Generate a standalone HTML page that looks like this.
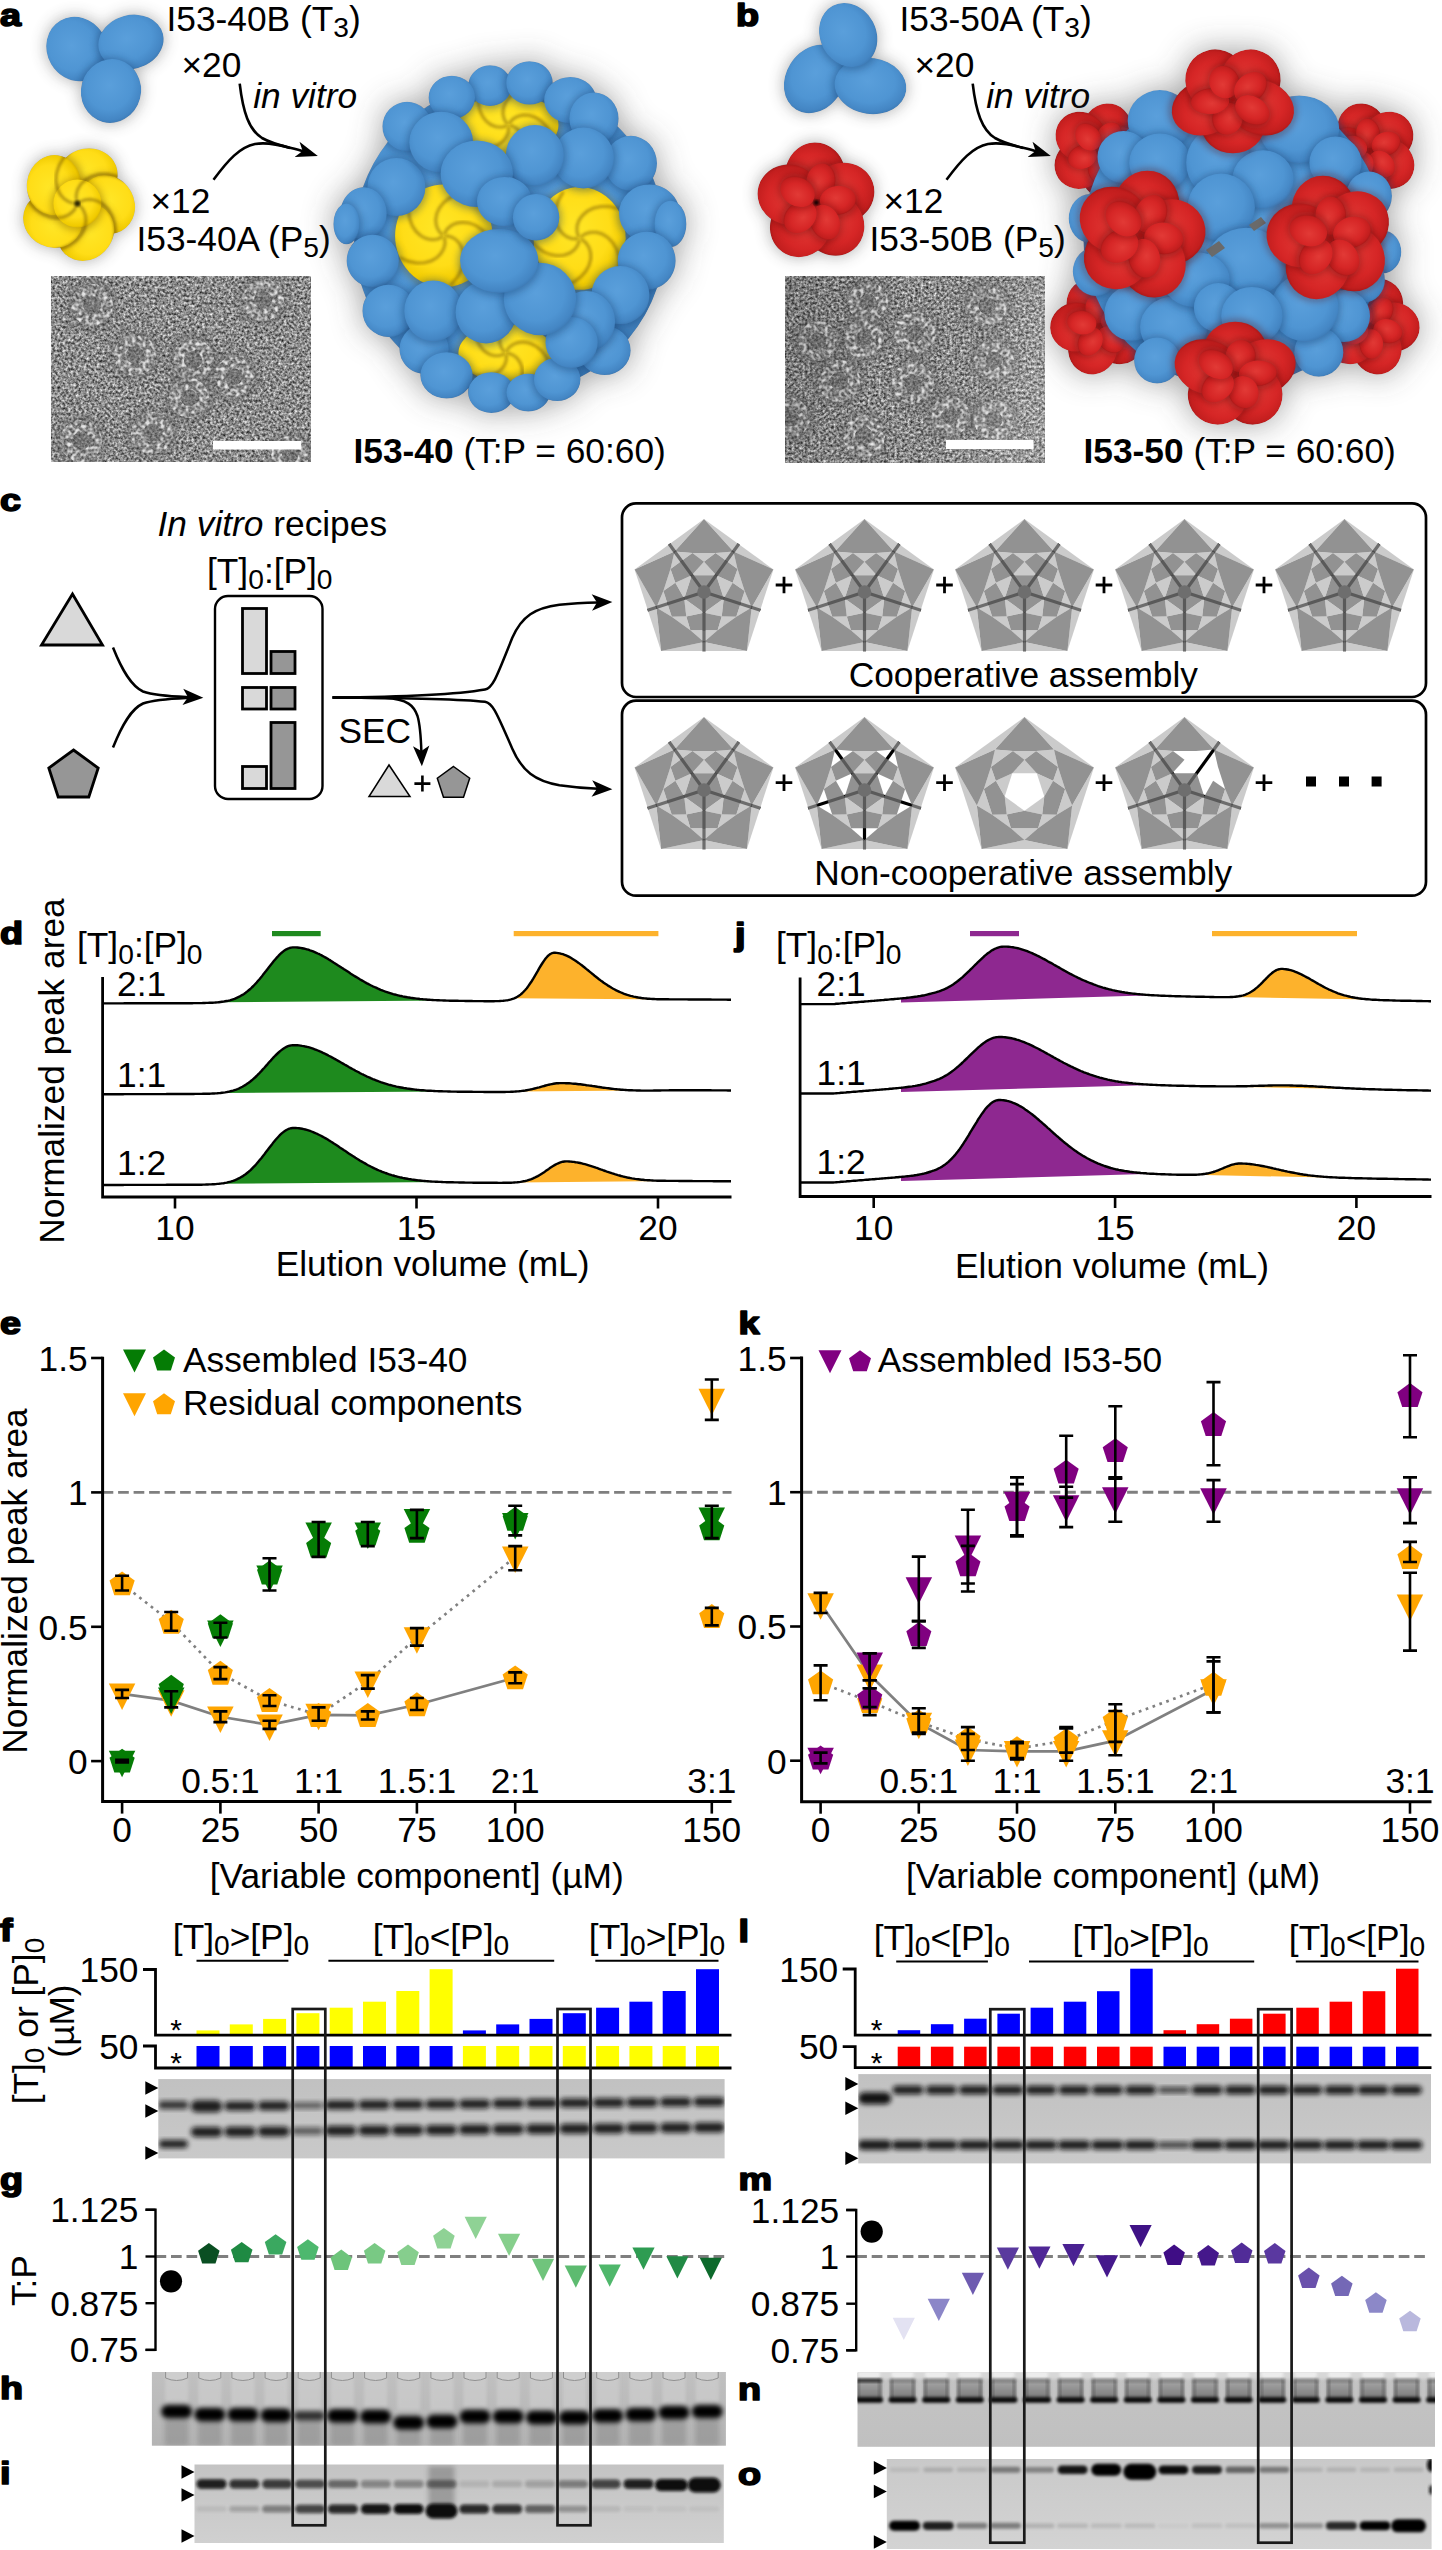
<!DOCTYPE html>
<html><head><meta charset="utf-8"><title>Figure</title>
<style>html,body{margin:0;padding:0;background:#fff}svg{display:block}text{font-family:"Liberation Sans",sans-serif}</style>
</head><body>
<svg width="1442" height="2550" viewBox="0 0 1442 2550">
<defs>
<radialGradient id="gB" cx="0.45" cy="0.42" r="0.62"><stop offset="0" stop-color="#5a9fdb"/><stop offset="0.62" stop-color="#4f95d3"/><stop offset="0.88" stop-color="#4486c4"/><stop offset="1" stop-color="#3a76b0"/></radialGradient>
<radialGradient id="gY" cx="0.45" cy="0.42" r="0.62"><stop offset="0" stop-color="#ffe626"/><stop offset="0.6" stop-color="#ffdd17"/><stop offset="0.88" stop-color="#f0ca00"/><stop offset="1" stop-color="#cfa900"/></radialGradient>
<radialGradient id="gR" cx="0.45" cy="0.42" r="0.62"><stop offset="0" stop-color="#e23a36"/><stop offset="0.6" stop-color="#d62626"/><stop offset="0.88" stop-color="#c21e1e"/><stop offset="1" stop-color="#a01515"/></radialGradient>
<radialGradient id="gSh" cx="0.5" cy="0.5" r="0.5"><stop offset="0" stop-color="#000" stop-opacity="0.2"/><stop offset="0.74" stop-color="#000" stop-opacity="0.17"/><stop offset="0.84" stop-color="#000" stop-opacity="0.09"/><stop offset="0.93" stop-color="#000" stop-opacity="0.03"/><stop offset="1" stop-color="#000" stop-opacity="0"/></radialGradient>
<linearGradient id="emg" x1="0" y1="0" x2="1" y2="0.2"><stop offset="0" stop-color="#000" stop-opacity="0.16"/><stop offset="0.5" stop-color="#000" stop-opacity="0"/><stop offset="1" stop-color="#fff" stop-opacity="0.14"/></linearGradient>
<filter id="soft" x="-10%" y="-10%" width="120%" height="120%"><feGaussianBlur stdDeviation="0.8"/></filter>
<filter id="crease" x="-10%" y="-10%" width="120%" height="120%"><feGaussianBlur stdDeviation="1.6"/></filter>
<filter id="glS" x="-40%" y="-40%" width="180%" height="180%"><feGaussianBlur stdDeviation="8"/></filter>
<filter id="glL" x="-20%" y="-20%" width="140%" height="140%"><feGaussianBlur stdDeviation="16"/></filter>
<filter id="ao" x="-30%" y="-30%" width="160%" height="160%"><feGaussianBlur stdDeviation="3.6"/></filter>
<marker id="arrL" viewBox="0 0 12 10" refX="4" refY="5" markerWidth="8.5" markerHeight="7" orient="auto" markerUnits="strokeWidth"><path d="M0,0.6 L12,5 L0,9.4 L3.2,5 Z" fill="#000"/></marker>
<clipPath id="pc1"><ellipse cx="77.0" cy="49.0" rx="30.0" ry="33.0" transform="rotate(-30 77.0 49.0)"/><ellipse cx="131.0" cy="42.0" rx="33.0" ry="27.0" transform="rotate(-15 131.0 42.0)"/><ellipse cx="111.0" cy="91.0" rx="30.0" ry="32.0" transform="rotate(15 111.0 91.0)"/></clipPath>
<clipPath id="pc2"><ellipse cx="87.7" cy="175.3" rx="30.0" ry="27.0" transform="rotate(-10 87.7 175.3)"/><ellipse cx="107.4" cy="204.5" rx="30.0" ry="27.0" transform="rotate(62 107.4 204.5)"/><ellipse cx="85.7" cy="232.3" rx="30.0" ry="27.0" transform="rotate(134 85.7 232.3)"/><ellipse cx="52.5" cy="220.3" rx="30.0" ry="27.0" transform="rotate(206 52.5 220.3)"/><ellipse cx="53.8" cy="185.0" rx="30.0" ry="27.0" transform="rotate(278 53.8 185.0)"/><ellipse cx="77.4" cy="203.5" rx="24.0" ry="24.0"/></clipPath>
<clipPath id="pc3"><ellipse cx="509.7" cy="238.4" rx="155.5" ry="155.5"/><ellipse cx="508.4" cy="125.1" rx="50.1" ry="31.6"/><ellipse cx="443.8" cy="235.8" rx="48.7" ry="51.4"/><ellipse cx="579.6" cy="238.4" rx="46.1" ry="51.4"/><ellipse cx="505.8" cy="353.0" rx="47.4" ry="29.0"/><ellipse cx="490.0" cy="85.6" rx="21.7" ry="20.3"/><ellipse cx="529.5" cy="82.9" rx="23.2" ry="21.7"/><ellipse cx="451.8" cy="97.4" rx="23.2" ry="21.7"/><ellipse cx="570.3" cy="100.1" rx="26.1" ry="23.2"/><ellipse cx="594.0" cy="118.5" rx="24.6" ry="26.1"/><ellipse cx="407.0" cy="126.4" rx="24.6" ry="24.6"/><ellipse cx="396.4" cy="187.0" rx="29.0" ry="29.0"/><ellipse cx="630.9" cy="163.3" rx="26.1" ry="27.5"/><ellipse cx="649.4" cy="213.4" rx="30.4" ry="29.0"/><ellipse cx="670.5" cy="223.9" rx="15.9" ry="23.2"/><ellipse cx="646.7" cy="260.8" rx="29.0" ry="29.0"/><ellipse cx="363.5" cy="213.4" rx="23.2" ry="26.1"/><ellipse cx="346.4" cy="223.9" rx="13.0" ry="20.3"/><ellipse cx="372.7" cy="260.8" rx="26.1" ry="26.1"/><ellipse cx="388.5" cy="310.9" rx="26.1" ry="26.1"/><ellipse cx="604.6" cy="350.4" rx="26.1" ry="24.6"/><ellipse cx="424.1" cy="349.1" rx="24.6" ry="24.6"/><ellipse cx="446.5" cy="375.4" rx="26.1" ry="23.2"/><ellipse cx="491.3" cy="392.6" rx="23.2" ry="20.3"/><ellipse cx="528.2" cy="392.6" rx="21.7" ry="18.8"/><ellipse cx="557.2" cy="379.4" rx="23.2" ry="21.7"/><ellipse cx="620.4" cy="295.1" rx="29.0" ry="29.0"/><ellipse cx="441.2" cy="142.2" rx="31.9" ry="30.4"/><ellipse cx="583.5" cy="158.0" rx="30.4" ry="30.4"/><ellipse cx="433.3" cy="310.9" rx="29.0" ry="30.4"/><ellipse cx="586.1" cy="321.4" rx="29.0" ry="30.4"/><ellipse cx="571.6" cy="342.5" rx="26.1" ry="25.5"/><ellipse cx="534.8" cy="155.4" rx="29.0" ry="30.4"/><ellipse cx="476.8" cy="173.8" rx="36.2" ry="33.3"/><ellipse cx="486.0" cy="312.2" rx="30.4" ry="31.3"/><ellipse cx="540.0" cy="299.0" rx="36.2" ry="36.2"/><ellipse cx="499.2" cy="260.8" rx="39.1" ry="31.9"/><ellipse cx="504.5" cy="201.5" rx="27.5" ry="24.6"/><ellipse cx="536.1" cy="217.3" rx="23.2" ry="23.2"/></clipPath>
<filter id="em7" x="0" y="0" width="100%" height="100%" color-interpolation-filters="sRGB"><feTurbulence type="fractalNoise" baseFrequency="0.38" numOctaves="2" seed="7" result="n"/><feColorMatrix in="n" type="matrix" values="1.15 0 0 0 -0.03  1.15 0 0 0 -0.03  1.15 0 0 0 -0.03  0 0 0 0 1"/></filter>
<filter id="em7p" x="-20%" y="-20%" width="140%" height="140%" color-interpolation-filters="sRGB"><feTurbulence type="fractalNoise" baseFrequency="0.28" numOctaves="1" seed="12" result="n"/><feColorMatrix in="n" type="matrix" values="0 0 0 0 1  0 0 0 0 1  0 0 0 0 1  3.2 0 0 0 -1.35" result="spk"/><feComposite in="spk" in2="SourceGraphic" operator="in"/></filter>
<clipPath id="em7c"><rect x="51" y="276" width="260" height="186"/></clipPath>
<clipPath id="pc4"><ellipse cx="815.0" cy="79.0" rx="29.0" ry="36.0" transform="rotate(32 815.0 79.0)"/><ellipse cx="870.5" cy="86.0" rx="36.0" ry="28.0" transform="rotate(8 870.5 86.0)"/><ellipse cx="848.2" cy="35.0" rx="28.0" ry="33.0" transform="rotate(-28 848.2 35.0)"/></clipPath>
<clipPath id="pc5"><ellipse cx="816.3" cy="202.5" rx="44.4" ry="44.4"/><ellipse cx="815.3" cy="174.3" rx="31.8" ry="30.0" transform="rotate(-92 815.3 174.3)"/><ellipse cx="842.8" cy="192.9" rx="31.8" ry="30.0" transform="rotate(-20 842.8 192.9)"/><ellipse cx="833.7" cy="224.7" rx="31.8" ry="30.0" transform="rotate(52 833.7 224.7)"/><ellipse cx="800.5" cy="225.9" rx="31.8" ry="30.0" transform="rotate(124 800.5 225.9)"/><ellipse cx="789.2" cy="194.7" rx="31.8" ry="30.0" transform="rotate(196 789.2 194.7)"/><ellipse cx="820.8" cy="181.4" rx="18.0" ry="14.4" transform="rotate(-78 820.8 181.4)"/><ellipse cx="837.8" cy="200.2" rx="18.0" ry="14.4" transform="rotate(-6 837.8 200.2)"/><ellipse cx="825.1" cy="222.2" rx="18.0" ry="14.4" transform="rotate(66 825.1 222.2)"/><ellipse cx="800.2" cy="217.0" rx="18.0" ry="14.4" transform="rotate(138 800.2 217.0)"/><ellipse cx="797.6" cy="191.7" rx="18.0" ry="14.4" transform="rotate(210 797.6 191.7)"/></clipPath>
<clipPath id="pc6"><ellipse cx="1099.1" cy="151.0" rx="36.3" ry="36.3"/><ellipse cx="1107.0" cy="129.3" rx="26.0" ry="24.5" transform="rotate(-70 1107.0 129.3)"/><ellipse cx="1122.1" cy="151.8" rx="26.0" ry="24.5" transform="rotate(2 1122.1 151.8)"/><ellipse cx="1105.5" cy="173.1" rx="26.0" ry="24.5" transform="rotate(74 1105.5 173.1)"/><ellipse cx="1080.0" cy="163.9" rx="26.0" ry="24.5" transform="rotate(146 1080.0 163.9)"/><ellipse cx="1080.9" cy="136.8" rx="26.0" ry="24.5" transform="rotate(218 1080.9 136.8)"/><ellipse cx="1109.0" cy="136.3" rx="14.7" ry="11.8" transform="rotate(-56 1109.0 136.3)"/><ellipse cx="1116.1" cy="155.8" rx="14.7" ry="11.8" transform="rotate(16 1116.1 155.8)"/><ellipse cx="1099.7" cy="168.6" rx="14.7" ry="11.8" transform="rotate(88 1099.7 168.6)"/><ellipse cx="1082.5" cy="157.0" rx="14.7" ry="11.8" transform="rotate(160 1082.5 157.0)"/><ellipse cx="1088.2" cy="137.0" rx="14.7" ry="11.8" transform="rotate(232 1088.2 137.0)"/><ellipse cx="1369.8" cy="151.0" rx="36.3" ry="36.3"/><ellipse cx="1361.9" cy="129.3" rx="26.0" ry="24.5" transform="rotate(-110 1361.9 129.3)"/><ellipse cx="1388.0" cy="136.8" rx="26.0" ry="24.5" transform="rotate(-38 1388.0 136.8)"/><ellipse cx="1388.9" cy="163.9" rx="26.0" ry="24.5" transform="rotate(34 1388.9 163.9)"/><ellipse cx="1363.4" cy="173.1" rx="26.0" ry="24.5" transform="rotate(106 1363.4 173.1)"/><ellipse cx="1346.8" cy="151.8" rx="26.0" ry="24.5" transform="rotate(178 1346.8 151.8)"/><ellipse cx="1368.0" cy="133.4" rx="14.7" ry="11.8" transform="rotate(-96 1368.0 133.4)"/><ellipse cx="1385.9" cy="143.8" rx="14.7" ry="11.8" transform="rotate(-24 1385.9 143.8)"/><ellipse cx="1381.6" cy="164.1" rx="14.7" ry="11.8" transform="rotate(48 1381.6 164.1)"/><ellipse cx="1361.0" cy="166.3" rx="14.7" ry="11.8" transform="rotate(120 1361.0 166.3)"/><ellipse cx="1352.5" cy="147.3" rx="14.7" ry="11.8" transform="rotate(192 1352.5 147.3)"/><ellipse cx="1099.1" cy="326.3" rx="36.3" ry="36.3"/><ellipse cx="1091.2" cy="304.6" rx="26.0" ry="24.5" transform="rotate(-110 1091.2 304.6)"/><ellipse cx="1117.3" cy="312.1" rx="26.0" ry="24.5" transform="rotate(-38 1117.3 312.1)"/><ellipse cx="1118.2" cy="339.2" rx="26.0" ry="24.5" transform="rotate(34 1118.2 339.2)"/><ellipse cx="1092.7" cy="348.5" rx="26.0" ry="24.5" transform="rotate(106 1092.7 348.5)"/><ellipse cx="1076.1" cy="327.1" rx="26.0" ry="24.5" transform="rotate(178 1076.1 327.1)"/><ellipse cx="1097.3" cy="308.7" rx="14.7" ry="11.8" transform="rotate(-96 1097.3 308.7)"/><ellipse cx="1115.2" cy="319.1" rx="14.7" ry="11.8" transform="rotate(-24 1115.2 319.1)"/><ellipse cx="1110.9" cy="339.4" rx="14.7" ry="11.8" transform="rotate(48 1110.9 339.4)"/><ellipse cx="1090.3" cy="341.6" rx="14.7" ry="11.8" transform="rotate(120 1090.3 341.6)"/><ellipse cx="1081.8" cy="322.6" rx="14.7" ry="11.8" transform="rotate(192 1081.8 322.6)"/><ellipse cx="1370.6" cy="326.3" rx="36.3" ry="36.3"/><ellipse cx="1378.5" cy="304.6" rx="26.0" ry="24.5" transform="rotate(-70 1378.5 304.6)"/><ellipse cx="1393.7" cy="327.1" rx="26.0" ry="24.5" transform="rotate(2 1393.7 327.1)"/><ellipse cx="1377.0" cy="348.5" rx="26.0" ry="24.5" transform="rotate(74 1377.0 348.5)"/><ellipse cx="1351.5" cy="339.2" rx="26.0" ry="24.5" transform="rotate(146 1351.5 339.2)"/><ellipse cx="1352.5" cy="312.1" rx="26.0" ry="24.5" transform="rotate(218 1352.5 312.1)"/><ellipse cx="1380.5" cy="311.7" rx="14.7" ry="11.8" transform="rotate(-56 1380.5 311.7)"/><ellipse cx="1387.6" cy="331.2" rx="14.7" ry="11.8" transform="rotate(16 1387.6 331.2)"/><ellipse cx="1371.3" cy="344.0" rx="14.7" ry="11.8" transform="rotate(88 1371.3 344.0)"/><ellipse cx="1354.0" cy="332.4" rx="14.7" ry="11.8" transform="rotate(160 1354.0 332.4)"/><ellipse cx="1359.8" cy="312.4" rx="14.7" ry="11.8" transform="rotate(232 1359.8 312.4)"/><ellipse cx="1233.8" cy="236.5" rx="150.5" ry="150.5"/><ellipse cx="1159.9" cy="120.8" rx="32.2" ry="30.7"/><ellipse cx="1123.6" cy="157.1" rx="26.1" ry="26.1"/><ellipse cx="1159.9" cy="162.7" rx="30.7" ry="29.1"/><ellipse cx="1299.3" cy="129.2" rx="39.9" ry="33.7"/><ellipse cx="1335.5" cy="162.7" rx="26.1" ry="26.1"/><ellipse cx="1369.0" cy="196.1" rx="23.0" ry="24.5"/><ellipse cx="1382.9" cy="251.9" rx="18.4" ry="21.5"/><ellipse cx="1090.2" cy="218.4" rx="21.5" ry="24.5"/><ellipse cx="1095.8" cy="271.4" rx="23.0" ry="24.5"/><ellipse cx="1132.0" cy="313.2" rx="27.6" ry="27.6"/><ellipse cx="1173.8" cy="327.1" rx="33.7" ry="30.7"/><ellipse cx="1157.1" cy="360.6" rx="23.0" ry="23.0"/><ellipse cx="1363.4" cy="279.8" rx="21.5" ry="23.0"/><ellipse cx="1343.9" cy="316.0" rx="26.1" ry="26.1"/><ellipse cx="1318.8" cy="352.2" rx="24.5" ry="24.5"/><ellipse cx="1304.8" cy="307.6" rx="33.7" ry="33.7"/><ellipse cx="1218.4" cy="162.7" rx="32.2" ry="35.3"/><ellipse cx="1263.0" cy="179.4" rx="30.7" ry="29.1"/><ellipse cx="1221.2" cy="207.3" rx="33.7" ry="33.7"/><ellipse cx="1246.3" cy="263.0" rx="39.9" ry="35.3"/><ellipse cx="1196.1" cy="279.8" rx="33.7" ry="27.6"/><ellipse cx="1218.4" cy="307.6" rx="24.5" ry="24.5"/><ellipse cx="1251.9" cy="316.0" rx="30.7" ry="29.1"/><ellipse cx="1232.9" cy="99.9" rx="47.0" ry="39.5"/><ellipse cx="1232.9" cy="125.0" rx="28.3" ry="31.8" transform="rotate(90 1232.9 125.0)"/><ellipse cx="1204.5" cy="107.7" rx="33.2" ry="27.2" transform="rotate(162 1204.5 107.7)"/><ellipse cx="1215.4" cy="79.6" rx="30.3" ry="30.1" transform="rotate(234 1215.4 79.6)"/><ellipse cx="1250.5" cy="79.6" rx="30.3" ry="30.1" transform="rotate(306 1250.5 79.6)"/><ellipse cx="1261.3" cy="107.7" rx="33.2" ry="27.2" transform="rotate(378 1261.3 107.7)"/><ellipse cx="1227.4" cy="118.6" rx="16.2" ry="15.1" transform="rotate(104 1227.4 118.6)"/><ellipse cx="1210.1" cy="101.3" rx="19.1" ry="12.8" transform="rotate(176 1210.1 101.3)"/><ellipse cx="1224.3" cy="82.1" rx="16.5" ry="14.9" transform="rotate(248 1224.3 82.1)"/><ellipse cx="1250.4" cy="87.6" rx="17.9" ry="13.9" transform="rotate(320 1250.4 87.6)"/><ellipse cx="1252.3" cy="110.1" rx="18.3" ry="13.5" transform="rotate(392 1252.3 110.1)"/><ellipse cx="1140.4" cy="235.1" rx="48.3" ry="48.3"/><ellipse cx="1146.7" cy="205.2" rx="34.6" ry="32.6" transform="rotate(-78 1146.7 205.2)"/><ellipse cx="1170.9" cy="231.9" rx="34.6" ry="32.6" transform="rotate(-6 1170.9 231.9)"/><ellipse cx="1152.8" cy="263.2" rx="34.6" ry="32.6" transform="rotate(66 1152.8 263.2)"/><ellipse cx="1117.6" cy="255.7" rx="34.6" ry="32.6" transform="rotate(138 1117.6 255.7)"/><ellipse cx="1113.8" cy="219.8" rx="34.6" ry="32.6" transform="rotate(210 1113.8 219.8)"/><ellipse cx="1150.7" cy="214.0" rx="19.6" ry="15.7" transform="rotate(-64 1150.7 214.0)"/><ellipse cx="1163.6" cy="238.4" rx="19.6" ry="15.7" transform="rotate(8 1163.6 238.4)"/><ellipse cx="1144.4" cy="258.3" rx="19.6" ry="15.7" transform="rotate(80 1144.4 258.3)"/><ellipse cx="1119.6" cy="246.2" rx="19.6" ry="15.7" transform="rotate(152 1119.6 246.2)"/><ellipse cx="1123.5" cy="218.8" rx="19.6" ry="15.7" transform="rotate(224 1123.5 218.8)"/><ellipse cx="1329.9" cy="238.5" rx="47.0" ry="47.0"/><ellipse cx="1323.7" cy="209.3" rx="33.7" ry="31.8" transform="rotate(-102 1323.7 209.3)"/><ellipse cx="1355.8" cy="223.6" rx="33.7" ry="31.8" transform="rotate(-30 1355.8 223.6)"/><ellipse cx="1352.1" cy="258.5" rx="33.7" ry="31.8" transform="rotate(42 1352.1 258.5)"/><ellipse cx="1317.8" cy="265.8" rx="33.7" ry="31.8" transform="rotate(114 1317.8 265.8)"/><ellipse cx="1300.2" cy="235.4" rx="33.7" ry="31.8" transform="rotate(186 1300.2 235.4)"/><ellipse cx="1330.7" cy="215.6" rx="19.1" ry="15.3" transform="rotate(-88 1330.7 215.6)"/><ellipse cx="1351.9" cy="232.2" rx="19.1" ry="15.3" transform="rotate(-16 1351.9 232.2)"/><ellipse cx="1342.7" cy="257.5" rx="19.1" ry="15.3" transform="rotate(56 1342.7 257.5)"/><ellipse cx="1315.8" cy="256.5" rx="19.1" ry="15.3" transform="rotate(128 1315.8 256.5)"/><ellipse cx="1308.4" cy="230.7" rx="19.1" ry="15.3" transform="rotate(200 1308.4 230.7)"/><ellipse cx="1235.1" cy="374.5" rx="46.6" ry="39.2"/><ellipse cx="1235.1" cy="349.7" rx="28.0" ry="31.5" transform="rotate(-90 1235.1 349.7)"/><ellipse cx="1263.3" cy="366.9" rx="32.9" ry="27.0" transform="rotate(-18 1263.3 366.9)"/><ellipse cx="1252.6" cy="394.7" rx="30.0" ry="29.9" transform="rotate(54 1252.6 394.7)"/><ellipse cx="1217.7" cy="394.7" rx="30.0" ry="29.9" transform="rotate(126 1217.7 394.7)"/><ellipse cx="1207.0" cy="366.9" rx="32.9" ry="27.0" transform="rotate(198 1207.0 366.9)"/><ellipse cx="1240.6" cy="356.1" rx="16.1" ry="15.0" transform="rotate(-76 1240.6 356.1)"/><ellipse cx="1257.8" cy="373.2" rx="18.9" ry="12.7" transform="rotate(-4 1257.8 373.2)"/><ellipse cx="1243.6" cy="392.2" rx="16.3" ry="14.8" transform="rotate(68 1243.6 392.2)"/><ellipse cx="1217.8" cy="386.8" rx="17.7" ry="13.8" transform="rotate(140 1217.8 386.8)"/><ellipse cx="1215.9" cy="364.4" rx="18.1" ry="13.4" transform="rotate(212 1215.9 364.4)"/></clipPath>
<filter id="em11" x="0" y="0" width="100%" height="100%" color-interpolation-filters="sRGB"><feTurbulence type="fractalNoise" baseFrequency="0.38" numOctaves="2" seed="11" result="n"/><feColorMatrix in="n" type="matrix" values="1.15 0 0 0 -0.03  1.15 0 0 0 -0.03  1.15 0 0 0 -0.03  0 0 0 0 1"/></filter>
<filter id="em11p" x="-20%" y="-20%" width="140%" height="140%" color-interpolation-filters="sRGB"><feTurbulence type="fractalNoise" baseFrequency="0.28" numOctaves="1" seed="16" result="n"/><feColorMatrix in="n" type="matrix" values="0 0 0 0 1  0 0 0 0 1  0 0 0 0 1  3.2 0 0 0 -1.35" result="spk"/><feComposite in="spk" in2="SourceGraphic" operator="in"/></filter>
<clipPath id="em11c"><rect x="785" y="276.3" width="260" height="186.4"/></clipPath>
<marker id="arr" viewBox="0 0 10 10" refX="3" refY="5" markerWidth="9.4" markerHeight="8.2" orient="auto" markerUnits="strokeWidth"><path d="M0,1 L10,5 L0,9 L2.5,5 Z" fill="#000"/></marker>
<filter id="b1" x="-20%" y="-50%" width="140%" height="200%"><feGaussianBlur stdDeviation="1.6"/></filter>
<filter id="b2" x="-20%" y="-50%" width="140%" height="200%"><feGaussianBlur stdDeviation="2.4"/></filter>
<filter id="b3" x="-20%" y="-20%" width="140%" height="140%"><feGaussianBlur stdDeviation="4"/></filter>
<filter id="gnoise" x="0" y="0" width="100%" height="100%"><feTurbulence type="fractalNoise" baseFrequency="0.9" numOctaves="2" seed="3"/><feColorMatrix type="matrix" values="0 0 0 0 0  0 0 0 0 0  0 0 0 0 0  0.25 0 0 0 -0.05"/><feComposite in2="SourceGraphic" operator="in"/></filter>
<linearGradient id="gg1" x1="0" y1="0" x2="0" y2="1"><stop offset="0" stop-color="#c1c1c1"/><stop offset="1" stop-color="#c9c9c9"/></linearGradient>
<clipPath id="cgg1"><rect x="158.3" y="2079.1" width="566.3" height="79.3"/></clipPath>
<linearGradient id="gg2" x1="0" y1="0" x2="0" y2="1"><stop offset="0" stop-color="#c1c1c1"/><stop offset="1" stop-color="#cacaca"/></linearGradient>
<clipPath id="cgg2"><rect x="858.3" y="2074.1" width="572.7" height="89.3"/></clipPath>
<linearGradient id="gg3" x1="0" y1="0" x2="0" y2="1"><stop offset="0" stop-color="#c0c0c0"/><stop offset="1" stop-color="#b4b4b4"/></linearGradient>
<clipPath id="cgg3"><rect x="151.9" y="2372.0" width="574.0" height="73.7"/></clipPath>
<linearGradient id="gg4" x1="0" y1="0" x2="0" y2="1"><stop offset="0" stop-color="#c3c3c3"/><stop offset="1" stop-color="#d0d0d0"/></linearGradient>
<clipPath id="cgg4"><rect x="194.5" y="2464.5" width="529.3" height="78.5"/></clipPath>
<linearGradient id="lanen" x1="0" y1="0" x2="0" y2="1"><stop offset="0" stop-color="#a8a8a8"/><stop offset="1" stop-color="#6e6e6e"/></linearGradient>
<linearGradient id="gg5" x1="0" y1="0" x2="0" y2="1"><stop offset="0" stop-color="#c4c4c4"/><stop offset="1" stop-color="#c0c0c0"/></linearGradient>
<clipPath id="cgg5"><rect x="857.5" y="2372.5" width="577.5" height="74.3"/></clipPath>
<linearGradient id="gg6" x1="0" y1="0" x2="0" y2="1"><stop offset="0" stop-color="#c9c9c9"/><stop offset="1" stop-color="#d3d3d3"/></linearGradient>
<clipPath id="cgg6"><rect x="886.8" y="2459.0" width="544.8" height="90.0"/></clipPath>
</defs>
<rect width="1442" height="2550" fill="#fff"/>
<text x="0" y="26" font-size="32" font-weight="bold" stroke="#000" stroke-width="1.7" stroke-linejoin="round" transform="translate(0,0) scale(1.18,1) translate(0,0)">a</text>
<g filter="url(#glS)" opacity="0.42" fill="#3c3c3c"><ellipse cx="77.0" cy="49.0" rx="30.0" ry="33.0" transform="rotate(-30 77.0 49.0)"/><ellipse cx="131.0" cy="42.0" rx="33.0" ry="27.0" transform="rotate(-15 131.0 42.0)"/><ellipse cx="111.0" cy="91.0" rx="30.0" ry="32.0" transform="rotate(15 111.0 91.0)"/></g>
<g clip-path="url(#pc1)">
<ellipse cx="77.0" cy="50.0" rx="32.5" ry="35.5" fill="#143e6e" opacity="0.38" filter="url(#ao)" transform="rotate(-30 77.0 49.0)"/>
<ellipse cx="77.0" cy="49.0" rx="30.0" ry="33.0" fill="url(#gB)" transform="rotate(-30 77.0 49.0)"/>
<ellipse cx="131.0" cy="43.0" rx="35.5" ry="29.5" fill="#143e6e" opacity="0.38" filter="url(#ao)" transform="rotate(-15 131.0 42.0)"/>
<ellipse cx="131.0" cy="42.0" rx="33.0" ry="27.0" fill="url(#gB)" transform="rotate(-15 131.0 42.0)"/>
<ellipse cx="111.0" cy="92.0" rx="32.5" ry="34.5" fill="#143e6e" opacity="0.38" filter="url(#ao)" transform="rotate(15 111.0 91.0)"/>
<ellipse cx="111.0" cy="91.0" rx="30.0" ry="32.0" fill="url(#gB)" transform="rotate(15 111.0 91.0)"/>
</g>
<g filter="url(#glS)" opacity="0.42" fill="#3c3c3c"><ellipse cx="87.7" cy="175.3" rx="30.0" ry="27.0" transform="rotate(-10 87.7 175.3)"/><ellipse cx="107.4" cy="204.5" rx="30.0" ry="27.0" transform="rotate(62 107.4 204.5)"/><ellipse cx="85.7" cy="232.3" rx="30.0" ry="27.0" transform="rotate(134 85.7 232.3)"/><ellipse cx="52.5" cy="220.3" rx="30.0" ry="27.0" transform="rotate(206 52.5 220.3)"/><ellipse cx="53.8" cy="185.0" rx="30.0" ry="27.0" transform="rotate(278 53.8 185.0)"/><ellipse cx="77.4" cy="203.5" rx="24.0" ry="24.0"/></g>
<g clip-path="url(#pc2)">
<ellipse cx="87.7" cy="176.3" rx="32.5" ry="29.5" fill="#7a5c00" opacity="0.4" filter="url(#ao)" transform="rotate(-10 87.7 175.3)"/>
<ellipse cx="87.7" cy="175.3" rx="30.0" ry="27.0" fill="url(#gY)" transform="rotate(-10 87.7 175.3)"/>
<ellipse cx="107.4" cy="205.5" rx="32.5" ry="29.5" fill="#7a5c00" opacity="0.4" filter="url(#ao)" transform="rotate(62 107.4 204.5)"/>
<ellipse cx="107.4" cy="204.5" rx="30.0" ry="27.0" fill="url(#gY)" transform="rotate(62 107.4 204.5)"/>
<ellipse cx="85.7" cy="233.3" rx="32.5" ry="29.5" fill="#7a5c00" opacity="0.4" filter="url(#ao)" transform="rotate(134 85.7 232.3)"/>
<ellipse cx="85.7" cy="232.3" rx="30.0" ry="27.0" fill="url(#gY)" transform="rotate(134 85.7 232.3)"/>
<ellipse cx="52.5" cy="221.3" rx="32.5" ry="29.5" fill="#7a5c00" opacity="0.4" filter="url(#ao)" transform="rotate(206 52.5 220.3)"/>
<ellipse cx="52.5" cy="220.3" rx="30.0" ry="27.0" fill="url(#gY)" transform="rotate(206 52.5 220.3)"/>
<ellipse cx="53.8" cy="186.0" rx="32.5" ry="29.5" fill="#7a5c00" opacity="0.4" filter="url(#ao)" transform="rotate(278 53.8 185.0)"/>
<ellipse cx="53.8" cy="185.0" rx="30.0" ry="27.0" fill="url(#gY)" transform="rotate(278 53.8 185.0)"/>
<ellipse cx="77.4" cy="204.5" rx="26.5" ry="26.5" fill="#7a5c00" opacity="0.4" filter="url(#ao)"/>
<ellipse cx="77.4" cy="203.5" rx="24.0" ry="24.0" fill="url(#gY)"/>
<path d="M79.7,201.9 L84.9,199.8 L90.8,199.4 L96.8,200.8 L102.6,203.9 L107.7,208.8 L111.8,215.4 L114.5,223.2 L115.4,232.1 L114.4,241.8" fill="none" stroke="#5a3c00" stroke-width="2.2" opacity="0.6" stroke-linecap="round" filter="url(#crease)"/>
<path d="M79.6,205.2 L83.2,209.5 L85.4,215.0 L86.0,221.1 L84.8,227.6 L81.7,234.0 L76.8,239.9 L70.1,244.9 L61.9,248.5 L52.4,250.5" fill="none" stroke="#5a3c00" stroke-width="2.2" opacity="0.6" stroke-linecap="round" filter="url(#crease)"/>
<path d="M76.5,206.1 L73.5,210.9 L69.0,214.7 L63.3,217.1 L56.8,218.0 L49.7,217.0 L42.6,214.1 L35.8,209.3 L29.8,202.7 L25.0,194.3" fill="none" stroke="#5a3c00" stroke-width="2.2" opacity="0.6" stroke-linecap="round" filter="url(#crease)"/>
<path d="M74.6,203.5 L69.1,202.0 L64.2,198.9 L60.1,194.3 L57.3,188.3 L56.0,181.3 L56.5,173.7 L59.0,165.8 L63.5,158.0 L70.0,150.8" fill="none" stroke="#5a3c00" stroke-width="2.2" opacity="0.6" stroke-linecap="round" filter="url(#crease)"/>
<path d="M76.6,200.8 L76.2,195.2 L77.6,189.5 L80.8,184.2 L85.6,179.7 L91.9,176.3 L99.3,174.4 L107.6,174.3 L116.4,176.2 L125.2,180.2" fill="none" stroke="#5a3c00" stroke-width="2.2" opacity="0.6" stroke-linecap="round" filter="url(#crease)"/>
<circle cx="77.4" cy="203.5" r="3" fill="#000" opacity="0.8" filter="url(#soft)"/>
</g>
<text x="166.5" y="30.9" font-size="35.3">I53-40B (T<tspan font-size="28.2" dy="6.3">3</tspan><tspan dy="-6.3" font-size="35.3">&#8203;</tspan>)</text>
<text x="181.5" y="76.5" font-size="35.3" fill="#000" >×20</text>
<text x="253.2" y="107.8" font-size="35.3" font-style="italic" fill="#000" >in vitro</text>
<text x="150.5" y="212.5" font-size="35.3" fill="#000" >×12</text>
<text x="136.5" y="251" font-size="35.3">I53-40A (P<tspan font-size="28.2" dy="6.3">5</tspan><tspan dy="-6.3" font-size="35.3">&#8203;</tspan>)</text>
<text x="353.5" y="462.5" font-size="35.3"><tspan font-weight="bold">I53-40</tspan> (T:P = 60:60)</text>
<path d="M239.7,83.6 C243,112 249,130 262,138 C276,146 290,147 304,151.5" fill="none" stroke="#000" stroke-width="2.6" marker-end="url(#arrL)"/>
<path d="M213.5,179.8 C228,160 240,147 255,144 C268,142 280,145 290,148" fill="none" stroke="#000" stroke-width="2.6"/>
<g filter="url(#glL)" opacity="0.5" fill="#3c3c3c"><ellipse cx="509.7" cy="238.4" rx="155.5" ry="155.5"/><ellipse cx="508.4" cy="125.1" rx="50.1" ry="31.6"/><ellipse cx="443.8" cy="235.8" rx="48.7" ry="51.4"/><ellipse cx="579.6" cy="238.4" rx="46.1" ry="51.4"/><ellipse cx="505.8" cy="353.0" rx="47.4" ry="29.0"/><ellipse cx="490.0" cy="85.6" rx="21.7" ry="20.3"/><ellipse cx="529.5" cy="82.9" rx="23.2" ry="21.7"/><ellipse cx="451.8" cy="97.4" rx="23.2" ry="21.7"/><ellipse cx="570.3" cy="100.1" rx="26.1" ry="23.2"/><ellipse cx="594.0" cy="118.5" rx="24.6" ry="26.1"/><ellipse cx="407.0" cy="126.4" rx="24.6" ry="24.6"/><ellipse cx="396.4" cy="187.0" rx="29.0" ry="29.0"/><ellipse cx="630.9" cy="163.3" rx="26.1" ry="27.5"/><ellipse cx="649.4" cy="213.4" rx="30.4" ry="29.0"/><ellipse cx="670.5" cy="223.9" rx="15.9" ry="23.2"/><ellipse cx="646.7" cy="260.8" rx="29.0" ry="29.0"/><ellipse cx="363.5" cy="213.4" rx="23.2" ry="26.1"/><ellipse cx="346.4" cy="223.9" rx="13.0" ry="20.3"/><ellipse cx="372.7" cy="260.8" rx="26.1" ry="26.1"/><ellipse cx="388.5" cy="310.9" rx="26.1" ry="26.1"/><ellipse cx="604.6" cy="350.4" rx="26.1" ry="24.6"/><ellipse cx="424.1" cy="349.1" rx="24.6" ry="24.6"/><ellipse cx="446.5" cy="375.4" rx="26.1" ry="23.2"/><ellipse cx="491.3" cy="392.6" rx="23.2" ry="20.3"/><ellipse cx="528.2" cy="392.6" rx="21.7" ry="18.8"/><ellipse cx="557.2" cy="379.4" rx="23.2" ry="21.7"/><ellipse cx="620.4" cy="295.1" rx="29.0" ry="29.0"/><ellipse cx="441.2" cy="142.2" rx="31.9" ry="30.4"/><ellipse cx="583.5" cy="158.0" rx="30.4" ry="30.4"/><ellipse cx="433.3" cy="310.9" rx="29.0" ry="30.4"/><ellipse cx="586.1" cy="321.4" rx="29.0" ry="30.4"/><ellipse cx="571.6" cy="342.5" rx="26.1" ry="25.5"/><ellipse cx="534.8" cy="155.4" rx="29.0" ry="30.4"/><ellipse cx="476.8" cy="173.8" rx="36.2" ry="33.3"/><ellipse cx="486.0" cy="312.2" rx="30.4" ry="31.3"/><ellipse cx="540.0" cy="299.0" rx="36.2" ry="36.2"/><ellipse cx="499.2" cy="260.8" rx="39.1" ry="31.9"/><ellipse cx="504.5" cy="201.5" rx="27.5" ry="24.6"/><ellipse cx="536.1" cy="217.3" rx="23.2" ry="23.2"/></g>
<g clip-path="url(#pc3)">
<ellipse cx="509.7" cy="239.4" rx="158.0" ry="158.0" fill="#143e6e" opacity="0.38" filter="url(#ao)"/>
<ellipse cx="509.7" cy="238.4" rx="155.5" ry="155.5" fill="url(#gB)"/>
<ellipse cx="508.4" cy="126.1" rx="52.6" ry="34.1" fill="#7a5c00" opacity="0.4" filter="url(#ao)"/>
<ellipse cx="508.4" cy="125.1" rx="50.1" ry="31.6" fill="url(#gY)"/>
<path d="M510.9,125.5 L515.5,127.5 L519.5,131.0 L522.4,135.6 L524.1,141.3 L524.2,147.7 L522.7,154.3 L519.4,161.0 L514.3,167.2 L507.6,172.7" fill="none" stroke="#6a4c00" stroke-width="2.6" opacity="0.55" stroke-linecap="round" filter="url(#crease)"/>
<path d="M508.8,127.6 L508.3,132.6 L506.2,137.4 L502.7,141.7 L497.8,145.0 L491.8,147.1 L485.0,147.7 L477.6,146.6 L470.2,143.8 L462.9,139.0" fill="none" stroke="#6a4c00" stroke-width="2.6" opacity="0.55" stroke-linecap="round" filter="url(#crease)"/>
<path d="M506.2,126.2 L501.2,127.3 L496.0,126.8 L490.9,124.8 L486.2,121.2 L482.4,116.1 L479.7,109.8 L478.4,102.5 L478.8,94.5 L481.1,86.1" fill="none" stroke="#6a4c00" stroke-width="2.6" opacity="0.55" stroke-linecap="round" filter="url(#crease)"/>
<path d="M506.7,123.3 L504.1,118.9 L502.9,113.8 L503.3,108.3 L505.3,102.8 L508.9,97.6 L514.1,93.1 L520.6,89.6 L528.4,87.5 L537.0,87.1" fill="none" stroke="#6a4c00" stroke-width="2.6" opacity="0.55" stroke-linecap="round" filter="url(#crease)"/>
<path d="M509.6,122.9 L512.9,119.1 L517.4,116.4 L522.8,115.0 L528.7,115.2 L534.7,117.0 L540.6,120.6 L545.9,125.8 L550.3,132.5 L553.4,140.6" fill="none" stroke="#6a4c00" stroke-width="2.6" opacity="0.55" stroke-linecap="round" filter="url(#crease)"/>
<ellipse cx="443.8" cy="236.8" rx="51.2" ry="53.9" fill="#7a5c00" opacity="0.4" filter="url(#ao)"/>
<ellipse cx="443.8" cy="235.8" rx="48.7" ry="51.4" fill="url(#gY)"/>
<path d="M446.4,235.8 L451.5,237.0 L456.1,239.7 L459.9,243.9 L462.6,249.4 L463.8,255.8 L463.5,262.8 L461.3,270.1 L457.3,277.3 L451.5,284.0" fill="none" stroke="#6a4c00" stroke-width="2.6" opacity="0.55" stroke-linecap="round" filter="url(#crease)"/>
<path d="M444.6,238.2 L445.1,243.4 L443.8,248.6 L441.0,253.5 L436.7,257.8 L431.0,261.0 L424.2,262.8 L416.6,263.0 L408.5,261.4 L400.4,257.9" fill="none" stroke="#6a4c00" stroke-width="2.6" opacity="0.55" stroke-linecap="round" filter="url(#crease)"/>
<path d="M441.8,237.3 L437.0,239.3 L431.6,239.7 L426.1,238.6 L420.7,235.8 L415.9,231.3 L412.1,225.4 L409.5,218.3 L408.5,210.1 L409.3,201.3" fill="none" stroke="#6a4c00" stroke-width="2.6" opacity="0.55" stroke-linecap="round" filter="url(#crease)"/>
<path d="M441.8,234.3 L438.4,230.3 L436.3,225.4 L435.7,219.7 L436.7,213.8 L439.4,207.9 L443.8,202.4 L449.9,197.7 L457.3,194.2 L466.0,192.3" fill="none" stroke="#6a4c00" stroke-width="2.6" opacity="0.55" stroke-linecap="round" filter="url(#crease)"/>
<path d="M444.6,233.3 L447.3,228.9 L451.4,225.4 L456.6,223.1 L462.6,222.2 L469.0,222.9 L475.6,225.4 L481.9,229.7 L487.5,235.8 L492.1,243.4" fill="none" stroke="#6a4c00" stroke-width="2.6" opacity="0.55" stroke-linecap="round" filter="url(#crease)"/>
<ellipse cx="579.6" cy="239.4" rx="48.6" ry="53.9" fill="#7a5c00" opacity="0.4" filter="url(#ao)"/>
<ellipse cx="579.6" cy="238.4" rx="46.1" ry="51.4" fill="url(#gY)"/>
<path d="M581.9,239.5 L585.9,242.7 L588.9,247.2 L590.6,252.6 L590.8,258.6 L589.2,265.0 L585.9,271.2 L580.9,276.9 L574.2,281.8 L566.1,285.3" fill="none" stroke="#6a4c00" stroke-width="2.6" opacity="0.55" stroke-linecap="round" filter="url(#crease)"/>
<path d="M579.2,241.0 L577.4,245.8 L574.1,250.0 L569.5,253.3 L563.8,255.3 L557.3,255.8 L550.3,254.6 L543.3,251.6 L536.7,246.7 L530.8,240.1" fill="none" stroke="#6a4c00" stroke-width="2.6" opacity="0.55" stroke-linecap="round" filter="url(#crease)"/>
<path d="M577.0,238.9 L571.8,238.7 L566.8,236.8 L562.3,233.4 L558.6,228.6 L556.1,222.6 L555.1,215.6 L555.8,208.0 L558.4,200.2 L562.9,192.5" fill="none" stroke="#6a4c00" stroke-width="2.6" opacity="0.55" stroke-linecap="round" filter="url(#crease)"/>
<path d="M578.3,236.2 L576.9,231.2 L577.1,225.8 L578.9,220.4 L582.4,215.5 L587.3,211.2 L593.7,208.1 L601.1,206.5 L609.3,206.5 L618.0,208.4" fill="none" stroke="#6a4c00" stroke-width="2.6" opacity="0.55" stroke-linecap="round" filter="url(#crease)"/>
<path d="M581.3,236.5 L585.6,233.7 L590.8,232.2 L596.5,232.3 L602.2,234.0 L607.8,237.4 L612.7,242.5 L616.6,249.0 L619.1,256.9 L620.0,265.7" fill="none" stroke="#6a4c00" stroke-width="2.6" opacity="0.55" stroke-linecap="round" filter="url(#crease)"/>
<ellipse cx="505.8" cy="354.0" rx="49.9" ry="31.5" fill="#7a5c00" opacity="0.4" filter="url(#ao)"/>
<ellipse cx="505.8" cy="353.0" rx="47.4" ry="29.0" fill="url(#gY)"/>
<path d="M508.1,353.2 L512.7,354.8 L516.7,357.7 L519.8,361.8 L521.9,367.0 L522.5,373.0 L521.6,379.5 L519.1,386.0 L514.8,392.3 L508.9,398.0" fill="none" stroke="#6a4c00" stroke-width="2.6" opacity="0.55" stroke-linecap="round" filter="url(#crease)"/>
<path d="M506.3,355.3 L506.3,360.1 L504.7,364.8 L501.8,369.1 L497.4,372.7 L491.9,375.2 L485.5,376.3 L478.5,375.9 L471.2,373.8 L464.0,369.9" fill="none" stroke="#6a4c00" stroke-width="2.6" opacity="0.55" stroke-linecap="round" filter="url(#crease)"/>
<path d="M503.7,354.3 L499.2,355.7 L494.2,355.7 L489.2,354.2 L484.5,351.2 L480.5,346.7 L477.4,341.0 L475.6,334.2 L475.3,326.6 L476.8,318.5" fill="none" stroke="#6a4c00" stroke-width="2.6" opacity="0.55" stroke-linecap="round" filter="url(#crease)"/>
<path d="M504.0,351.5 L501.2,347.6 L499.7,342.9 L499.6,337.6 L501.0,332.2 L504.0,327.0 L508.5,322.3 L514.4,318.5 L521.5,315.9 L529.6,314.8" fill="none" stroke="#6a4c00" stroke-width="2.6" opacity="0.55" stroke-linecap="round" filter="url(#crease)"/>
<path d="M506.7,350.8 L509.5,347.0 L513.6,344.1 L518.5,342.4 L524.1,342.0 L530.0,343.3 L535.8,346.1 L541.3,350.5 L545.9,356.5 L549.5,363.9" fill="none" stroke="#6a4c00" stroke-width="2.6" opacity="0.55" stroke-linecap="round" filter="url(#crease)"/>
<ellipse cx="490.0" cy="86.6" rx="24.2" ry="22.8" fill="#143e6e" opacity="0.38" filter="url(#ao)"/>
<ellipse cx="490.0" cy="85.6" rx="21.7" ry="20.3" fill="url(#gB)"/>
<ellipse cx="529.5" cy="83.9" rx="25.7" ry="24.2" fill="#143e6e" opacity="0.38" filter="url(#ao)"/>
<ellipse cx="529.5" cy="82.9" rx="23.2" ry="21.7" fill="url(#gB)"/>
<ellipse cx="451.8" cy="98.4" rx="25.7" ry="24.2" fill="#143e6e" opacity="0.38" filter="url(#ao)"/>
<ellipse cx="451.8" cy="97.4" rx="23.2" ry="21.7" fill="url(#gB)"/>
<ellipse cx="570.3" cy="101.1" rx="28.6" ry="25.7" fill="#143e6e" opacity="0.38" filter="url(#ao)"/>
<ellipse cx="570.3" cy="100.1" rx="26.1" ry="23.2" fill="url(#gB)"/>
<ellipse cx="594.0" cy="119.5" rx="27.1" ry="28.6" fill="#143e6e" opacity="0.38" filter="url(#ao)"/>
<ellipse cx="594.0" cy="118.5" rx="24.6" ry="26.1" fill="url(#gB)"/>
<ellipse cx="407.0" cy="127.4" rx="27.1" ry="27.1" fill="#143e6e" opacity="0.38" filter="url(#ao)"/>
<ellipse cx="407.0" cy="126.4" rx="24.6" ry="24.6" fill="url(#gB)"/>
<ellipse cx="396.4" cy="188.0" rx="31.5" ry="31.5" fill="#143e6e" opacity="0.38" filter="url(#ao)"/>
<ellipse cx="396.4" cy="187.0" rx="29.0" ry="29.0" fill="url(#gB)"/>
<ellipse cx="630.9" cy="164.3" rx="28.6" ry="30.0" fill="#143e6e" opacity="0.38" filter="url(#ao)"/>
<ellipse cx="630.9" cy="163.3" rx="26.1" ry="27.5" fill="url(#gB)"/>
<ellipse cx="649.4" cy="214.4" rx="32.9" ry="31.5" fill="#143e6e" opacity="0.38" filter="url(#ao)"/>
<ellipse cx="649.4" cy="213.4" rx="30.4" ry="29.0" fill="url(#gB)"/>
<ellipse cx="670.5" cy="224.9" rx="18.4" ry="25.7" fill="#143e6e" opacity="0.38" filter="url(#ao)"/>
<ellipse cx="670.5" cy="223.9" rx="15.9" ry="23.2" fill="url(#gB)"/>
<ellipse cx="646.7" cy="261.8" rx="31.5" ry="31.5" fill="#143e6e" opacity="0.38" filter="url(#ao)"/>
<ellipse cx="646.7" cy="260.8" rx="29.0" ry="29.0" fill="url(#gB)"/>
<ellipse cx="363.5" cy="214.4" rx="25.7" ry="28.6" fill="#143e6e" opacity="0.38" filter="url(#ao)"/>
<ellipse cx="363.5" cy="213.4" rx="23.2" ry="26.1" fill="url(#gB)"/>
<ellipse cx="346.4" cy="224.9" rx="15.5" ry="22.8" fill="#143e6e" opacity="0.38" filter="url(#ao)"/>
<ellipse cx="346.4" cy="223.9" rx="13.0" ry="20.3" fill="url(#gB)"/>
<ellipse cx="372.7" cy="261.8" rx="28.6" ry="28.6" fill="#143e6e" opacity="0.38" filter="url(#ao)"/>
<ellipse cx="372.7" cy="260.8" rx="26.1" ry="26.1" fill="url(#gB)"/>
<ellipse cx="388.5" cy="311.9" rx="28.6" ry="28.6" fill="#143e6e" opacity="0.38" filter="url(#ao)"/>
<ellipse cx="388.5" cy="310.9" rx="26.1" ry="26.1" fill="url(#gB)"/>
<ellipse cx="604.6" cy="351.4" rx="28.6" ry="27.1" fill="#143e6e" opacity="0.38" filter="url(#ao)"/>
<ellipse cx="604.6" cy="350.4" rx="26.1" ry="24.6" fill="url(#gB)"/>
<ellipse cx="424.1" cy="350.1" rx="27.1" ry="27.1" fill="#143e6e" opacity="0.38" filter="url(#ao)"/>
<ellipse cx="424.1" cy="349.1" rx="24.6" ry="24.6" fill="url(#gB)"/>
<ellipse cx="446.5" cy="376.4" rx="28.6" ry="25.7" fill="#143e6e" opacity="0.38" filter="url(#ao)"/>
<ellipse cx="446.5" cy="375.4" rx="26.1" ry="23.2" fill="url(#gB)"/>
<ellipse cx="491.3" cy="393.6" rx="25.7" ry="22.8" fill="#143e6e" opacity="0.38" filter="url(#ao)"/>
<ellipse cx="491.3" cy="392.6" rx="23.2" ry="20.3" fill="url(#gB)"/>
<ellipse cx="528.2" cy="393.6" rx="24.2" ry="21.3" fill="#143e6e" opacity="0.38" filter="url(#ao)"/>
<ellipse cx="528.2" cy="392.6" rx="21.7" ry="18.8" fill="url(#gB)"/>
<ellipse cx="557.2" cy="380.4" rx="25.7" ry="24.2" fill="#143e6e" opacity="0.38" filter="url(#ao)"/>
<ellipse cx="557.2" cy="379.4" rx="23.2" ry="21.7" fill="url(#gB)"/>
<ellipse cx="620.4" cy="296.1" rx="31.5" ry="31.5" fill="#143e6e" opacity="0.38" filter="url(#ao)"/>
<ellipse cx="620.4" cy="295.1" rx="29.0" ry="29.0" fill="url(#gB)"/>
<ellipse cx="441.2" cy="143.2" rx="34.4" ry="32.9" fill="#143e6e" opacity="0.38" filter="url(#ao)"/>
<ellipse cx="441.2" cy="142.2" rx="31.9" ry="30.4" fill="url(#gB)"/>
<ellipse cx="583.5" cy="159.0" rx="32.9" ry="32.9" fill="#143e6e" opacity="0.38" filter="url(#ao)"/>
<ellipse cx="583.5" cy="158.0" rx="30.4" ry="30.4" fill="url(#gB)"/>
<ellipse cx="433.3" cy="311.9" rx="31.5" ry="32.9" fill="#143e6e" opacity="0.38" filter="url(#ao)"/>
<ellipse cx="433.3" cy="310.9" rx="29.0" ry="30.4" fill="url(#gB)"/>
<ellipse cx="586.1" cy="322.4" rx="31.5" ry="32.9" fill="#143e6e" opacity="0.38" filter="url(#ao)"/>
<ellipse cx="586.1" cy="321.4" rx="29.0" ry="30.4" fill="url(#gB)"/>
<ellipse cx="571.6" cy="343.5" rx="28.6" ry="28.0" fill="#143e6e" opacity="0.38" filter="url(#ao)"/>
<ellipse cx="571.6" cy="342.5" rx="26.1" ry="25.5" fill="url(#gB)"/>
<ellipse cx="534.8" cy="156.4" rx="31.5" ry="32.9" fill="#143e6e" opacity="0.38" filter="url(#ao)"/>
<ellipse cx="534.8" cy="155.4" rx="29.0" ry="30.4" fill="url(#gB)"/>
<ellipse cx="476.8" cy="174.8" rx="38.7" ry="35.8" fill="#143e6e" opacity="0.38" filter="url(#ao)"/>
<ellipse cx="476.8" cy="173.8" rx="36.2" ry="33.3" fill="url(#gB)"/>
<ellipse cx="486.0" cy="313.2" rx="32.9" ry="33.8" fill="#143e6e" opacity="0.38" filter="url(#ao)"/>
<ellipse cx="486.0" cy="312.2" rx="30.4" ry="31.3" fill="url(#gB)"/>
<ellipse cx="540.0" cy="300.0" rx="38.7" ry="38.7" fill="#143e6e" opacity="0.38" filter="url(#ao)"/>
<ellipse cx="540.0" cy="299.0" rx="36.2" ry="36.2" fill="url(#gB)"/>
<ellipse cx="499.2" cy="261.8" rx="41.6" ry="34.4" fill="#143e6e" opacity="0.38" filter="url(#ao)"/>
<ellipse cx="499.2" cy="260.8" rx="39.1" ry="31.9" fill="url(#gB)"/>
<ellipse cx="504.5" cy="202.5" rx="30.0" ry="27.1" fill="#143e6e" opacity="0.38" filter="url(#ao)"/>
<ellipse cx="504.5" cy="201.5" rx="27.5" ry="24.6" fill="url(#gB)"/>
<ellipse cx="536.1" cy="218.3" rx="25.7" ry="25.7" fill="#143e6e" opacity="0.38" filter="url(#ao)"/>
<ellipse cx="536.1" cy="217.3" rx="23.2" ry="23.2" fill="url(#gB)"/>
</g>
<rect x="51.0" y="276.0" width="260.0" height="186.0" fill="#8e8e8e" />
<rect x="51" y="276" width="260" height="186" filter="url(#em7)"/>
<g clip-path="url(#em7c)">
<circle cx="92.0" cy="305.0" r="25.0" fill="#5e5e5e" opacity="0.5" filter="url(#b3)"/>
<circle cx="92.0" cy="305.0" r="15.0" fill="none" stroke="#fff" stroke-width="12.0" filter="url(#em7p)" opacity="0.8"/>
<circle cx="135.0" cy="355.0" r="25.0" fill="#5e5e5e" opacity="0.5" filter="url(#b3)"/>
<circle cx="135.0" cy="355.0" r="15.0" fill="none" stroke="#fff" stroke-width="12.0" filter="url(#em7p)" opacity="0.8"/>
<circle cx="193.0" cy="360.0" r="25.0" fill="#5e5e5e" opacity="0.5" filter="url(#b3)"/>
<circle cx="193.0" cy="360.0" r="15.0" fill="none" stroke="#fff" stroke-width="12.0" filter="url(#em7p)" opacity="0.8"/>
<circle cx="234.0" cy="377.0" r="24.0" fill="#5e5e5e" opacity="0.5" filter="url(#b3)"/>
<circle cx="234.0" cy="377.0" r="14.2" fill="none" stroke="#fff" stroke-width="11.4" filter="url(#em7p)" opacity="0.8"/>
<circle cx="189.0" cy="398.0" r="24.0" fill="#5e5e5e" opacity="0.5" filter="url(#b3)"/>
<circle cx="189.0" cy="398.0" r="14.2" fill="none" stroke="#fff" stroke-width="11.4" filter="url(#em7p)" opacity="0.8"/>
<circle cx="152.0" cy="433.0" r="25.0" fill="#5e5e5e" opacity="0.5" filter="url(#b3)"/>
<circle cx="152.0" cy="433.0" r="15.0" fill="none" stroke="#fff" stroke-width="12.0" filter="url(#em7p)" opacity="0.8"/>
<circle cx="81.0" cy="441.0" r="25.0" fill="#5e5e5e" opacity="0.5" filter="url(#b3)"/>
<circle cx="81.0" cy="441.0" r="15.0" fill="none" stroke="#fff" stroke-width="12.0" filter="url(#em7p)" opacity="0.8"/>
<circle cx="263.0" cy="300.0" r="25.0" fill="#5e5e5e" opacity="0.5" filter="url(#b3)"/>
<circle cx="263.0" cy="300.0" r="15.0" fill="none" stroke="#fff" stroke-width="12.0" filter="url(#em7p)" opacity="0.8"/>
<circle cx="290.0" cy="455.0" r="23.0" fill="#5e5e5e" opacity="0.5" filter="url(#b3)"/>
<circle cx="290.0" cy="455.0" r="13.5" fill="none" stroke="#fff" stroke-width="10.8" filter="url(#em7p)" opacity="0.8"/>
</g>
<rect x="213.0" y="441.0" width="88.0" height="8.5" fill="#fff" />
<text x="736" y="26" font-size="32" font-weight="bold" stroke="#000" stroke-width="1.7" stroke-linejoin="round" transform="translate(736,0) scale(1.18,1) translate(-736,0)">b</text>
<g filter="url(#glS)" opacity="0.42" fill="#3c3c3c"><ellipse cx="815.0" cy="79.0" rx="29.0" ry="36.0" transform="rotate(32 815.0 79.0)"/><ellipse cx="870.5" cy="86.0" rx="36.0" ry="28.0" transform="rotate(8 870.5 86.0)"/><ellipse cx="848.2" cy="35.0" rx="28.0" ry="33.0" transform="rotate(-28 848.2 35.0)"/></g>
<g clip-path="url(#pc4)">
<ellipse cx="815.0" cy="80.0" rx="31.5" ry="38.5" fill="#143e6e" opacity="0.38" filter="url(#ao)" transform="rotate(32 815.0 79.0)"/>
<ellipse cx="815.0" cy="79.0" rx="29.0" ry="36.0" fill="url(#gB)" transform="rotate(32 815.0 79.0)"/>
<ellipse cx="870.5" cy="87.0" rx="38.5" ry="30.5" fill="#143e6e" opacity="0.38" filter="url(#ao)" transform="rotate(8 870.5 86.0)"/>
<ellipse cx="870.5" cy="86.0" rx="36.0" ry="28.0" fill="url(#gB)" transform="rotate(8 870.5 86.0)"/>
<ellipse cx="848.2" cy="36.0" rx="30.5" ry="35.5" fill="#143e6e" opacity="0.38" filter="url(#ao)" transform="rotate(-28 848.2 35.0)"/>
<ellipse cx="848.2" cy="35.0" rx="28.0" ry="33.0" fill="url(#gB)" transform="rotate(-28 848.2 35.0)"/>
</g>
<g filter="url(#glS)" opacity="0.42" fill="#3c3c3c"><ellipse cx="816.3" cy="202.5" rx="44.4" ry="44.4"/><ellipse cx="815.3" cy="174.3" rx="31.8" ry="30.0" transform="rotate(-92 815.3 174.3)"/><ellipse cx="842.8" cy="192.9" rx="31.8" ry="30.0" transform="rotate(-20 842.8 192.9)"/><ellipse cx="833.7" cy="224.7" rx="31.8" ry="30.0" transform="rotate(52 833.7 224.7)"/><ellipse cx="800.5" cy="225.9" rx="31.8" ry="30.0" transform="rotate(124 800.5 225.9)"/><ellipse cx="789.2" cy="194.7" rx="31.8" ry="30.0" transform="rotate(196 789.2 194.7)"/><ellipse cx="820.8" cy="181.4" rx="18.0" ry="14.4" transform="rotate(-78 820.8 181.4)"/><ellipse cx="837.8" cy="200.2" rx="18.0" ry="14.4" transform="rotate(-6 837.8 200.2)"/><ellipse cx="825.1" cy="222.2" rx="18.0" ry="14.4" transform="rotate(66 825.1 222.2)"/><ellipse cx="800.2" cy="217.0" rx="18.0" ry="14.4" transform="rotate(138 800.2 217.0)"/><ellipse cx="797.6" cy="191.7" rx="18.0" ry="14.4" transform="rotate(210 797.6 191.7)"/></g>
<g clip-path="url(#pc5)">
<ellipse cx="816.3" cy="203.5" rx="46.9" ry="46.9" fill="#5a0808" opacity="0.36" filter="url(#ao)"/>
<ellipse cx="816.3" cy="202.5" rx="44.4" ry="44.4" fill="url(#gR)"/>
<ellipse cx="815.3" cy="175.3" rx="34.3" ry="32.5" fill="#5a0808" opacity="0.36" filter="url(#ao)" transform="rotate(-92 815.3 174.3)"/>
<ellipse cx="815.3" cy="174.3" rx="31.8" ry="30.0" fill="url(#gR)" transform="rotate(-92 815.3 174.3)"/>
<ellipse cx="842.8" cy="193.9" rx="34.3" ry="32.5" fill="#5a0808" opacity="0.36" filter="url(#ao)" transform="rotate(-20 842.8 192.9)"/>
<ellipse cx="842.8" cy="192.9" rx="31.8" ry="30.0" fill="url(#gR)" transform="rotate(-20 842.8 192.9)"/>
<ellipse cx="833.7" cy="225.7" rx="34.3" ry="32.5" fill="#5a0808" opacity="0.36" filter="url(#ao)" transform="rotate(52 833.7 224.7)"/>
<ellipse cx="833.7" cy="224.7" rx="31.8" ry="30.0" fill="url(#gR)" transform="rotate(52 833.7 224.7)"/>
<ellipse cx="800.5" cy="226.9" rx="34.3" ry="32.5" fill="#5a0808" opacity="0.36" filter="url(#ao)" transform="rotate(124 800.5 225.9)"/>
<ellipse cx="800.5" cy="225.9" rx="31.8" ry="30.0" fill="url(#gR)" transform="rotate(124 800.5 225.9)"/>
<ellipse cx="789.2" cy="195.7" rx="34.3" ry="32.5" fill="#5a0808" opacity="0.36" filter="url(#ao)" transform="rotate(196 789.2 194.7)"/>
<ellipse cx="789.2" cy="194.7" rx="31.8" ry="30.0" fill="url(#gR)" transform="rotate(196 789.2 194.7)"/>
<ellipse cx="820.8" cy="182.4" rx="20.5" ry="16.9" fill="#5a0808" opacity="0.36" filter="url(#ao)" transform="rotate(-78 820.8 181.4)"/>
<ellipse cx="820.8" cy="181.4" rx="18.0" ry="14.4" fill="url(#gR)" transform="rotate(-78 820.8 181.4)"/>
<ellipse cx="837.8" cy="201.2" rx="20.5" ry="16.9" fill="#5a0808" opacity="0.36" filter="url(#ao)" transform="rotate(-6 837.8 200.2)"/>
<ellipse cx="837.8" cy="200.2" rx="18.0" ry="14.4" fill="url(#gR)" transform="rotate(-6 837.8 200.2)"/>
<ellipse cx="825.1" cy="223.2" rx="20.5" ry="16.9" fill="#5a0808" opacity="0.36" filter="url(#ao)" transform="rotate(66 825.1 222.2)"/>
<ellipse cx="825.1" cy="222.2" rx="18.0" ry="14.4" fill="url(#gR)" transform="rotate(66 825.1 222.2)"/>
<ellipse cx="800.2" cy="218.0" rx="20.5" ry="16.9" fill="#5a0808" opacity="0.36" filter="url(#ao)" transform="rotate(138 800.2 217.0)"/>
<ellipse cx="800.2" cy="217.0" rx="18.0" ry="14.4" fill="url(#gR)" transform="rotate(138 800.2 217.0)"/>
<ellipse cx="797.6" cy="192.7" rx="20.5" ry="16.9" fill="#5a0808" opacity="0.36" filter="url(#ao)" transform="rotate(210 797.6 191.7)"/>
<ellipse cx="797.6" cy="191.7" rx="18.0" ry="14.4" fill="url(#gR)" transform="rotate(210 797.6 191.7)"/>
<circle cx="816.3" cy="202.5" r="2.6" fill="#000" opacity="0.85" filter="url(#soft)"/>
</g>
<text x="899.5" y="30.9" font-size="35.3">I53-50A (T<tspan font-size="28.2" dy="6.3">3</tspan><tspan dy="-6.3" font-size="35.3">&#8203;</tspan>)</text>
<text x="914.5" y="76.5" font-size="35.3" fill="#000" >×20</text>
<text x="986.2" y="107.8" font-size="35.3" font-style="italic" fill="#000" >in vitro</text>
<text x="883.5" y="212.5" font-size="35.3" fill="#000" >×12</text>
<text x="869.5" y="251" font-size="35.3">I53-50B (P<tspan font-size="28.2" dy="6.3">5</tspan><tspan dy="-6.3" font-size="35.3">&#8203;</tspan>)</text>
<text x="1083.5" y="462.5" font-size="35.3"><tspan font-weight="bold">I53-50</tspan> (T:P = 60:60)</text>
<path d="M972.7,83.6 C976,112 982,130 995,138 C1009,146 1023,147 1037,151.5" fill="none" stroke="#000" stroke-width="2.6" marker-end="url(#arrL)"/>
<path d="M946.5,179.8 C961,160 973,147 988,144 C1001,142 1013,145 1023,148" fill="none" stroke="#000" stroke-width="2.6"/>
<g filter="url(#glL)" opacity="0.5" fill="#3c3c3c"><ellipse cx="1099.1" cy="151.0" rx="36.3" ry="36.3"/><ellipse cx="1107.0" cy="129.3" rx="26.0" ry="24.5" transform="rotate(-70 1107.0 129.3)"/><ellipse cx="1122.1" cy="151.8" rx="26.0" ry="24.5" transform="rotate(2 1122.1 151.8)"/><ellipse cx="1105.5" cy="173.1" rx="26.0" ry="24.5" transform="rotate(74 1105.5 173.1)"/><ellipse cx="1080.0" cy="163.9" rx="26.0" ry="24.5" transform="rotate(146 1080.0 163.9)"/><ellipse cx="1080.9" cy="136.8" rx="26.0" ry="24.5" transform="rotate(218 1080.9 136.8)"/><ellipse cx="1109.0" cy="136.3" rx="14.7" ry="11.8" transform="rotate(-56 1109.0 136.3)"/><ellipse cx="1116.1" cy="155.8" rx="14.7" ry="11.8" transform="rotate(16 1116.1 155.8)"/><ellipse cx="1099.7" cy="168.6" rx="14.7" ry="11.8" transform="rotate(88 1099.7 168.6)"/><ellipse cx="1082.5" cy="157.0" rx="14.7" ry="11.8" transform="rotate(160 1082.5 157.0)"/><ellipse cx="1088.2" cy="137.0" rx="14.7" ry="11.8" transform="rotate(232 1088.2 137.0)"/><ellipse cx="1369.8" cy="151.0" rx="36.3" ry="36.3"/><ellipse cx="1361.9" cy="129.3" rx="26.0" ry="24.5" transform="rotate(-110 1361.9 129.3)"/><ellipse cx="1388.0" cy="136.8" rx="26.0" ry="24.5" transform="rotate(-38 1388.0 136.8)"/><ellipse cx="1388.9" cy="163.9" rx="26.0" ry="24.5" transform="rotate(34 1388.9 163.9)"/><ellipse cx="1363.4" cy="173.1" rx="26.0" ry="24.5" transform="rotate(106 1363.4 173.1)"/><ellipse cx="1346.8" cy="151.8" rx="26.0" ry="24.5" transform="rotate(178 1346.8 151.8)"/><ellipse cx="1368.0" cy="133.4" rx="14.7" ry="11.8" transform="rotate(-96 1368.0 133.4)"/><ellipse cx="1385.9" cy="143.8" rx="14.7" ry="11.8" transform="rotate(-24 1385.9 143.8)"/><ellipse cx="1381.6" cy="164.1" rx="14.7" ry="11.8" transform="rotate(48 1381.6 164.1)"/><ellipse cx="1361.0" cy="166.3" rx="14.7" ry="11.8" transform="rotate(120 1361.0 166.3)"/><ellipse cx="1352.5" cy="147.3" rx="14.7" ry="11.8" transform="rotate(192 1352.5 147.3)"/><ellipse cx="1099.1" cy="326.3" rx="36.3" ry="36.3"/><ellipse cx="1091.2" cy="304.6" rx="26.0" ry="24.5" transform="rotate(-110 1091.2 304.6)"/><ellipse cx="1117.3" cy="312.1" rx="26.0" ry="24.5" transform="rotate(-38 1117.3 312.1)"/><ellipse cx="1118.2" cy="339.2" rx="26.0" ry="24.5" transform="rotate(34 1118.2 339.2)"/><ellipse cx="1092.7" cy="348.5" rx="26.0" ry="24.5" transform="rotate(106 1092.7 348.5)"/><ellipse cx="1076.1" cy="327.1" rx="26.0" ry="24.5" transform="rotate(178 1076.1 327.1)"/><ellipse cx="1097.3" cy="308.7" rx="14.7" ry="11.8" transform="rotate(-96 1097.3 308.7)"/><ellipse cx="1115.2" cy="319.1" rx="14.7" ry="11.8" transform="rotate(-24 1115.2 319.1)"/><ellipse cx="1110.9" cy="339.4" rx="14.7" ry="11.8" transform="rotate(48 1110.9 339.4)"/><ellipse cx="1090.3" cy="341.6" rx="14.7" ry="11.8" transform="rotate(120 1090.3 341.6)"/><ellipse cx="1081.8" cy="322.6" rx="14.7" ry="11.8" transform="rotate(192 1081.8 322.6)"/><ellipse cx="1370.6" cy="326.3" rx="36.3" ry="36.3"/><ellipse cx="1378.5" cy="304.6" rx="26.0" ry="24.5" transform="rotate(-70 1378.5 304.6)"/><ellipse cx="1393.7" cy="327.1" rx="26.0" ry="24.5" transform="rotate(2 1393.7 327.1)"/><ellipse cx="1377.0" cy="348.5" rx="26.0" ry="24.5" transform="rotate(74 1377.0 348.5)"/><ellipse cx="1351.5" cy="339.2" rx="26.0" ry="24.5" transform="rotate(146 1351.5 339.2)"/><ellipse cx="1352.5" cy="312.1" rx="26.0" ry="24.5" transform="rotate(218 1352.5 312.1)"/><ellipse cx="1380.5" cy="311.7" rx="14.7" ry="11.8" transform="rotate(-56 1380.5 311.7)"/><ellipse cx="1387.6" cy="331.2" rx="14.7" ry="11.8" transform="rotate(16 1387.6 331.2)"/><ellipse cx="1371.3" cy="344.0" rx="14.7" ry="11.8" transform="rotate(88 1371.3 344.0)"/><ellipse cx="1354.0" cy="332.4" rx="14.7" ry="11.8" transform="rotate(160 1354.0 332.4)"/><ellipse cx="1359.8" cy="312.4" rx="14.7" ry="11.8" transform="rotate(232 1359.8 312.4)"/><ellipse cx="1233.8" cy="236.5" rx="150.5" ry="150.5"/><ellipse cx="1159.9" cy="120.8" rx="32.2" ry="30.7"/><ellipse cx="1123.6" cy="157.1" rx="26.1" ry="26.1"/><ellipse cx="1159.9" cy="162.7" rx="30.7" ry="29.1"/><ellipse cx="1299.3" cy="129.2" rx="39.9" ry="33.7"/><ellipse cx="1335.5" cy="162.7" rx="26.1" ry="26.1"/><ellipse cx="1369.0" cy="196.1" rx="23.0" ry="24.5"/><ellipse cx="1382.9" cy="251.9" rx="18.4" ry="21.5"/><ellipse cx="1090.2" cy="218.4" rx="21.5" ry="24.5"/><ellipse cx="1095.8" cy="271.4" rx="23.0" ry="24.5"/><ellipse cx="1132.0" cy="313.2" rx="27.6" ry="27.6"/><ellipse cx="1173.8" cy="327.1" rx="33.7" ry="30.7"/><ellipse cx="1157.1" cy="360.6" rx="23.0" ry="23.0"/><ellipse cx="1363.4" cy="279.8" rx="21.5" ry="23.0"/><ellipse cx="1343.9" cy="316.0" rx="26.1" ry="26.1"/><ellipse cx="1318.8" cy="352.2" rx="24.5" ry="24.5"/><ellipse cx="1304.8" cy="307.6" rx="33.7" ry="33.7"/><ellipse cx="1218.4" cy="162.7" rx="32.2" ry="35.3"/><ellipse cx="1263.0" cy="179.4" rx="30.7" ry="29.1"/><ellipse cx="1221.2" cy="207.3" rx="33.7" ry="33.7"/><ellipse cx="1246.3" cy="263.0" rx="39.9" ry="35.3"/><ellipse cx="1196.1" cy="279.8" rx="33.7" ry="27.6"/><ellipse cx="1218.4" cy="307.6" rx="24.5" ry="24.5"/><ellipse cx="1251.9" cy="316.0" rx="30.7" ry="29.1"/><ellipse cx="1232.9" cy="99.9" rx="47.0" ry="39.5"/><ellipse cx="1232.9" cy="125.0" rx="28.3" ry="31.8" transform="rotate(90 1232.9 125.0)"/><ellipse cx="1204.5" cy="107.7" rx="33.2" ry="27.2" transform="rotate(162 1204.5 107.7)"/><ellipse cx="1215.4" cy="79.6" rx="30.3" ry="30.1" transform="rotate(234 1215.4 79.6)"/><ellipse cx="1250.5" cy="79.6" rx="30.3" ry="30.1" transform="rotate(306 1250.5 79.6)"/><ellipse cx="1261.3" cy="107.7" rx="33.2" ry="27.2" transform="rotate(378 1261.3 107.7)"/><ellipse cx="1227.4" cy="118.6" rx="16.2" ry="15.1" transform="rotate(104 1227.4 118.6)"/><ellipse cx="1210.1" cy="101.3" rx="19.1" ry="12.8" transform="rotate(176 1210.1 101.3)"/><ellipse cx="1224.3" cy="82.1" rx="16.5" ry="14.9" transform="rotate(248 1224.3 82.1)"/><ellipse cx="1250.4" cy="87.6" rx="17.9" ry="13.9" transform="rotate(320 1250.4 87.6)"/><ellipse cx="1252.3" cy="110.1" rx="18.3" ry="13.5" transform="rotate(392 1252.3 110.1)"/><ellipse cx="1140.4" cy="235.1" rx="48.3" ry="48.3"/><ellipse cx="1146.7" cy="205.2" rx="34.6" ry="32.6" transform="rotate(-78 1146.7 205.2)"/><ellipse cx="1170.9" cy="231.9" rx="34.6" ry="32.6" transform="rotate(-6 1170.9 231.9)"/><ellipse cx="1152.8" cy="263.2" rx="34.6" ry="32.6" transform="rotate(66 1152.8 263.2)"/><ellipse cx="1117.6" cy="255.7" rx="34.6" ry="32.6" transform="rotate(138 1117.6 255.7)"/><ellipse cx="1113.8" cy="219.8" rx="34.6" ry="32.6" transform="rotate(210 1113.8 219.8)"/><ellipse cx="1150.7" cy="214.0" rx="19.6" ry="15.7" transform="rotate(-64 1150.7 214.0)"/><ellipse cx="1163.6" cy="238.4" rx="19.6" ry="15.7" transform="rotate(8 1163.6 238.4)"/><ellipse cx="1144.4" cy="258.3" rx="19.6" ry="15.7" transform="rotate(80 1144.4 258.3)"/><ellipse cx="1119.6" cy="246.2" rx="19.6" ry="15.7" transform="rotate(152 1119.6 246.2)"/><ellipse cx="1123.5" cy="218.8" rx="19.6" ry="15.7" transform="rotate(224 1123.5 218.8)"/><ellipse cx="1329.9" cy="238.5" rx="47.0" ry="47.0"/><ellipse cx="1323.7" cy="209.3" rx="33.7" ry="31.8" transform="rotate(-102 1323.7 209.3)"/><ellipse cx="1355.8" cy="223.6" rx="33.7" ry="31.8" transform="rotate(-30 1355.8 223.6)"/><ellipse cx="1352.1" cy="258.5" rx="33.7" ry="31.8" transform="rotate(42 1352.1 258.5)"/><ellipse cx="1317.8" cy="265.8" rx="33.7" ry="31.8" transform="rotate(114 1317.8 265.8)"/><ellipse cx="1300.2" cy="235.4" rx="33.7" ry="31.8" transform="rotate(186 1300.2 235.4)"/><ellipse cx="1330.7" cy="215.6" rx="19.1" ry="15.3" transform="rotate(-88 1330.7 215.6)"/><ellipse cx="1351.9" cy="232.2" rx="19.1" ry="15.3" transform="rotate(-16 1351.9 232.2)"/><ellipse cx="1342.7" cy="257.5" rx="19.1" ry="15.3" transform="rotate(56 1342.7 257.5)"/><ellipse cx="1315.8" cy="256.5" rx="19.1" ry="15.3" transform="rotate(128 1315.8 256.5)"/><ellipse cx="1308.4" cy="230.7" rx="19.1" ry="15.3" transform="rotate(200 1308.4 230.7)"/><ellipse cx="1235.1" cy="374.5" rx="46.6" ry="39.2"/><ellipse cx="1235.1" cy="349.7" rx="28.0" ry="31.5" transform="rotate(-90 1235.1 349.7)"/><ellipse cx="1263.3" cy="366.9" rx="32.9" ry="27.0" transform="rotate(-18 1263.3 366.9)"/><ellipse cx="1252.6" cy="394.7" rx="30.0" ry="29.9" transform="rotate(54 1252.6 394.7)"/><ellipse cx="1217.7" cy="394.7" rx="30.0" ry="29.9" transform="rotate(126 1217.7 394.7)"/><ellipse cx="1207.0" cy="366.9" rx="32.9" ry="27.0" transform="rotate(198 1207.0 366.9)"/><ellipse cx="1240.6" cy="356.1" rx="16.1" ry="15.0" transform="rotate(-76 1240.6 356.1)"/><ellipse cx="1257.8" cy="373.2" rx="18.9" ry="12.7" transform="rotate(-4 1257.8 373.2)"/><ellipse cx="1243.6" cy="392.2" rx="16.3" ry="14.8" transform="rotate(68 1243.6 392.2)"/><ellipse cx="1217.8" cy="386.8" rx="17.7" ry="13.8" transform="rotate(140 1217.8 386.8)"/><ellipse cx="1215.9" cy="364.4" rx="18.1" ry="13.4" transform="rotate(212 1215.9 364.4)"/></g>
<g clip-path="url(#pc6)">
<ellipse cx="1099.1" cy="152.0" rx="38.8" ry="38.8" fill="#5a0808" opacity="0.36" filter="url(#ao)"/>
<ellipse cx="1099.1" cy="151.0" rx="36.3" ry="36.3" fill="url(#gR)"/>
<ellipse cx="1107.0" cy="130.3" rx="28.5" ry="27.0" fill="#5a0808" opacity="0.36" filter="url(#ao)" transform="rotate(-70 1107.0 129.3)"/>
<ellipse cx="1107.0" cy="129.3" rx="26.0" ry="24.5" fill="url(#gR)" transform="rotate(-70 1107.0 129.3)"/>
<ellipse cx="1122.1" cy="152.8" rx="28.5" ry="27.0" fill="#5a0808" opacity="0.36" filter="url(#ao)" transform="rotate(2 1122.1 151.8)"/>
<ellipse cx="1122.1" cy="151.8" rx="26.0" ry="24.5" fill="url(#gR)" transform="rotate(2 1122.1 151.8)"/>
<ellipse cx="1105.5" cy="174.1" rx="28.5" ry="27.0" fill="#5a0808" opacity="0.36" filter="url(#ao)" transform="rotate(74 1105.5 173.1)"/>
<ellipse cx="1105.5" cy="173.1" rx="26.0" ry="24.5" fill="url(#gR)" transform="rotate(74 1105.5 173.1)"/>
<ellipse cx="1080.0" cy="164.9" rx="28.5" ry="27.0" fill="#5a0808" opacity="0.36" filter="url(#ao)" transform="rotate(146 1080.0 163.9)"/>
<ellipse cx="1080.0" cy="163.9" rx="26.0" ry="24.5" fill="url(#gR)" transform="rotate(146 1080.0 163.9)"/>
<ellipse cx="1080.9" cy="137.8" rx="28.5" ry="27.0" fill="#5a0808" opacity="0.36" filter="url(#ao)" transform="rotate(218 1080.9 136.8)"/>
<ellipse cx="1080.9" cy="136.8" rx="26.0" ry="24.5" fill="url(#gR)" transform="rotate(218 1080.9 136.8)"/>
<ellipse cx="1109.0" cy="137.3" rx="17.2" ry="14.3" fill="#5a0808" opacity="0.36" filter="url(#ao)" transform="rotate(-56 1109.0 136.3)"/>
<ellipse cx="1109.0" cy="136.3" rx="14.7" ry="11.8" fill="url(#gR)" transform="rotate(-56 1109.0 136.3)"/>
<ellipse cx="1116.1" cy="156.8" rx="17.2" ry="14.3" fill="#5a0808" opacity="0.36" filter="url(#ao)" transform="rotate(16 1116.1 155.8)"/>
<ellipse cx="1116.1" cy="155.8" rx="14.7" ry="11.8" fill="url(#gR)" transform="rotate(16 1116.1 155.8)"/>
<ellipse cx="1099.7" cy="169.6" rx="17.2" ry="14.3" fill="#5a0808" opacity="0.36" filter="url(#ao)" transform="rotate(88 1099.7 168.6)"/>
<ellipse cx="1099.7" cy="168.6" rx="14.7" ry="11.8" fill="url(#gR)" transform="rotate(88 1099.7 168.6)"/>
<ellipse cx="1082.5" cy="158.0" rx="17.2" ry="14.3" fill="#5a0808" opacity="0.36" filter="url(#ao)" transform="rotate(160 1082.5 157.0)"/>
<ellipse cx="1082.5" cy="157.0" rx="14.7" ry="11.8" fill="url(#gR)" transform="rotate(160 1082.5 157.0)"/>
<ellipse cx="1088.2" cy="138.0" rx="17.2" ry="14.3" fill="#5a0808" opacity="0.36" filter="url(#ao)" transform="rotate(232 1088.2 137.0)"/>
<ellipse cx="1088.2" cy="137.0" rx="14.7" ry="11.8" fill="url(#gR)" transform="rotate(232 1088.2 137.0)"/>
<ellipse cx="1369.8" cy="152.0" rx="38.8" ry="38.8" fill="#5a0808" opacity="0.36" filter="url(#ao)"/>
<ellipse cx="1369.8" cy="151.0" rx="36.3" ry="36.3" fill="url(#gR)"/>
<ellipse cx="1361.9" cy="130.3" rx="28.5" ry="27.0" fill="#5a0808" opacity="0.36" filter="url(#ao)" transform="rotate(-110 1361.9 129.3)"/>
<ellipse cx="1361.9" cy="129.3" rx="26.0" ry="24.5" fill="url(#gR)" transform="rotate(-110 1361.9 129.3)"/>
<ellipse cx="1388.0" cy="137.8" rx="28.5" ry="27.0" fill="#5a0808" opacity="0.36" filter="url(#ao)" transform="rotate(-38 1388.0 136.8)"/>
<ellipse cx="1388.0" cy="136.8" rx="26.0" ry="24.5" fill="url(#gR)" transform="rotate(-38 1388.0 136.8)"/>
<ellipse cx="1388.9" cy="164.9" rx="28.5" ry="27.0" fill="#5a0808" opacity="0.36" filter="url(#ao)" transform="rotate(34 1388.9 163.9)"/>
<ellipse cx="1388.9" cy="163.9" rx="26.0" ry="24.5" fill="url(#gR)" transform="rotate(34 1388.9 163.9)"/>
<ellipse cx="1363.4" cy="174.1" rx="28.5" ry="27.0" fill="#5a0808" opacity="0.36" filter="url(#ao)" transform="rotate(106 1363.4 173.1)"/>
<ellipse cx="1363.4" cy="173.1" rx="26.0" ry="24.5" fill="url(#gR)" transform="rotate(106 1363.4 173.1)"/>
<ellipse cx="1346.8" cy="152.8" rx="28.5" ry="27.0" fill="#5a0808" opacity="0.36" filter="url(#ao)" transform="rotate(178 1346.8 151.8)"/>
<ellipse cx="1346.8" cy="151.8" rx="26.0" ry="24.5" fill="url(#gR)" transform="rotate(178 1346.8 151.8)"/>
<ellipse cx="1368.0" cy="134.4" rx="17.2" ry="14.3" fill="#5a0808" opacity="0.36" filter="url(#ao)" transform="rotate(-96 1368.0 133.4)"/>
<ellipse cx="1368.0" cy="133.4" rx="14.7" ry="11.8" fill="url(#gR)" transform="rotate(-96 1368.0 133.4)"/>
<ellipse cx="1385.9" cy="144.8" rx="17.2" ry="14.3" fill="#5a0808" opacity="0.36" filter="url(#ao)" transform="rotate(-24 1385.9 143.8)"/>
<ellipse cx="1385.9" cy="143.8" rx="14.7" ry="11.8" fill="url(#gR)" transform="rotate(-24 1385.9 143.8)"/>
<ellipse cx="1381.6" cy="165.1" rx="17.2" ry="14.3" fill="#5a0808" opacity="0.36" filter="url(#ao)" transform="rotate(48 1381.6 164.1)"/>
<ellipse cx="1381.6" cy="164.1" rx="14.7" ry="11.8" fill="url(#gR)" transform="rotate(48 1381.6 164.1)"/>
<ellipse cx="1361.0" cy="167.3" rx="17.2" ry="14.3" fill="#5a0808" opacity="0.36" filter="url(#ao)" transform="rotate(120 1361.0 166.3)"/>
<ellipse cx="1361.0" cy="166.3" rx="14.7" ry="11.8" fill="url(#gR)" transform="rotate(120 1361.0 166.3)"/>
<ellipse cx="1352.5" cy="148.3" rx="17.2" ry="14.3" fill="#5a0808" opacity="0.36" filter="url(#ao)" transform="rotate(192 1352.5 147.3)"/>
<ellipse cx="1352.5" cy="147.3" rx="14.7" ry="11.8" fill="url(#gR)" transform="rotate(192 1352.5 147.3)"/>
<ellipse cx="1099.1" cy="327.3" rx="38.8" ry="38.8" fill="#5a0808" opacity="0.36" filter="url(#ao)"/>
<ellipse cx="1099.1" cy="326.3" rx="36.3" ry="36.3" fill="url(#gR)"/>
<ellipse cx="1091.2" cy="305.6" rx="28.5" ry="27.0" fill="#5a0808" opacity="0.36" filter="url(#ao)" transform="rotate(-110 1091.2 304.6)"/>
<ellipse cx="1091.2" cy="304.6" rx="26.0" ry="24.5" fill="url(#gR)" transform="rotate(-110 1091.2 304.6)"/>
<ellipse cx="1117.3" cy="313.1" rx="28.5" ry="27.0" fill="#5a0808" opacity="0.36" filter="url(#ao)" transform="rotate(-38 1117.3 312.1)"/>
<ellipse cx="1117.3" cy="312.1" rx="26.0" ry="24.5" fill="url(#gR)" transform="rotate(-38 1117.3 312.1)"/>
<ellipse cx="1118.2" cy="340.2" rx="28.5" ry="27.0" fill="#5a0808" opacity="0.36" filter="url(#ao)" transform="rotate(34 1118.2 339.2)"/>
<ellipse cx="1118.2" cy="339.2" rx="26.0" ry="24.5" fill="url(#gR)" transform="rotate(34 1118.2 339.2)"/>
<ellipse cx="1092.7" cy="349.5" rx="28.5" ry="27.0" fill="#5a0808" opacity="0.36" filter="url(#ao)" transform="rotate(106 1092.7 348.5)"/>
<ellipse cx="1092.7" cy="348.5" rx="26.0" ry="24.5" fill="url(#gR)" transform="rotate(106 1092.7 348.5)"/>
<ellipse cx="1076.1" cy="328.1" rx="28.5" ry="27.0" fill="#5a0808" opacity="0.36" filter="url(#ao)" transform="rotate(178 1076.1 327.1)"/>
<ellipse cx="1076.1" cy="327.1" rx="26.0" ry="24.5" fill="url(#gR)" transform="rotate(178 1076.1 327.1)"/>
<ellipse cx="1097.3" cy="309.7" rx="17.2" ry="14.3" fill="#5a0808" opacity="0.36" filter="url(#ao)" transform="rotate(-96 1097.3 308.7)"/>
<ellipse cx="1097.3" cy="308.7" rx="14.7" ry="11.8" fill="url(#gR)" transform="rotate(-96 1097.3 308.7)"/>
<ellipse cx="1115.2" cy="320.1" rx="17.2" ry="14.3" fill="#5a0808" opacity="0.36" filter="url(#ao)" transform="rotate(-24 1115.2 319.1)"/>
<ellipse cx="1115.2" cy="319.1" rx="14.7" ry="11.8" fill="url(#gR)" transform="rotate(-24 1115.2 319.1)"/>
<ellipse cx="1110.9" cy="340.4" rx="17.2" ry="14.3" fill="#5a0808" opacity="0.36" filter="url(#ao)" transform="rotate(48 1110.9 339.4)"/>
<ellipse cx="1110.9" cy="339.4" rx="14.7" ry="11.8" fill="url(#gR)" transform="rotate(48 1110.9 339.4)"/>
<ellipse cx="1090.3" cy="342.6" rx="17.2" ry="14.3" fill="#5a0808" opacity="0.36" filter="url(#ao)" transform="rotate(120 1090.3 341.6)"/>
<ellipse cx="1090.3" cy="341.6" rx="14.7" ry="11.8" fill="url(#gR)" transform="rotate(120 1090.3 341.6)"/>
<ellipse cx="1081.8" cy="323.6" rx="17.2" ry="14.3" fill="#5a0808" opacity="0.36" filter="url(#ao)" transform="rotate(192 1081.8 322.6)"/>
<ellipse cx="1081.8" cy="322.6" rx="14.7" ry="11.8" fill="url(#gR)" transform="rotate(192 1081.8 322.6)"/>
<ellipse cx="1370.6" cy="327.3" rx="38.8" ry="38.8" fill="#5a0808" opacity="0.36" filter="url(#ao)"/>
<ellipse cx="1370.6" cy="326.3" rx="36.3" ry="36.3" fill="url(#gR)"/>
<ellipse cx="1378.5" cy="305.6" rx="28.5" ry="27.0" fill="#5a0808" opacity="0.36" filter="url(#ao)" transform="rotate(-70 1378.5 304.6)"/>
<ellipse cx="1378.5" cy="304.6" rx="26.0" ry="24.5" fill="url(#gR)" transform="rotate(-70 1378.5 304.6)"/>
<ellipse cx="1393.7" cy="328.1" rx="28.5" ry="27.0" fill="#5a0808" opacity="0.36" filter="url(#ao)" transform="rotate(2 1393.7 327.1)"/>
<ellipse cx="1393.7" cy="327.1" rx="26.0" ry="24.5" fill="url(#gR)" transform="rotate(2 1393.7 327.1)"/>
<ellipse cx="1377.0" cy="349.5" rx="28.5" ry="27.0" fill="#5a0808" opacity="0.36" filter="url(#ao)" transform="rotate(74 1377.0 348.5)"/>
<ellipse cx="1377.0" cy="348.5" rx="26.0" ry="24.5" fill="url(#gR)" transform="rotate(74 1377.0 348.5)"/>
<ellipse cx="1351.5" cy="340.2" rx="28.5" ry="27.0" fill="#5a0808" opacity="0.36" filter="url(#ao)" transform="rotate(146 1351.5 339.2)"/>
<ellipse cx="1351.5" cy="339.2" rx="26.0" ry="24.5" fill="url(#gR)" transform="rotate(146 1351.5 339.2)"/>
<ellipse cx="1352.5" cy="313.1" rx="28.5" ry="27.0" fill="#5a0808" opacity="0.36" filter="url(#ao)" transform="rotate(218 1352.5 312.1)"/>
<ellipse cx="1352.5" cy="312.1" rx="26.0" ry="24.5" fill="url(#gR)" transform="rotate(218 1352.5 312.1)"/>
<ellipse cx="1380.5" cy="312.7" rx="17.2" ry="14.3" fill="#5a0808" opacity="0.36" filter="url(#ao)" transform="rotate(-56 1380.5 311.7)"/>
<ellipse cx="1380.5" cy="311.7" rx="14.7" ry="11.8" fill="url(#gR)" transform="rotate(-56 1380.5 311.7)"/>
<ellipse cx="1387.6" cy="332.2" rx="17.2" ry="14.3" fill="#5a0808" opacity="0.36" filter="url(#ao)" transform="rotate(16 1387.6 331.2)"/>
<ellipse cx="1387.6" cy="331.2" rx="14.7" ry="11.8" fill="url(#gR)" transform="rotate(16 1387.6 331.2)"/>
<ellipse cx="1371.3" cy="345.0" rx="17.2" ry="14.3" fill="#5a0808" opacity="0.36" filter="url(#ao)" transform="rotate(88 1371.3 344.0)"/>
<ellipse cx="1371.3" cy="344.0" rx="14.7" ry="11.8" fill="url(#gR)" transform="rotate(88 1371.3 344.0)"/>
<ellipse cx="1354.0" cy="333.4" rx="17.2" ry="14.3" fill="#5a0808" opacity="0.36" filter="url(#ao)" transform="rotate(160 1354.0 332.4)"/>
<ellipse cx="1354.0" cy="332.4" rx="14.7" ry="11.8" fill="url(#gR)" transform="rotate(160 1354.0 332.4)"/>
<ellipse cx="1359.8" cy="313.4" rx="17.2" ry="14.3" fill="#5a0808" opacity="0.36" filter="url(#ao)" transform="rotate(232 1359.8 312.4)"/>
<ellipse cx="1359.8" cy="312.4" rx="14.7" ry="11.8" fill="url(#gR)" transform="rotate(232 1359.8 312.4)"/>
<ellipse cx="1233.8" cy="237.5" rx="153.0" ry="153.0" fill="#143e6e" opacity="0.38" filter="url(#ao)"/>
<ellipse cx="1233.8" cy="236.5" rx="150.5" ry="150.5" fill="url(#gB)"/>
<ellipse cx="1159.9" cy="121.8" rx="34.7" ry="33.2" fill="#143e6e" opacity="0.38" filter="url(#ao)"/>
<ellipse cx="1159.9" cy="120.8" rx="32.2" ry="30.7" fill="url(#gB)"/>
<ellipse cx="1123.6" cy="158.1" rx="28.6" ry="28.6" fill="#143e6e" opacity="0.38" filter="url(#ao)"/>
<ellipse cx="1123.6" cy="157.1" rx="26.1" ry="26.1" fill="url(#gB)"/>
<ellipse cx="1159.9" cy="163.7" rx="33.2" ry="31.6" fill="#143e6e" opacity="0.38" filter="url(#ao)"/>
<ellipse cx="1159.9" cy="162.7" rx="30.7" ry="29.1" fill="url(#gB)"/>
<ellipse cx="1299.3" cy="130.2" rx="42.4" ry="36.2" fill="#143e6e" opacity="0.38" filter="url(#ao)"/>
<ellipse cx="1299.3" cy="129.2" rx="39.9" ry="33.7" fill="url(#gB)"/>
<ellipse cx="1335.5" cy="163.7" rx="28.6" ry="28.6" fill="#143e6e" opacity="0.38" filter="url(#ao)"/>
<ellipse cx="1335.5" cy="162.7" rx="26.1" ry="26.1" fill="url(#gB)"/>
<ellipse cx="1369.0" cy="197.1" rx="25.5" ry="27.0" fill="#143e6e" opacity="0.38" filter="url(#ao)"/>
<ellipse cx="1369.0" cy="196.1" rx="23.0" ry="24.5" fill="url(#gB)"/>
<ellipse cx="1382.9" cy="252.9" rx="20.9" ry="24.0" fill="#143e6e" opacity="0.38" filter="url(#ao)"/>
<ellipse cx="1382.9" cy="251.9" rx="18.4" ry="21.5" fill="url(#gB)"/>
<ellipse cx="1090.2" cy="219.4" rx="24.0" ry="27.0" fill="#143e6e" opacity="0.38" filter="url(#ao)"/>
<ellipse cx="1090.2" cy="218.4" rx="21.5" ry="24.5" fill="url(#gB)"/>
<ellipse cx="1095.8" cy="272.4" rx="25.5" ry="27.0" fill="#143e6e" opacity="0.38" filter="url(#ao)"/>
<ellipse cx="1095.8" cy="271.4" rx="23.0" ry="24.5" fill="url(#gB)"/>
<ellipse cx="1132.0" cy="314.2" rx="30.1" ry="30.1" fill="#143e6e" opacity="0.38" filter="url(#ao)"/>
<ellipse cx="1132.0" cy="313.2" rx="27.6" ry="27.6" fill="url(#gB)"/>
<ellipse cx="1173.8" cy="328.1" rx="36.2" ry="33.2" fill="#143e6e" opacity="0.38" filter="url(#ao)"/>
<ellipse cx="1173.8" cy="327.1" rx="33.7" ry="30.7" fill="url(#gB)"/>
<ellipse cx="1157.1" cy="361.6" rx="25.5" ry="25.5" fill="#143e6e" opacity="0.38" filter="url(#ao)"/>
<ellipse cx="1157.1" cy="360.6" rx="23.0" ry="23.0" fill="url(#gB)"/>
<ellipse cx="1363.4" cy="280.8" rx="24.0" ry="25.5" fill="#143e6e" opacity="0.38" filter="url(#ao)"/>
<ellipse cx="1363.4" cy="279.8" rx="21.5" ry="23.0" fill="url(#gB)"/>
<ellipse cx="1343.9" cy="317.0" rx="28.6" ry="28.6" fill="#143e6e" opacity="0.38" filter="url(#ao)"/>
<ellipse cx="1343.9" cy="316.0" rx="26.1" ry="26.1" fill="url(#gB)"/>
<ellipse cx="1318.8" cy="353.2" rx="27.0" ry="27.0" fill="#143e6e" opacity="0.38" filter="url(#ao)"/>
<ellipse cx="1318.8" cy="352.2" rx="24.5" ry="24.5" fill="url(#gB)"/>
<ellipse cx="1304.8" cy="308.6" rx="36.2" ry="36.2" fill="#143e6e" opacity="0.38" filter="url(#ao)"/>
<ellipse cx="1304.8" cy="307.6" rx="33.7" ry="33.7" fill="url(#gB)"/>
<ellipse cx="1218.4" cy="163.7" rx="34.7" ry="37.8" fill="#143e6e" opacity="0.38" filter="url(#ao)"/>
<ellipse cx="1218.4" cy="162.7" rx="32.2" ry="35.3" fill="url(#gB)"/>
<ellipse cx="1263.0" cy="180.4" rx="33.2" ry="31.6" fill="#143e6e" opacity="0.38" filter="url(#ao)"/>
<ellipse cx="1263.0" cy="179.4" rx="30.7" ry="29.1" fill="url(#gB)"/>
<ellipse cx="1221.2" cy="208.3" rx="36.2" ry="36.2" fill="#143e6e" opacity="0.38" filter="url(#ao)"/>
<ellipse cx="1221.2" cy="207.3" rx="33.7" ry="33.7" fill="url(#gB)"/>
<ellipse cx="1246.3" cy="264.0" rx="42.4" ry="37.8" fill="#143e6e" opacity="0.38" filter="url(#ao)"/>
<ellipse cx="1246.3" cy="263.0" rx="39.9" ry="35.3" fill="url(#gB)"/>
<ellipse cx="1196.1" cy="280.8" rx="36.2" ry="30.1" fill="#143e6e" opacity="0.38" filter="url(#ao)"/>
<ellipse cx="1196.1" cy="279.8" rx="33.7" ry="27.6" fill="url(#gB)"/>
<ellipse cx="1218.4" cy="308.6" rx="27.0" ry="27.0" fill="#143e6e" opacity="0.38" filter="url(#ao)"/>
<ellipse cx="1218.4" cy="307.6" rx="24.5" ry="24.5" fill="url(#gB)"/>
<ellipse cx="1251.9" cy="317.0" rx="33.2" ry="31.6" fill="#143e6e" opacity="0.38" filter="url(#ao)"/>
<ellipse cx="1251.9" cy="316.0" rx="30.7" ry="29.1" fill="url(#gB)"/>
<path d="M1206,250 l13,-9 l6,7 l-13,9 z M1249,225 l12,-8 l5,6 l-12,8z" fill="#6a6a6a"/>
<ellipse cx="1232.9" cy="100.9" rx="49.5" ry="42.0" fill="#5a0808" opacity="0.36" filter="url(#ao)"/>
<ellipse cx="1232.9" cy="99.9" rx="47.0" ry="39.5" fill="url(#gR)"/>
<ellipse cx="1232.9" cy="126.0" rx="30.8" ry="34.3" fill="#5a0808" opacity="0.36" filter="url(#ao)" transform="rotate(90 1232.9 125.0)"/>
<ellipse cx="1232.9" cy="125.0" rx="28.3" ry="31.8" fill="url(#gR)" transform="rotate(90 1232.9 125.0)"/>
<ellipse cx="1204.5" cy="108.7" rx="35.7" ry="29.7" fill="#5a0808" opacity="0.36" filter="url(#ao)" transform="rotate(162 1204.5 107.7)"/>
<ellipse cx="1204.5" cy="107.7" rx="33.2" ry="27.2" fill="url(#gR)" transform="rotate(162 1204.5 107.7)"/>
<ellipse cx="1215.4" cy="80.6" rx="32.8" ry="32.6" fill="#5a0808" opacity="0.36" filter="url(#ao)" transform="rotate(234 1215.4 79.6)"/>
<ellipse cx="1215.4" cy="79.6" rx="30.3" ry="30.1" fill="url(#gR)" transform="rotate(234 1215.4 79.6)"/>
<ellipse cx="1250.5" cy="80.6" rx="32.8" ry="32.6" fill="#5a0808" opacity="0.36" filter="url(#ao)" transform="rotate(306 1250.5 79.6)"/>
<ellipse cx="1250.5" cy="79.6" rx="30.3" ry="30.1" fill="url(#gR)" transform="rotate(306 1250.5 79.6)"/>
<ellipse cx="1261.3" cy="108.7" rx="35.7" ry="29.7" fill="#5a0808" opacity="0.36" filter="url(#ao)" transform="rotate(378 1261.3 107.7)"/>
<ellipse cx="1261.3" cy="107.7" rx="33.2" ry="27.2" fill="url(#gR)" transform="rotate(378 1261.3 107.7)"/>
<ellipse cx="1227.4" cy="119.6" rx="18.7" ry="17.6" fill="#5a0808" opacity="0.36" filter="url(#ao)" transform="rotate(104 1227.4 118.6)"/>
<ellipse cx="1227.4" cy="118.6" rx="16.2" ry="15.1" fill="url(#gR)" transform="rotate(104 1227.4 118.6)"/>
<ellipse cx="1210.1" cy="102.3" rx="21.6" ry="15.3" fill="#5a0808" opacity="0.36" filter="url(#ao)" transform="rotate(176 1210.1 101.3)"/>
<ellipse cx="1210.1" cy="101.3" rx="19.1" ry="12.8" fill="url(#gR)" transform="rotate(176 1210.1 101.3)"/>
<ellipse cx="1224.3" cy="83.1" rx="19.0" ry="17.4" fill="#5a0808" opacity="0.36" filter="url(#ao)" transform="rotate(248 1224.3 82.1)"/>
<ellipse cx="1224.3" cy="82.1" rx="16.5" ry="14.9" fill="url(#gR)" transform="rotate(248 1224.3 82.1)"/>
<ellipse cx="1250.4" cy="88.6" rx="20.4" ry="16.4" fill="#5a0808" opacity="0.36" filter="url(#ao)" transform="rotate(320 1250.4 87.6)"/>
<ellipse cx="1250.4" cy="87.6" rx="17.9" ry="13.9" fill="url(#gR)" transform="rotate(320 1250.4 87.6)"/>
<ellipse cx="1252.3" cy="111.1" rx="20.8" ry="16.0" fill="#5a0808" opacity="0.36" filter="url(#ao)" transform="rotate(392 1252.3 110.1)"/>
<ellipse cx="1252.3" cy="110.1" rx="18.3" ry="13.5" fill="url(#gR)" transform="rotate(392 1252.3 110.1)"/>
<ellipse cx="1140.4" cy="236.1" rx="50.8" ry="50.8" fill="#5a0808" opacity="0.36" filter="url(#ao)"/>
<ellipse cx="1140.4" cy="235.1" rx="48.3" ry="48.3" fill="url(#gR)"/>
<ellipse cx="1146.7" cy="206.2" rx="37.1" ry="35.1" fill="#5a0808" opacity="0.36" filter="url(#ao)" transform="rotate(-78 1146.7 205.2)"/>
<ellipse cx="1146.7" cy="205.2" rx="34.6" ry="32.6" fill="url(#gR)" transform="rotate(-78 1146.7 205.2)"/>
<ellipse cx="1170.9" cy="232.9" rx="37.1" ry="35.1" fill="#5a0808" opacity="0.36" filter="url(#ao)" transform="rotate(-6 1170.9 231.9)"/>
<ellipse cx="1170.9" cy="231.9" rx="34.6" ry="32.6" fill="url(#gR)" transform="rotate(-6 1170.9 231.9)"/>
<ellipse cx="1152.8" cy="264.2" rx="37.1" ry="35.1" fill="#5a0808" opacity="0.36" filter="url(#ao)" transform="rotate(66 1152.8 263.2)"/>
<ellipse cx="1152.8" cy="263.2" rx="34.6" ry="32.6" fill="url(#gR)" transform="rotate(66 1152.8 263.2)"/>
<ellipse cx="1117.6" cy="256.7" rx="37.1" ry="35.1" fill="#5a0808" opacity="0.36" filter="url(#ao)" transform="rotate(138 1117.6 255.7)"/>
<ellipse cx="1117.6" cy="255.7" rx="34.6" ry="32.6" fill="url(#gR)" transform="rotate(138 1117.6 255.7)"/>
<ellipse cx="1113.8" cy="220.8" rx="37.1" ry="35.1" fill="#5a0808" opacity="0.36" filter="url(#ao)" transform="rotate(210 1113.8 219.8)"/>
<ellipse cx="1113.8" cy="219.8" rx="34.6" ry="32.6" fill="url(#gR)" transform="rotate(210 1113.8 219.8)"/>
<ellipse cx="1150.7" cy="215.0" rx="22.1" ry="18.2" fill="#5a0808" opacity="0.36" filter="url(#ao)" transform="rotate(-64 1150.7 214.0)"/>
<ellipse cx="1150.7" cy="214.0" rx="19.6" ry="15.7" fill="url(#gR)" transform="rotate(-64 1150.7 214.0)"/>
<ellipse cx="1163.6" cy="239.4" rx="22.1" ry="18.2" fill="#5a0808" opacity="0.36" filter="url(#ao)" transform="rotate(8 1163.6 238.4)"/>
<ellipse cx="1163.6" cy="238.4" rx="19.6" ry="15.7" fill="url(#gR)" transform="rotate(8 1163.6 238.4)"/>
<ellipse cx="1144.4" cy="259.3" rx="22.1" ry="18.2" fill="#5a0808" opacity="0.36" filter="url(#ao)" transform="rotate(80 1144.4 258.3)"/>
<ellipse cx="1144.4" cy="258.3" rx="19.6" ry="15.7" fill="url(#gR)" transform="rotate(80 1144.4 258.3)"/>
<ellipse cx="1119.6" cy="247.2" rx="22.1" ry="18.2" fill="#5a0808" opacity="0.36" filter="url(#ao)" transform="rotate(152 1119.6 246.2)"/>
<ellipse cx="1119.6" cy="246.2" rx="19.6" ry="15.7" fill="url(#gR)" transform="rotate(152 1119.6 246.2)"/>
<ellipse cx="1123.5" cy="219.8" rx="22.1" ry="18.2" fill="#5a0808" opacity="0.36" filter="url(#ao)" transform="rotate(224 1123.5 218.8)"/>
<ellipse cx="1123.5" cy="218.8" rx="19.6" ry="15.7" fill="url(#gR)" transform="rotate(224 1123.5 218.8)"/>
<ellipse cx="1329.9" cy="239.5" rx="49.5" ry="49.5" fill="#5a0808" opacity="0.36" filter="url(#ao)"/>
<ellipse cx="1329.9" cy="238.5" rx="47.0" ry="47.0" fill="url(#gR)"/>
<ellipse cx="1323.7" cy="210.3" rx="36.2" ry="34.3" fill="#5a0808" opacity="0.36" filter="url(#ao)" transform="rotate(-102 1323.7 209.3)"/>
<ellipse cx="1323.7" cy="209.3" rx="33.7" ry="31.8" fill="url(#gR)" transform="rotate(-102 1323.7 209.3)"/>
<ellipse cx="1355.8" cy="224.6" rx="36.2" ry="34.3" fill="#5a0808" opacity="0.36" filter="url(#ao)" transform="rotate(-30 1355.8 223.6)"/>
<ellipse cx="1355.8" cy="223.6" rx="33.7" ry="31.8" fill="url(#gR)" transform="rotate(-30 1355.8 223.6)"/>
<ellipse cx="1352.1" cy="259.5" rx="36.2" ry="34.3" fill="#5a0808" opacity="0.36" filter="url(#ao)" transform="rotate(42 1352.1 258.5)"/>
<ellipse cx="1352.1" cy="258.5" rx="33.7" ry="31.8" fill="url(#gR)" transform="rotate(42 1352.1 258.5)"/>
<ellipse cx="1317.8" cy="266.8" rx="36.2" ry="34.3" fill="#5a0808" opacity="0.36" filter="url(#ao)" transform="rotate(114 1317.8 265.8)"/>
<ellipse cx="1317.8" cy="265.8" rx="33.7" ry="31.8" fill="url(#gR)" transform="rotate(114 1317.8 265.8)"/>
<ellipse cx="1300.2" cy="236.4" rx="36.2" ry="34.3" fill="#5a0808" opacity="0.36" filter="url(#ao)" transform="rotate(186 1300.2 235.4)"/>
<ellipse cx="1300.2" cy="235.4" rx="33.7" ry="31.8" fill="url(#gR)" transform="rotate(186 1300.2 235.4)"/>
<ellipse cx="1330.7" cy="216.6" rx="21.6" ry="17.8" fill="#5a0808" opacity="0.36" filter="url(#ao)" transform="rotate(-88 1330.7 215.6)"/>
<ellipse cx="1330.7" cy="215.6" rx="19.1" ry="15.3" fill="url(#gR)" transform="rotate(-88 1330.7 215.6)"/>
<ellipse cx="1351.9" cy="233.2" rx="21.6" ry="17.8" fill="#5a0808" opacity="0.36" filter="url(#ao)" transform="rotate(-16 1351.9 232.2)"/>
<ellipse cx="1351.9" cy="232.2" rx="19.1" ry="15.3" fill="url(#gR)" transform="rotate(-16 1351.9 232.2)"/>
<ellipse cx="1342.7" cy="258.5" rx="21.6" ry="17.8" fill="#5a0808" opacity="0.36" filter="url(#ao)" transform="rotate(56 1342.7 257.5)"/>
<ellipse cx="1342.7" cy="257.5" rx="19.1" ry="15.3" fill="url(#gR)" transform="rotate(56 1342.7 257.5)"/>
<ellipse cx="1315.8" cy="257.5" rx="21.6" ry="17.8" fill="#5a0808" opacity="0.36" filter="url(#ao)" transform="rotate(128 1315.8 256.5)"/>
<ellipse cx="1315.8" cy="256.5" rx="19.1" ry="15.3" fill="url(#gR)" transform="rotate(128 1315.8 256.5)"/>
<ellipse cx="1308.4" cy="231.7" rx="21.6" ry="17.8" fill="#5a0808" opacity="0.36" filter="url(#ao)" transform="rotate(200 1308.4 230.7)"/>
<ellipse cx="1308.4" cy="230.7" rx="19.1" ry="15.3" fill="url(#gR)" transform="rotate(200 1308.4 230.7)"/>
<ellipse cx="1235.1" cy="375.5" rx="49.1" ry="41.7" fill="#5a0808" opacity="0.36" filter="url(#ao)"/>
<ellipse cx="1235.1" cy="374.5" rx="46.6" ry="39.2" fill="url(#gR)"/>
<ellipse cx="1235.1" cy="350.7" rx="30.5" ry="34.0" fill="#5a0808" opacity="0.36" filter="url(#ao)" transform="rotate(-90 1235.1 349.7)"/>
<ellipse cx="1235.1" cy="349.7" rx="28.0" ry="31.5" fill="url(#gR)" transform="rotate(-90 1235.1 349.7)"/>
<ellipse cx="1263.3" cy="367.9" rx="35.4" ry="29.5" fill="#5a0808" opacity="0.36" filter="url(#ao)" transform="rotate(-18 1263.3 366.9)"/>
<ellipse cx="1263.3" cy="366.9" rx="32.9" ry="27.0" fill="url(#gR)" transform="rotate(-18 1263.3 366.9)"/>
<ellipse cx="1252.6" cy="395.7" rx="32.5" ry="32.4" fill="#5a0808" opacity="0.36" filter="url(#ao)" transform="rotate(54 1252.6 394.7)"/>
<ellipse cx="1252.6" cy="394.7" rx="30.0" ry="29.9" fill="url(#gR)" transform="rotate(54 1252.6 394.7)"/>
<ellipse cx="1217.7" cy="395.7" rx="32.5" ry="32.4" fill="#5a0808" opacity="0.36" filter="url(#ao)" transform="rotate(126 1217.7 394.7)"/>
<ellipse cx="1217.7" cy="394.7" rx="30.0" ry="29.9" fill="url(#gR)" transform="rotate(126 1217.7 394.7)"/>
<ellipse cx="1207.0" cy="367.9" rx="35.4" ry="29.5" fill="#5a0808" opacity="0.36" filter="url(#ao)" transform="rotate(198 1207.0 366.9)"/>
<ellipse cx="1207.0" cy="366.9" rx="32.9" ry="27.0" fill="url(#gR)" transform="rotate(198 1207.0 366.9)"/>
<ellipse cx="1240.6" cy="357.1" rx="18.6" ry="17.5" fill="#5a0808" opacity="0.36" filter="url(#ao)" transform="rotate(-76 1240.6 356.1)"/>
<ellipse cx="1240.6" cy="356.1" rx="16.1" ry="15.0" fill="url(#gR)" transform="rotate(-76 1240.6 356.1)"/>
<ellipse cx="1257.8" cy="374.2" rx="21.4" ry="15.2" fill="#5a0808" opacity="0.36" filter="url(#ao)" transform="rotate(-4 1257.8 373.2)"/>
<ellipse cx="1257.8" cy="373.2" rx="18.9" ry="12.7" fill="url(#gR)" transform="rotate(-4 1257.8 373.2)"/>
<ellipse cx="1243.6" cy="393.2" rx="18.8" ry="17.3" fill="#5a0808" opacity="0.36" filter="url(#ao)" transform="rotate(68 1243.6 392.2)"/>
<ellipse cx="1243.6" cy="392.2" rx="16.3" ry="14.8" fill="url(#gR)" transform="rotate(68 1243.6 392.2)"/>
<ellipse cx="1217.8" cy="387.8" rx="20.2" ry="16.3" fill="#5a0808" opacity="0.36" filter="url(#ao)" transform="rotate(140 1217.8 386.8)"/>
<ellipse cx="1217.8" cy="386.8" rx="17.7" ry="13.8" fill="url(#gR)" transform="rotate(140 1217.8 386.8)"/>
<ellipse cx="1215.9" cy="365.4" rx="20.6" ry="15.9" fill="#5a0808" opacity="0.36" filter="url(#ao)" transform="rotate(212 1215.9 364.4)"/>
<ellipse cx="1215.9" cy="364.4" rx="18.1" ry="13.4" fill="url(#gR)" transform="rotate(212 1215.9 364.4)"/>
</g>
<rect x="785.0" y="276.3" width="260.0" height="186.4" fill="#8e8e8e" />
<rect x="785" y="276.3" width="260" height="186.4" filter="url(#em11)"/>
<g clip-path="url(#em11c)">
<circle cx="868.0" cy="302.0" r="24.0" fill="#5e5e5e" opacity="0.5" filter="url(#b3)"/>
<circle cx="868.0" cy="302.0" r="14.2" fill="none" stroke="#fff" stroke-width="11.4" filter="url(#em11p)" opacity="0.8"/>
<circle cx="818.0" cy="341.0" r="24.0" fill="#5e5e5e" opacity="0.5" filter="url(#b3)"/>
<circle cx="818.0" cy="341.0" r="14.2" fill="none" stroke="#fff" stroke-width="11.4" filter="url(#em11p)" opacity="0.8"/>
<circle cx="864.0" cy="339.0" r="24.0" fill="#5e5e5e" opacity="0.5" filter="url(#b3)"/>
<circle cx="864.0" cy="339.0" r="14.2" fill="none" stroke="#fff" stroke-width="11.4" filter="url(#em11p)" opacity="0.8"/>
<circle cx="915.0" cy="333.0" r="25.0" fill="#5e5e5e" opacity="0.5" filter="url(#b3)"/>
<circle cx="915.0" cy="333.0" r="15.0" fill="none" stroke="#fff" stroke-width="12.0" filter="url(#em11p)" opacity="0.8"/>
<circle cx="987.0" cy="306.0" r="24.0" fill="#5e5e5e" opacity="0.5" filter="url(#b3)"/>
<circle cx="987.0" cy="306.0" r="14.2" fill="none" stroke="#fff" stroke-width="11.4" filter="url(#em11p)" opacity="0.8"/>
<circle cx="994.0" cy="360.0" r="24.0" fill="#5e5e5e" opacity="0.5" filter="url(#b3)"/>
<circle cx="994.0" cy="360.0" r="14.2" fill="none" stroke="#fff" stroke-width="11.4" filter="url(#em11p)" opacity="0.8"/>
<circle cx="839.0" cy="381.0" r="25.0" fill="#5e5e5e" opacity="0.5" filter="url(#b3)"/>
<circle cx="839.0" cy="381.0" r="15.0" fill="none" stroke="#fff" stroke-width="12.0" filter="url(#em11p)" opacity="0.8"/>
<circle cx="913.0" cy="383.0" r="25.0" fill="#5e5e5e" opacity="0.5" filter="url(#b3)"/>
<circle cx="913.0" cy="383.0" r="15.0" fill="none" stroke="#fff" stroke-width="12.0" filter="url(#em11p)" opacity="0.8"/>
<circle cx="864.0" cy="436.0" r="25.0" fill="#5e5e5e" opacity="0.5" filter="url(#b3)"/>
<circle cx="864.0" cy="436.0" r="15.0" fill="none" stroke="#fff" stroke-width="12.0" filter="url(#em11p)" opacity="0.8"/>
<circle cx="950.0" cy="416.0" r="24.0" fill="#5e5e5e" opacity="0.5" filter="url(#b3)"/>
<circle cx="950.0" cy="416.0" r="14.2" fill="none" stroke="#fff" stroke-width="11.4" filter="url(#em11p)" opacity="0.8"/>
<circle cx="994.0" cy="420.0" r="24.0" fill="#5e5e5e" opacity="0.5" filter="url(#b3)"/>
<circle cx="994.0" cy="420.0" r="14.2" fill="none" stroke="#fff" stroke-width="11.4" filter="url(#em11p)" opacity="0.8"/>
<circle cx="790.0" cy="418.0" r="24.0" fill="#5e5e5e" opacity="0.5" filter="url(#b3)"/>
<circle cx="790.0" cy="418.0" r="14.2" fill="none" stroke="#fff" stroke-width="11.4" filter="url(#em11p)" opacity="0.8"/>
</g>
<rect x="785.0" y="276.3" width="260.0" height="186.4" fill="url(#emg)" />
<rect x="946.0" y="440.0" width="87.5" height="9.0" fill="#fff" />
<text x="0" y="511" font-size="32" font-weight="bold" stroke="#000" stroke-width="1.7" stroke-linejoin="round" transform="translate(0,0) scale(1.18,1) translate(0,0)">c</text>
<text x="157.5" y="536" font-size="35.3"><tspan font-style="italic">In vitro</tspan> recipes</text>
<text x="207" y="582.5" font-size="35.3">[T]<tspan font-size="28.2" dy="6.3">0</tspan><tspan dy="-6.3" font-size="35.3">&#8203;</tspan>:[P]<tspan font-size="28.2" dy="6.3">0</tspan><tspan dy="-6.3" font-size="35.3">&#8203;</tspan></text>
<polygon points="72.5,594.0 41.5,645.0 102.5,645.0" fill="#d9d9d9" stroke="#000" stroke-width="2.8" stroke-linejoin="miter"/>
<polygon points="73.5,750.0 98.2,768.0 88.8,797.0 58.2,797.0 48.8,768.0" fill="#969696" stroke="#000" stroke-width="2.8" />
<rect x="215.0" y="596.0" width="107.5" height="203.0" fill="none" stroke="#000" stroke-width="2.4" rx="13" ry="13"/>
<rect x="242.5" y="608.5" width="24.0" height="65.0" fill="#d9d9d9" stroke="#000" stroke-width="2.8" />
<rect x="271.0" y="651.5" width="24.0" height="22.0" fill="#969696" stroke="#000" stroke-width="2.8" />
<rect x="242.5" y="687.5" width="24.0" height="21.5" fill="#d9d9d9" stroke="#000" stroke-width="2.8" />
<rect x="271.0" y="687.5" width="24.0" height="21.5" fill="#969696" stroke="#000" stroke-width="2.8" />
<rect x="242.5" y="766.5" width="24.0" height="22.0" fill="#d9d9d9" stroke="#000" stroke-width="2.8" />
<rect x="271.0" y="722.5" width="24.0" height="66.0" fill="#969696" stroke="#000" stroke-width="2.8" />
<path d="M113,647.5 C122,670 131,686 143,691.5 C156,696 176,696.6 189,697.2" fill="none" stroke="#000" stroke-width="2.5" marker-end="url(#arr)"/>
<path d="M113,747.5 C122,725 131,709 143,703.5 C156,699 176,698.4 189,697.8" fill="none" stroke="#000" stroke-width="2.5"/>
<path d="M332.5,697.5 C400,697 460,694 485,689.5 C493,688 497,676 512.3,637.8 C522,616 535,608 559.4,604.8 C575,603 588,602.6 598,602.4" fill="none" stroke="#000" stroke-width="2.5" marker-end="url(#arr)"/>
<path d="M332.5,697.5 C400,698 460,699 485,701.8 C493,703 497,714 512.3,748.7 C522,771 535,781 559.4,785.2 C575,787.5 588,788.3 598,788.7" fill="none" stroke="#000" stroke-width="2.5" marker-end="url(#arr)"/>
<path d="M332.5,697.5 L385,698 C408,699 414,706 417.5,716 C420.5,726 421,740 421.4,752" fill="none" stroke="#000" stroke-width="2.5" marker-end="url(#arr)"/>
<text x="338.5" y="742.5" font-size="35.3" fill="#000" >SEC</text>
<polygon points="389.0,765.0 369.0,796.5 410.0,796.5" fill="#d9d9d9" stroke="#000" stroke-width="1.5" />
<path d="M414.4,783.6 H430.4 M422.4,775.6 V791.6" stroke="#000" stroke-width="2.6" fill="none"/>
<polygon points="453.5,766.5 469.7,778.2 463.5,797.3 443.5,797.3 437.3,778.2" fill="#969696" stroke="#000" stroke-width="1.5" />
<rect x="622.0" y="503.4" width="804.0" height="193.6" fill="none" stroke="#000" stroke-width="2.7" rx="14" ry="14"/>
<rect x="622.0" y="700.7" width="804.0" height="195.0" fill="none" stroke="#000" stroke-width="2.7" rx="14" ry="14"/>
<text x="1023.3" y="687.3" font-size="35.3" text-anchor="middle" fill="#000" >Cooperative assembly</text>
<text x="1023.3" y="884.6" font-size="35.3" text-anchor="middle" fill="#000" >Non-cooperative assembly</text>
<g shape-rendering="geometricPrecision">
<line x1="704.0" y1="592.0" x2="738.8" y2="544.0" stroke="#000" stroke-width="3.2"/>
<line x1="704.0" y1="592.0" x2="760.4" y2="610.3" stroke="#000" stroke-width="3.2"/>
<line x1="704.0" y1="592.0" x2="704.0" y2="651.3" stroke="#000" stroke-width="3.2"/>
<line x1="704.0" y1="592.0" x2="647.6" y2="610.3" stroke="#000" stroke-width="3.2"/>
<line x1="704.0" y1="592.0" x2="669.2" y2="544.0" stroke="#000" stroke-width="3.2"/>
<polygon points="716.23,575.17 723.79,598.43 704.00,612.80 684.21,598.43 691.77,575.17" fill="rgba(115,115,115,0.78)"/>
<polygon points="691.77,575.17 716.23,575.17 704.00,561.85" fill="rgba(173,173,173,0.631)"/>
<polygon points="716.23,575.17 704.00,561.85 715.55,553.01 737.51,568.97 732.67,582.68" fill="rgba(115,115,115,0.78)"/>
<polygon points="704.00,561.85 692.45,553.01 715.55,553.01" fill="rgba(173,173,173,0.631)"/>
<polygon points="715.55,553.01 737.51,568.97 733.44,551.49" fill="rgba(173,173,173,0.631)"/>
<polygon points="692.45,553.01 715.55,553.01 733.44,551.49 704.00,519.00 674.56,551.49" fill="rgba(115,115,115,0.78)"/>
<polygon points="733.44,551.49 704.00,519.00 773.43,569.44" fill="rgba(173,173,173,0.631)"/>
<polygon points="716.23,575.17 723.79,598.43 732.67,582.68" fill="rgba(173,173,173,0.631)"/>
<polygon points="723.79,598.43 732.67,582.68 744.65,590.94 736.26,616.75 721.72,616.39" fill="rgba(115,115,115,0.78)"/>
<polygon points="732.67,582.68 737.51,568.97 744.65,590.94" fill="rgba(173,173,173,0.631)"/>
<polygon points="744.65,590.94 736.26,616.75 751.63,607.47" fill="rgba(173,173,173,0.631)"/>
<polygon points="737.51,568.97 744.65,590.94 751.63,607.47 773.43,569.44 733.44,551.49" fill="rgba(115,115,115,0.78)"/>
<polygon points="751.63,607.47 773.43,569.44 746.91,651.06" fill="rgba(173,173,173,0.631)"/>
<polygon points="723.79,598.43 704.00,612.80 721.72,616.39" fill="rgba(173,173,173,0.631)"/>
<polygon points="704.00,612.80 721.72,616.39 717.57,630.33 690.43,630.33 686.28,616.39" fill="rgba(115,115,115,0.78)"/>
<polygon points="721.72,616.39 736.26,616.75 717.57,630.33" fill="rgba(173,173,173,0.631)"/>
<polygon points="717.57,630.33 690.43,630.33 704.00,642.08" fill="rgba(173,173,173,0.631)"/>
<polygon points="736.26,616.75 717.57,630.33 704.00,642.08 746.91,651.06 751.63,607.47" fill="rgba(115,115,115,0.78)"/>
<polygon points="704.00,642.08 746.91,651.06 661.09,651.06" fill="rgba(173,173,173,0.631)"/>
<polygon points="704.00,612.80 684.21,598.43 686.28,616.39" fill="rgba(173,173,173,0.631)"/>
<polygon points="684.21,598.43 686.28,616.39 671.74,616.75 663.35,590.94 675.33,582.68" fill="rgba(115,115,115,0.78)"/>
<polygon points="686.28,616.39 690.43,630.33 671.74,616.75" fill="rgba(173,173,173,0.631)"/>
<polygon points="671.74,616.75 663.35,590.94 656.37,607.47" fill="rgba(173,173,173,0.631)"/>
<polygon points="690.43,630.33 671.74,616.75 656.37,607.47 661.09,651.06 704.00,642.08" fill="rgba(115,115,115,0.78)"/>
<polygon points="656.37,607.47 661.09,651.06 634.57,569.44" fill="rgba(173,173,173,0.631)"/>
<polygon points="684.21,598.43 691.77,575.17 675.33,582.68" fill="rgba(173,173,173,0.631)"/>
<polygon points="691.77,575.17 675.33,582.68 670.49,568.97 692.45,553.01 704.00,561.85" fill="rgba(115,115,115,0.78)"/>
<polygon points="675.33,582.68 663.35,590.94 670.49,568.97" fill="rgba(173,173,173,0.631)"/>
<polygon points="670.49,568.97 692.45,553.01 674.56,551.49" fill="rgba(173,173,173,0.631)"/>
<polygon points="663.35,590.94 670.49,568.97 674.56,551.49 634.57,569.44 656.37,607.47" fill="rgba(115,115,115,0.78)"/>
<polygon points="674.56,551.49 634.57,569.44 704.00,519.00" fill="rgba(173,173,173,0.631)"/>
<circle cx="704.0" cy="592.0" r="6.8" fill="#6e6e6e"/>
</g>
<g shape-rendering="geometricPrecision">
<line x1="864.5" y1="592.0" x2="899.3" y2="544.0" stroke="#000" stroke-width="3.2"/>
<line x1="864.5" y1="592.0" x2="920.9" y2="610.3" stroke="#000" stroke-width="3.2"/>
<line x1="864.5" y1="592.0" x2="864.5" y2="651.3" stroke="#000" stroke-width="3.2"/>
<line x1="864.5" y1="592.0" x2="808.1" y2="610.3" stroke="#000" stroke-width="3.2"/>
<line x1="864.5" y1="592.0" x2="829.7" y2="544.0" stroke="#000" stroke-width="3.2"/>
<polygon points="876.73,575.17 884.29,598.43 864.50,612.80 844.71,598.43 852.27,575.17" fill="rgba(115,115,115,0.78)"/>
<polygon points="852.27,575.17 876.73,575.17 864.50,561.85" fill="rgba(173,173,173,0.631)"/>
<polygon points="876.73,575.17 864.50,561.85 876.05,553.01 898.01,568.97 893.17,582.68" fill="rgba(115,115,115,0.78)"/>
<polygon points="864.50,561.85 852.95,553.01 876.05,553.01" fill="rgba(173,173,173,0.631)"/>
<polygon points="876.05,553.01 898.01,568.97 893.94,551.49" fill="rgba(173,173,173,0.631)"/>
<polygon points="852.95,553.01 876.05,553.01 893.94,551.49 864.50,519.00 835.06,551.49" fill="rgba(115,115,115,0.78)"/>
<polygon points="893.94,551.49 864.50,519.00 933.93,569.44" fill="rgba(173,173,173,0.631)"/>
<polygon points="876.73,575.17 884.29,598.43 893.17,582.68" fill="rgba(173,173,173,0.631)"/>
<polygon points="884.29,598.43 893.17,582.68 905.15,590.94 896.76,616.75 882.22,616.39" fill="rgba(115,115,115,0.78)"/>
<polygon points="893.17,582.68 898.01,568.97 905.15,590.94" fill="rgba(173,173,173,0.631)"/>
<polygon points="905.15,590.94 896.76,616.75 912.13,607.47" fill="rgba(173,173,173,0.631)"/>
<polygon points="898.01,568.97 905.15,590.94 912.13,607.47 933.93,569.44 893.94,551.49" fill="rgba(115,115,115,0.78)"/>
<polygon points="912.13,607.47 933.93,569.44 907.41,651.06" fill="rgba(173,173,173,0.631)"/>
<polygon points="884.29,598.43 864.50,612.80 882.22,616.39" fill="rgba(173,173,173,0.631)"/>
<polygon points="864.50,612.80 882.22,616.39 878.07,630.33 850.93,630.33 846.78,616.39" fill="rgba(115,115,115,0.78)"/>
<polygon points="882.22,616.39 896.76,616.75 878.07,630.33" fill="rgba(173,173,173,0.631)"/>
<polygon points="878.07,630.33 850.93,630.33 864.50,642.08" fill="rgba(173,173,173,0.631)"/>
<polygon points="896.76,616.75 878.07,630.33 864.50,642.08 907.41,651.06 912.13,607.47" fill="rgba(115,115,115,0.78)"/>
<polygon points="864.50,642.08 907.41,651.06 821.59,651.06" fill="rgba(173,173,173,0.631)"/>
<polygon points="864.50,612.80 844.71,598.43 846.78,616.39" fill="rgba(173,173,173,0.631)"/>
<polygon points="844.71,598.43 846.78,616.39 832.24,616.75 823.85,590.94 835.83,582.68" fill="rgba(115,115,115,0.78)"/>
<polygon points="846.78,616.39 850.93,630.33 832.24,616.75" fill="rgba(173,173,173,0.631)"/>
<polygon points="832.24,616.75 823.85,590.94 816.87,607.47" fill="rgba(173,173,173,0.631)"/>
<polygon points="850.93,630.33 832.24,616.75 816.87,607.47 821.59,651.06 864.50,642.08" fill="rgba(115,115,115,0.78)"/>
<polygon points="816.87,607.47 821.59,651.06 795.07,569.44" fill="rgba(173,173,173,0.631)"/>
<polygon points="844.71,598.43 852.27,575.17 835.83,582.68" fill="rgba(173,173,173,0.631)"/>
<polygon points="852.27,575.17 835.83,582.68 830.99,568.97 852.95,553.01 864.50,561.85" fill="rgba(115,115,115,0.78)"/>
<polygon points="835.83,582.68 823.85,590.94 830.99,568.97" fill="rgba(173,173,173,0.631)"/>
<polygon points="830.99,568.97 852.95,553.01 835.06,551.49" fill="rgba(173,173,173,0.631)"/>
<polygon points="823.85,590.94 830.99,568.97 835.06,551.49 795.07,569.44 816.87,607.47" fill="rgba(115,115,115,0.78)"/>
<polygon points="835.06,551.49 795.07,569.44 864.50,519.00" fill="rgba(173,173,173,0.631)"/>
<circle cx="864.5" cy="592.0" r="6.8" fill="#6e6e6e"/>
</g>
<g shape-rendering="geometricPrecision">
<line x1="1024.5" y1="592.0" x2="1059.3" y2="544.0" stroke="#000" stroke-width="3.2"/>
<line x1="1024.5" y1="592.0" x2="1080.9" y2="610.3" stroke="#000" stroke-width="3.2"/>
<line x1="1024.5" y1="592.0" x2="1024.5" y2="651.3" stroke="#000" stroke-width="3.2"/>
<line x1="1024.5" y1="592.0" x2="968.1" y2="610.3" stroke="#000" stroke-width="3.2"/>
<line x1="1024.5" y1="592.0" x2="989.7" y2="544.0" stroke="#000" stroke-width="3.2"/>
<polygon points="1036.73,575.17 1044.29,598.43 1024.50,612.80 1004.71,598.43 1012.27,575.17" fill="rgba(115,115,115,0.78)"/>
<polygon points="1012.27,575.17 1036.73,575.17 1024.50,561.85" fill="rgba(173,173,173,0.631)"/>
<polygon points="1036.73,575.17 1024.50,561.85 1036.05,553.01 1058.01,568.97 1053.17,582.68" fill="rgba(115,115,115,0.78)"/>
<polygon points="1024.50,561.85 1012.95,553.01 1036.05,553.01" fill="rgba(173,173,173,0.631)"/>
<polygon points="1036.05,553.01 1058.01,568.97 1053.94,551.49" fill="rgba(173,173,173,0.631)"/>
<polygon points="1012.95,553.01 1036.05,553.01 1053.94,551.49 1024.50,519.00 995.06,551.49" fill="rgba(115,115,115,0.78)"/>
<polygon points="1053.94,551.49 1024.50,519.00 1093.93,569.44" fill="rgba(173,173,173,0.631)"/>
<polygon points="1036.73,575.17 1044.29,598.43 1053.17,582.68" fill="rgba(173,173,173,0.631)"/>
<polygon points="1044.29,598.43 1053.17,582.68 1065.15,590.94 1056.76,616.75 1042.22,616.39" fill="rgba(115,115,115,0.78)"/>
<polygon points="1053.17,582.68 1058.01,568.97 1065.15,590.94" fill="rgba(173,173,173,0.631)"/>
<polygon points="1065.15,590.94 1056.76,616.75 1072.13,607.47" fill="rgba(173,173,173,0.631)"/>
<polygon points="1058.01,568.97 1065.15,590.94 1072.13,607.47 1093.93,569.44 1053.94,551.49" fill="rgba(115,115,115,0.78)"/>
<polygon points="1072.13,607.47 1093.93,569.44 1067.41,651.06" fill="rgba(173,173,173,0.631)"/>
<polygon points="1044.29,598.43 1024.50,612.80 1042.22,616.39" fill="rgba(173,173,173,0.631)"/>
<polygon points="1024.50,612.80 1042.22,616.39 1038.07,630.33 1010.93,630.33 1006.78,616.39" fill="rgba(115,115,115,0.78)"/>
<polygon points="1042.22,616.39 1056.76,616.75 1038.07,630.33" fill="rgba(173,173,173,0.631)"/>
<polygon points="1038.07,630.33 1010.93,630.33 1024.50,642.08" fill="rgba(173,173,173,0.631)"/>
<polygon points="1056.76,616.75 1038.07,630.33 1024.50,642.08 1067.41,651.06 1072.13,607.47" fill="rgba(115,115,115,0.78)"/>
<polygon points="1024.50,642.08 1067.41,651.06 981.59,651.06" fill="rgba(173,173,173,0.631)"/>
<polygon points="1024.50,612.80 1004.71,598.43 1006.78,616.39" fill="rgba(173,173,173,0.631)"/>
<polygon points="1004.71,598.43 1006.78,616.39 992.24,616.75 983.85,590.94 995.83,582.68" fill="rgba(115,115,115,0.78)"/>
<polygon points="1006.78,616.39 1010.93,630.33 992.24,616.75" fill="rgba(173,173,173,0.631)"/>
<polygon points="992.24,616.75 983.85,590.94 976.87,607.47" fill="rgba(173,173,173,0.631)"/>
<polygon points="1010.93,630.33 992.24,616.75 976.87,607.47 981.59,651.06 1024.50,642.08" fill="rgba(115,115,115,0.78)"/>
<polygon points="976.87,607.47 981.59,651.06 955.07,569.44" fill="rgba(173,173,173,0.631)"/>
<polygon points="1004.71,598.43 1012.27,575.17 995.83,582.68" fill="rgba(173,173,173,0.631)"/>
<polygon points="1012.27,575.17 995.83,582.68 990.99,568.97 1012.95,553.01 1024.50,561.85" fill="rgba(115,115,115,0.78)"/>
<polygon points="995.83,582.68 983.85,590.94 990.99,568.97" fill="rgba(173,173,173,0.631)"/>
<polygon points="990.99,568.97 1012.95,553.01 995.06,551.49" fill="rgba(173,173,173,0.631)"/>
<polygon points="983.85,590.94 990.99,568.97 995.06,551.49 955.07,569.44 976.87,607.47" fill="rgba(115,115,115,0.78)"/>
<polygon points="995.06,551.49 955.07,569.44 1024.50,519.00" fill="rgba(173,173,173,0.631)"/>
<circle cx="1024.5" cy="592.0" r="6.8" fill="#6e6e6e"/>
</g>
<g shape-rendering="geometricPrecision">
<line x1="1184.5" y1="592.0" x2="1219.3" y2="544.0" stroke="#000" stroke-width="3.2"/>
<line x1="1184.5" y1="592.0" x2="1240.9" y2="610.3" stroke="#000" stroke-width="3.2"/>
<line x1="1184.5" y1="592.0" x2="1184.5" y2="651.3" stroke="#000" stroke-width="3.2"/>
<line x1="1184.5" y1="592.0" x2="1128.1" y2="610.3" stroke="#000" stroke-width="3.2"/>
<line x1="1184.5" y1="592.0" x2="1149.7" y2="544.0" stroke="#000" stroke-width="3.2"/>
<polygon points="1196.73,575.17 1204.29,598.43 1184.50,612.80 1164.71,598.43 1172.27,575.17" fill="rgba(115,115,115,0.78)"/>
<polygon points="1172.27,575.17 1196.73,575.17 1184.50,561.85" fill="rgba(173,173,173,0.631)"/>
<polygon points="1196.73,575.17 1184.50,561.85 1196.05,553.01 1218.01,568.97 1213.17,582.68" fill="rgba(115,115,115,0.78)"/>
<polygon points="1184.50,561.85 1172.95,553.01 1196.05,553.01" fill="rgba(173,173,173,0.631)"/>
<polygon points="1196.05,553.01 1218.01,568.97 1213.94,551.49" fill="rgba(173,173,173,0.631)"/>
<polygon points="1172.95,553.01 1196.05,553.01 1213.94,551.49 1184.50,519.00 1155.06,551.49" fill="rgba(115,115,115,0.78)"/>
<polygon points="1213.94,551.49 1184.50,519.00 1253.93,569.44" fill="rgba(173,173,173,0.631)"/>
<polygon points="1196.73,575.17 1204.29,598.43 1213.17,582.68" fill="rgba(173,173,173,0.631)"/>
<polygon points="1204.29,598.43 1213.17,582.68 1225.15,590.94 1216.76,616.75 1202.22,616.39" fill="rgba(115,115,115,0.78)"/>
<polygon points="1213.17,582.68 1218.01,568.97 1225.15,590.94" fill="rgba(173,173,173,0.631)"/>
<polygon points="1225.15,590.94 1216.76,616.75 1232.13,607.47" fill="rgba(173,173,173,0.631)"/>
<polygon points="1218.01,568.97 1225.15,590.94 1232.13,607.47 1253.93,569.44 1213.94,551.49" fill="rgba(115,115,115,0.78)"/>
<polygon points="1232.13,607.47 1253.93,569.44 1227.41,651.06" fill="rgba(173,173,173,0.631)"/>
<polygon points="1204.29,598.43 1184.50,612.80 1202.22,616.39" fill="rgba(173,173,173,0.631)"/>
<polygon points="1184.50,612.80 1202.22,616.39 1198.07,630.33 1170.93,630.33 1166.78,616.39" fill="rgba(115,115,115,0.78)"/>
<polygon points="1202.22,616.39 1216.76,616.75 1198.07,630.33" fill="rgba(173,173,173,0.631)"/>
<polygon points="1198.07,630.33 1170.93,630.33 1184.50,642.08" fill="rgba(173,173,173,0.631)"/>
<polygon points="1216.76,616.75 1198.07,630.33 1184.50,642.08 1227.41,651.06 1232.13,607.47" fill="rgba(115,115,115,0.78)"/>
<polygon points="1184.50,642.08 1227.41,651.06 1141.59,651.06" fill="rgba(173,173,173,0.631)"/>
<polygon points="1184.50,612.80 1164.71,598.43 1166.78,616.39" fill="rgba(173,173,173,0.631)"/>
<polygon points="1164.71,598.43 1166.78,616.39 1152.24,616.75 1143.85,590.94 1155.83,582.68" fill="rgba(115,115,115,0.78)"/>
<polygon points="1166.78,616.39 1170.93,630.33 1152.24,616.75" fill="rgba(173,173,173,0.631)"/>
<polygon points="1152.24,616.75 1143.85,590.94 1136.87,607.47" fill="rgba(173,173,173,0.631)"/>
<polygon points="1170.93,630.33 1152.24,616.75 1136.87,607.47 1141.59,651.06 1184.50,642.08" fill="rgba(115,115,115,0.78)"/>
<polygon points="1136.87,607.47 1141.59,651.06 1115.07,569.44" fill="rgba(173,173,173,0.631)"/>
<polygon points="1164.71,598.43 1172.27,575.17 1155.83,582.68" fill="rgba(173,173,173,0.631)"/>
<polygon points="1172.27,575.17 1155.83,582.68 1150.99,568.97 1172.95,553.01 1184.50,561.85" fill="rgba(115,115,115,0.78)"/>
<polygon points="1155.83,582.68 1143.85,590.94 1150.99,568.97" fill="rgba(173,173,173,0.631)"/>
<polygon points="1150.99,568.97 1172.95,553.01 1155.06,551.49" fill="rgba(173,173,173,0.631)"/>
<polygon points="1143.85,590.94 1150.99,568.97 1155.06,551.49 1115.07,569.44 1136.87,607.47" fill="rgba(115,115,115,0.78)"/>
<polygon points="1155.06,551.49 1115.07,569.44 1184.50,519.00" fill="rgba(173,173,173,0.631)"/>
<circle cx="1184.5" cy="592.0" r="6.8" fill="#6e6e6e"/>
</g>
<g shape-rendering="geometricPrecision">
<line x1="1344.5" y1="592.0" x2="1379.3" y2="544.0" stroke="#000" stroke-width="3.2"/>
<line x1="1344.5" y1="592.0" x2="1400.9" y2="610.3" stroke="#000" stroke-width="3.2"/>
<line x1="1344.5" y1="592.0" x2="1344.5" y2="651.3" stroke="#000" stroke-width="3.2"/>
<line x1="1344.5" y1="592.0" x2="1288.1" y2="610.3" stroke="#000" stroke-width="3.2"/>
<line x1="1344.5" y1="592.0" x2="1309.7" y2="544.0" stroke="#000" stroke-width="3.2"/>
<polygon points="1356.73,575.17 1364.29,598.43 1344.50,612.80 1324.71,598.43 1332.27,575.17" fill="rgba(115,115,115,0.78)"/>
<polygon points="1332.27,575.17 1356.73,575.17 1344.50,561.85" fill="rgba(173,173,173,0.631)"/>
<polygon points="1356.73,575.17 1344.50,561.85 1356.05,553.01 1378.01,568.97 1373.17,582.68" fill="rgba(115,115,115,0.78)"/>
<polygon points="1344.50,561.85 1332.95,553.01 1356.05,553.01" fill="rgba(173,173,173,0.631)"/>
<polygon points="1356.05,553.01 1378.01,568.97 1373.94,551.49" fill="rgba(173,173,173,0.631)"/>
<polygon points="1332.95,553.01 1356.05,553.01 1373.94,551.49 1344.50,519.00 1315.06,551.49" fill="rgba(115,115,115,0.78)"/>
<polygon points="1373.94,551.49 1344.50,519.00 1413.93,569.44" fill="rgba(173,173,173,0.631)"/>
<polygon points="1356.73,575.17 1364.29,598.43 1373.17,582.68" fill="rgba(173,173,173,0.631)"/>
<polygon points="1364.29,598.43 1373.17,582.68 1385.15,590.94 1376.76,616.75 1362.22,616.39" fill="rgba(115,115,115,0.78)"/>
<polygon points="1373.17,582.68 1378.01,568.97 1385.15,590.94" fill="rgba(173,173,173,0.631)"/>
<polygon points="1385.15,590.94 1376.76,616.75 1392.13,607.47" fill="rgba(173,173,173,0.631)"/>
<polygon points="1378.01,568.97 1385.15,590.94 1392.13,607.47 1413.93,569.44 1373.94,551.49" fill="rgba(115,115,115,0.78)"/>
<polygon points="1392.13,607.47 1413.93,569.44 1387.41,651.06" fill="rgba(173,173,173,0.631)"/>
<polygon points="1364.29,598.43 1344.50,612.80 1362.22,616.39" fill="rgba(173,173,173,0.631)"/>
<polygon points="1344.50,612.80 1362.22,616.39 1358.07,630.33 1330.93,630.33 1326.78,616.39" fill="rgba(115,115,115,0.78)"/>
<polygon points="1362.22,616.39 1376.76,616.75 1358.07,630.33" fill="rgba(173,173,173,0.631)"/>
<polygon points="1358.07,630.33 1330.93,630.33 1344.50,642.08" fill="rgba(173,173,173,0.631)"/>
<polygon points="1376.76,616.75 1358.07,630.33 1344.50,642.08 1387.41,651.06 1392.13,607.47" fill="rgba(115,115,115,0.78)"/>
<polygon points="1344.50,642.08 1387.41,651.06 1301.59,651.06" fill="rgba(173,173,173,0.631)"/>
<polygon points="1344.50,612.80 1324.71,598.43 1326.78,616.39" fill="rgba(173,173,173,0.631)"/>
<polygon points="1324.71,598.43 1326.78,616.39 1312.24,616.75 1303.85,590.94 1315.83,582.68" fill="rgba(115,115,115,0.78)"/>
<polygon points="1326.78,616.39 1330.93,630.33 1312.24,616.75" fill="rgba(173,173,173,0.631)"/>
<polygon points="1312.24,616.75 1303.85,590.94 1296.87,607.47" fill="rgba(173,173,173,0.631)"/>
<polygon points="1330.93,630.33 1312.24,616.75 1296.87,607.47 1301.59,651.06 1344.50,642.08" fill="rgba(115,115,115,0.78)"/>
<polygon points="1296.87,607.47 1301.59,651.06 1275.07,569.44" fill="rgba(173,173,173,0.631)"/>
<polygon points="1324.71,598.43 1332.27,575.17 1315.83,582.68" fill="rgba(173,173,173,0.631)"/>
<polygon points="1332.27,575.17 1315.83,582.68 1310.99,568.97 1332.95,553.01 1344.50,561.85" fill="rgba(115,115,115,0.78)"/>
<polygon points="1315.83,582.68 1303.85,590.94 1310.99,568.97" fill="rgba(173,173,173,0.631)"/>
<polygon points="1310.99,568.97 1332.95,553.01 1315.06,551.49" fill="rgba(173,173,173,0.631)"/>
<polygon points="1303.85,590.94 1310.99,568.97 1315.06,551.49 1275.07,569.44 1296.87,607.47" fill="rgba(115,115,115,0.78)"/>
<polygon points="1315.06,551.49 1275.07,569.44 1344.50,519.00" fill="rgba(173,173,173,0.631)"/>
<circle cx="1344.5" cy="592.0" r="6.8" fill="#6e6e6e"/>
</g>
<path d="M775.7,585 H792.3 M784,576.7 V593.3" stroke="#000" stroke-width="2.8" fill="none"/>
<path d="M936.2,585 H952.8 M944.5,576.7 V593.3" stroke="#000" stroke-width="2.8" fill="none"/>
<path d="M1095.7,585 H1112.3 M1104,576.7 V593.3" stroke="#000" stroke-width="2.8" fill="none"/>
<path d="M1255.7,585 H1272.3 M1264,576.7 V593.3" stroke="#000" stroke-width="2.8" fill="none"/>
<g shape-rendering="geometricPrecision">
<line x1="704.0" y1="790.0" x2="738.8" y2="742.0" stroke="#000" stroke-width="3.2"/>
<line x1="704.0" y1="790.0" x2="760.4" y2="808.3" stroke="#000" stroke-width="3.2"/>
<line x1="704.0" y1="790.0" x2="704.0" y2="849.3" stroke="#000" stroke-width="3.2"/>
<line x1="704.0" y1="790.0" x2="647.6" y2="808.3" stroke="#000" stroke-width="3.2"/>
<line x1="704.0" y1="790.0" x2="669.2" y2="742.0" stroke="#000" stroke-width="3.2"/>
<polygon points="716.23,773.17 723.79,796.43 704.00,810.80 684.21,796.43 691.77,773.17" fill="rgba(115,115,115,0.78)"/>
<polygon points="691.77,773.17 716.23,773.17 704.00,759.85" fill="rgba(173,173,173,0.631)"/>
<polygon points="716.23,773.17 704.00,759.85 715.55,751.01 737.51,766.97 732.67,780.68" fill="rgba(115,115,115,0.78)"/>
<polygon points="704.00,759.85 692.45,751.01 715.55,751.01" fill="rgba(173,173,173,0.631)"/>
<polygon points="715.55,751.01 737.51,766.97 733.44,749.49" fill="rgba(173,173,173,0.631)"/>
<polygon points="692.45,751.01 715.55,751.01 733.44,749.49 704.00,717.00 674.56,749.49" fill="rgba(115,115,115,0.78)"/>
<polygon points="733.44,749.49 704.00,717.00 773.43,767.44" fill="rgba(173,173,173,0.631)"/>
<polygon points="716.23,773.17 723.79,796.43 732.67,780.68" fill="rgba(173,173,173,0.631)"/>
<polygon points="723.79,796.43 732.67,780.68 744.65,788.94 736.26,814.75 721.72,814.39" fill="rgba(115,115,115,0.78)"/>
<polygon points="732.67,780.68 737.51,766.97 744.65,788.94" fill="rgba(173,173,173,0.631)"/>
<polygon points="744.65,788.94 736.26,814.75 751.63,805.47" fill="rgba(173,173,173,0.631)"/>
<polygon points="737.51,766.97 744.65,788.94 751.63,805.47 773.43,767.44 733.44,749.49" fill="rgba(115,115,115,0.78)"/>
<polygon points="751.63,805.47 773.43,767.44 746.91,849.06" fill="rgba(173,173,173,0.631)"/>
<polygon points="723.79,796.43 704.00,810.80 721.72,814.39" fill="rgba(173,173,173,0.631)"/>
<polygon points="704.00,810.80 721.72,814.39 717.57,828.33 690.43,828.33 686.28,814.39" fill="rgba(115,115,115,0.78)"/>
<polygon points="721.72,814.39 736.26,814.75 717.57,828.33" fill="rgba(173,173,173,0.631)"/>
<polygon points="717.57,828.33 690.43,828.33 704.00,840.08" fill="rgba(173,173,173,0.631)"/>
<polygon points="736.26,814.75 717.57,828.33 704.00,840.08 746.91,849.06 751.63,805.47" fill="rgba(115,115,115,0.78)"/>
<polygon points="704.00,840.08 746.91,849.06 661.09,849.06" fill="rgba(173,173,173,0.631)"/>
<polygon points="704.00,810.80 684.21,796.43 686.28,814.39" fill="rgba(173,173,173,0.631)"/>
<polygon points="684.21,796.43 686.28,814.39 671.74,814.75 663.35,788.94 675.33,780.68" fill="rgba(115,115,115,0.78)"/>
<polygon points="686.28,814.39 690.43,828.33 671.74,814.75" fill="rgba(173,173,173,0.631)"/>
<polygon points="671.74,814.75 663.35,788.94 656.37,805.47" fill="rgba(173,173,173,0.631)"/>
<polygon points="690.43,828.33 671.74,814.75 656.37,805.47 661.09,849.06 704.00,840.08" fill="rgba(115,115,115,0.78)"/>
<polygon points="656.37,805.47 661.09,849.06 634.57,767.44" fill="rgba(173,173,173,0.631)"/>
<polygon points="684.21,796.43 691.77,773.17 675.33,780.68" fill="rgba(173,173,173,0.631)"/>
<polygon points="691.77,773.17 675.33,780.68 670.49,766.97 692.45,751.01 704.00,759.85" fill="rgba(115,115,115,0.78)"/>
<polygon points="675.33,780.68 663.35,788.94 670.49,766.97" fill="rgba(173,173,173,0.631)"/>
<polygon points="670.49,766.97 692.45,751.01 674.56,749.49" fill="rgba(173,173,173,0.631)"/>
<polygon points="663.35,788.94 670.49,766.97 674.56,749.49 634.57,767.44 656.37,805.47" fill="rgba(115,115,115,0.78)"/>
<polygon points="674.56,749.49 634.57,767.44 704.00,717.00" fill="rgba(173,173,173,0.631)"/>
<circle cx="704.0" cy="790.0" r="6.8" fill="#6e6e6e"/>
</g>
<g shape-rendering="geometricPrecision">
<line x1="864.5" y1="790.0" x2="899.3" y2="742.0" stroke="#000" stroke-width="3.2"/>
<line x1="864.5" y1="790.0" x2="920.9" y2="808.3" stroke="#000" stroke-width="3.2"/>
<line x1="864.5" y1="790.0" x2="864.5" y2="849.3" stroke="#000" stroke-width="3.2"/>
<line x1="864.5" y1="790.0" x2="808.1" y2="808.3" stroke="#000" stroke-width="3.2"/>
<line x1="864.5" y1="790.0" x2="829.7" y2="742.0" stroke="#000" stroke-width="3.2"/>
<polygon points="876.73,773.17 884.29,796.43 864.50,810.80 844.71,796.43 852.27,773.17" fill="rgba(115,115,115,0.78)"/>
<polygon points="852.27,773.17 876.73,773.17 864.50,759.85" fill="rgba(173,173,173,0.631)"/>
<polygon points="876.73,773.17 864.50,759.85 876.05,751.01 898.01,766.97 893.17,780.68" fill="rgba(115,115,115,0.78)"/>
<polygon points="864.50,759.85 852.95,751.01 876.05,751.01" fill="rgba(173,173,173,0.631)"/>
<polygon points="852.95,751.01 876.05,751.01 893.94,749.49 864.50,717.00 835.06,749.49" fill="rgba(115,115,115,0.78)"/>
<polygon points="893.94,749.49 864.50,717.00 933.93,767.44" fill="rgba(173,173,173,0.631)"/>
<polygon points="884.29,796.43 893.17,780.68 905.15,788.94 896.76,814.75 882.22,814.39" fill="rgba(115,115,115,0.78)"/>
<polygon points="893.17,780.68 898.01,766.97 905.15,788.94" fill="rgba(173,173,173,0.631)"/>
<polygon points="898.01,766.97 905.15,788.94 912.13,805.47 933.93,767.44 893.94,749.49" fill="rgba(115,115,115,0.78)"/>
<polygon points="912.13,805.47 933.93,767.44 907.41,849.06" fill="rgba(173,173,173,0.631)"/>
<polygon points="884.29,796.43 864.50,810.80 882.22,814.39" fill="rgba(173,173,173,0.631)"/>
<polygon points="864.50,810.80 882.22,814.39 878.07,828.33 850.93,828.33 846.78,814.39" fill="rgba(115,115,115,0.78)"/>
<polygon points="882.22,814.39 896.76,814.75 878.07,828.33" fill="rgba(173,173,173,0.631)"/>
<polygon points="896.76,814.75 878.07,828.33 864.50,840.08 907.41,849.06 912.13,805.47" fill="rgba(115,115,115,0.78)"/>
<polygon points="864.50,840.08 907.41,849.06 821.59,849.06" fill="rgba(173,173,173,0.631)"/>
<polygon points="864.50,810.80 844.71,796.43 846.78,814.39" fill="rgba(173,173,173,0.631)"/>
<polygon points="844.71,796.43 846.78,814.39 832.24,814.75 823.85,788.94 835.83,780.68" fill="rgba(115,115,115,0.78)"/>
<polygon points="846.78,814.39 850.93,828.33 832.24,814.75" fill="rgba(173,173,173,0.631)"/>
<polygon points="850.93,828.33 832.24,814.75 816.87,805.47 821.59,849.06 864.50,840.08" fill="rgba(115,115,115,0.78)"/>
<polygon points="816.87,805.47 821.59,849.06 795.07,767.44" fill="rgba(173,173,173,0.631)"/>
<polygon points="852.27,773.17 835.83,780.68 830.99,766.97 852.95,751.01 864.50,759.85" fill="rgba(115,115,115,0.78)"/>
<polygon points="835.83,780.68 823.85,788.94 830.99,766.97" fill="rgba(173,173,173,0.631)"/>
<polygon points="823.85,788.94 830.99,766.97 835.06,749.49 795.07,767.44 816.87,805.47" fill="rgba(115,115,115,0.78)"/>
<polygon points="835.06,749.49 795.07,767.44 864.50,717.00" fill="rgba(173,173,173,0.631)"/>
<circle cx="864.5" cy="790.0" r="6.8" fill="#6e6e6e"/>
</g>
<g shape-rendering="geometricPrecision">
<polygon points="1012.27,773.17 1036.73,773.17 1024.50,759.85" fill="rgba(173,173,173,0.631)"/>
<polygon points="1036.73,773.17 1024.50,759.85 1036.05,751.01 1058.01,766.97 1053.17,780.68" fill="rgba(115,115,115,0.78)"/>
<polygon points="1024.50,759.85 1012.95,751.01 1036.05,751.01" fill="rgba(173,173,173,0.631)"/>
<polygon points="1036.05,751.01 1058.01,766.97 1053.94,749.49" fill="rgba(173,173,173,0.631)"/>
<polygon points="1012.95,751.01 1036.05,751.01 1053.94,749.49 1024.50,717.00 995.06,749.49" fill="rgba(115,115,115,0.78)"/>
<polygon points="1053.94,749.49 1024.50,717.00 1093.93,767.44" fill="rgba(173,173,173,0.631)"/>
<polygon points="1036.73,773.17 1044.29,796.43 1053.17,780.68" fill="rgba(173,173,173,0.631)"/>
<polygon points="1044.29,796.43 1053.17,780.68 1065.15,788.94 1056.76,814.75 1042.22,814.39" fill="rgba(115,115,115,0.78)"/>
<polygon points="1053.17,780.68 1058.01,766.97 1065.15,788.94" fill="rgba(173,173,173,0.631)"/>
<polygon points="1065.15,788.94 1056.76,814.75 1072.13,805.47" fill="rgba(173,173,173,0.631)"/>
<polygon points="1058.01,766.97 1065.15,788.94 1072.13,805.47 1093.93,767.44 1053.94,749.49" fill="rgba(115,115,115,0.78)"/>
<polygon points="1072.13,805.47 1093.93,767.44 1067.41,849.06" fill="rgba(173,173,173,0.631)"/>
<polygon points="1044.29,796.43 1024.50,810.80 1042.22,814.39" fill="rgba(173,173,173,0.631)"/>
<polygon points="1024.50,810.80 1042.22,814.39 1038.07,828.33 1010.93,828.33 1006.78,814.39" fill="rgba(115,115,115,0.78)"/>
<polygon points="1042.22,814.39 1056.76,814.75 1038.07,828.33" fill="rgba(173,173,173,0.631)"/>
<polygon points="1038.07,828.33 1010.93,828.33 1024.50,840.08" fill="rgba(173,173,173,0.631)"/>
<polygon points="1056.76,814.75 1038.07,828.33 1024.50,840.08 1067.41,849.06 1072.13,805.47" fill="rgba(115,115,115,0.78)"/>
<polygon points="1024.50,840.08 1067.41,849.06 981.59,849.06" fill="rgba(173,173,173,0.631)"/>
<polygon points="1024.50,810.80 1004.71,796.43 1006.78,814.39" fill="rgba(173,173,173,0.631)"/>
<polygon points="1004.71,796.43 1006.78,814.39 992.24,814.75 983.85,788.94 995.83,780.68" fill="rgba(115,115,115,0.78)"/>
<polygon points="1006.78,814.39 1010.93,828.33 992.24,814.75" fill="rgba(173,173,173,0.631)"/>
<polygon points="992.24,814.75 983.85,788.94 976.87,805.47" fill="rgba(173,173,173,0.631)"/>
<polygon points="1010.93,828.33 992.24,814.75 976.87,805.47 981.59,849.06 1024.50,840.08" fill="rgba(115,115,115,0.78)"/>
<polygon points="976.87,805.47 981.59,849.06 955.07,767.44" fill="rgba(173,173,173,0.631)"/>
<polygon points="1004.71,796.43 1012.27,773.17 995.83,780.68" fill="rgba(173,173,173,0.631)"/>
<polygon points="1012.27,773.17 995.83,780.68 990.99,766.97 1012.95,751.01 1024.50,759.85" fill="rgba(115,115,115,0.78)"/>
<polygon points="995.83,780.68 983.85,788.94 990.99,766.97" fill="rgba(173,173,173,0.631)"/>
<polygon points="990.99,766.97 1012.95,751.01 995.06,749.49" fill="rgba(173,173,173,0.631)"/>
<polygon points="983.85,788.94 990.99,766.97 995.06,749.49 955.07,767.44 976.87,805.47" fill="rgba(115,115,115,0.78)"/>
<polygon points="995.06,749.49 955.07,767.44 1024.50,717.00" fill="rgba(173,173,173,0.631)"/>
</g>
<g shape-rendering="geometricPrecision">
<line x1="1184.5" y1="790.0" x2="1219.3" y2="742.0" stroke="#000" stroke-width="3.2"/>
<line x1="1184.5" y1="790.0" x2="1240.9" y2="808.3" stroke="#000" stroke-width="3.2"/>
<line x1="1184.5" y1="790.0" x2="1184.5" y2="849.3" stroke="#000" stroke-width="3.2"/>
<line x1="1184.5" y1="790.0" x2="1128.1" y2="808.3" stroke="#000" stroke-width="3.2"/>
<line x1="1184.5" y1="790.0" x2="1149.7" y2="742.0" stroke="#000" stroke-width="3.2"/>
<polygon points="1196.73,773.17 1204.29,796.43 1184.50,810.80 1164.71,796.43 1172.27,773.17" fill="rgba(115,115,115,0.78)"/>
<polygon points="1172.95,751.01 1196.05,751.01 1213.94,749.49 1184.50,717.00 1155.06,749.49" fill="rgba(115,115,115,0.78)"/>
<polygon points="1213.94,749.49 1184.50,717.00 1253.93,767.44" fill="rgba(173,173,173,0.631)"/>
<polygon points="1204.29,796.43 1213.17,780.68 1225.15,788.94 1216.76,814.75 1202.22,814.39" fill="rgba(115,115,115,0.78)"/>
<polygon points="1225.15,788.94 1216.76,814.75 1232.13,805.47" fill="rgba(173,173,173,0.631)"/>
<polygon points="1218.01,766.97 1225.15,788.94 1232.13,805.47 1253.93,767.44 1213.94,749.49" fill="rgba(115,115,115,0.78)"/>
<polygon points="1232.13,805.47 1253.93,767.44 1227.41,849.06" fill="rgba(173,173,173,0.631)"/>
<polygon points="1204.29,796.43 1184.50,810.80 1202.22,814.39" fill="rgba(173,173,173,0.631)"/>
<polygon points="1184.50,810.80 1202.22,814.39 1198.07,828.33 1170.93,828.33 1166.78,814.39" fill="rgba(115,115,115,0.78)"/>
<polygon points="1202.22,814.39 1216.76,814.75 1198.07,828.33" fill="rgba(173,173,173,0.631)"/>
<polygon points="1198.07,828.33 1170.93,828.33 1184.50,840.08" fill="rgba(173,173,173,0.631)"/>
<polygon points="1216.76,814.75 1198.07,828.33 1184.50,840.08 1227.41,849.06 1232.13,805.47" fill="rgba(115,115,115,0.78)"/>
<polygon points="1184.50,840.08 1227.41,849.06 1141.59,849.06" fill="rgba(173,173,173,0.631)"/>
<polygon points="1184.50,810.80 1164.71,796.43 1166.78,814.39" fill="rgba(173,173,173,0.631)"/>
<polygon points="1164.71,796.43 1166.78,814.39 1152.24,814.75 1143.85,788.94 1155.83,780.68" fill="rgba(115,115,115,0.78)"/>
<polygon points="1166.78,814.39 1170.93,828.33 1152.24,814.75" fill="rgba(173,173,173,0.631)"/>
<polygon points="1152.24,814.75 1143.85,788.94 1136.87,805.47" fill="rgba(173,173,173,0.631)"/>
<polygon points="1170.93,828.33 1152.24,814.75 1136.87,805.47 1141.59,849.06 1184.50,840.08" fill="rgba(115,115,115,0.78)"/>
<polygon points="1136.87,805.47 1141.59,849.06 1115.07,767.44" fill="rgba(173,173,173,0.631)"/>
<polygon points="1164.71,796.43 1172.27,773.17 1155.83,780.68" fill="rgba(173,173,173,0.631)"/>
<polygon points="1172.27,773.17 1155.83,780.68 1150.99,766.97 1172.95,751.01 1184.50,759.85" fill="rgba(115,115,115,0.78)"/>
<polygon points="1155.83,780.68 1143.85,788.94 1150.99,766.97" fill="rgba(173,173,173,0.631)"/>
<polygon points="1150.99,766.97 1172.95,751.01 1155.06,749.49" fill="rgba(173,173,173,0.631)"/>
<polygon points="1143.85,788.94 1150.99,766.97 1155.06,749.49 1115.07,767.44 1136.87,805.47" fill="rgba(115,115,115,0.78)"/>
<polygon points="1155.06,749.49 1115.07,767.44 1184.50,717.00" fill="rgba(173,173,173,0.631)"/>
<circle cx="1184.5" cy="790.0" r="6.8" fill="#6e6e6e"/>
</g>
<path d="M775.7,782.7 H792.3 M784,774.4 V791" stroke="#000" stroke-width="2.8" fill="none"/>
<path d="M936.2,782.7 H952.8 M944.5,774.4 V791" stroke="#000" stroke-width="2.8" fill="none"/>
<path d="M1095.7,782.7 H1112.3 M1104,774.4 V791" stroke="#000" stroke-width="2.8" fill="none"/>
<path d="M1255.7,782.7 H1272.3 M1264,774.4 V791" stroke="#000" stroke-width="2.8" fill="none"/>
<rect x="1306.0" y="776.5" width="10.0" height="10.0" fill="#000" />
<rect x="1339.0" y="776.5" width="10.0" height="10.0" fill="#000" />
<rect x="1371.6" y="776.5" width="10.0" height="10.0" fill="#000" />
<text x="0" y="944.5" font-size="32" font-weight="bold" stroke="#000" stroke-width="1.7" stroke-linejoin="round" transform="translate(0,0) scale(1.18,1) translate(0,0)">d</text>
<text x="77" y="957.4" font-size="35.3">[T]<tspan font-size="28.2" dy="6.3">0</tspan><tspan dy="-6.3" font-size="35.3">&#8203;</tspan>:[P]<tspan font-size="28.2" dy="6.3">0</tspan><tspan dy="-6.3" font-size="35.3">&#8203;</tspan></text>
<rect x="272.0" y="931.0" width="48.7" height="5.2" fill="#1e8a1e" />
<rect x="513.7" y="931.0" width="144.7" height="5.2" fill="#fdb22c" />
<path d="M218.9,1002.2 L218.9,1002.2 L220.4,1002.0 L222.0,1001.8 L223.6,1001.6 L225.1,1001.3 L226.7,1001.0 L228.3,1000.7 L229.9,1000.3 L231.4,999.8 L233.0,999.3 L234.6,998.8 L236.1,998.1 L237.7,997.4 L239.3,996.7 L240.8,995.8 L242.4,994.9 L244.0,993.9 L245.6,992.8 L247.1,991.6 L248.7,990.3 L250.3,989.0 L251.8,987.5 L253.4,986.0 L255.0,984.3 L256.6,982.6 L258.1,980.8 L259.7,979.0 L261.3,977.1 L262.8,975.1 L264.4,973.1 L266.0,971.1 L267.6,969.0 L269.1,967.0 L270.7,965.0 L272.3,963.0 L273.8,961.1 L275.4,959.2 L277.0,957.4 L278.6,955.7 L280.1,954.2 L281.7,952.7 L283.3,951.4 L284.8,950.3 L286.4,949.3 L288.0,948.6 L289.5,948.0 L291.1,947.6 L292.7,947.4 L294.3,947.4 L295.8,947.4 L297.4,947.5 L299.0,947.7 L300.5,947.9 L302.1,948.2 L303.7,948.5 L305.3,948.9 L306.8,949.3 L308.4,949.7 L310.0,950.3 L311.5,950.8 L313.1,951.4 L314.7,952.1 L316.3,952.8 L317.8,953.5 L319.4,954.2 L321.0,955.0 L322.5,955.9 L324.1,956.7 L325.7,957.6 L327.3,958.5 L328.8,959.5 L330.4,960.4 L332.0,961.4 L333.5,962.4 L335.1,963.4 L336.7,964.4 L338.2,965.4 L339.8,966.4 L341.4,967.5 L343.0,968.5 L344.5,969.6 L346.1,970.6 L347.7,971.6 L349.2,972.6 L350.8,973.7 L352.4,974.7 L354.0,975.7 L355.5,976.6 L357.1,977.6 L358.7,978.6 L360.2,979.5 L361.8,980.4 L363.4,981.3 L365.0,982.2 L366.5,983.1 L368.1,983.9 L369.7,984.7 L371.2,985.5 L372.8,986.3 L374.4,987.0 L376.0,987.7 L377.5,988.4 L379.1,989.1 L380.7,989.8 L382.2,990.4 L383.8,991.0 L385.4,991.6 L387.0,992.1 L388.5,992.6 L390.1,993.1 L391.7,993.6 L393.2,994.1 L394.8,994.5 L396.4,994.9 L397.9,995.3 L399.5,995.7 L401.1,996.0 L402.7,996.4 L404.2,996.7 L405.8,997.0 L407.4,997.3 L408.9,997.5 L410.5,997.8 L412.1,998.0 L413.7,998.2 L415.2,998.4 L416.8,998.6 L418.4,998.8 L419.9,999.0 L421.5,999.1 L423.1,999.3 L424.7,999.4 L426.2,999.5 L427.8,999.7 L429.4,999.8 L430.9,999.9 L432.5,1000.0 L434.1,1000.1 L435.7,1000.1 L437.2,1000.2 L438.8,1000.3 L440.4,1000.4 L441.9,1000.4 L443.5,1000.5 L445.1,1000.5 L445.1,1000.5 Z" fill="#1e8a1e"/>
<path d="M514.2,998.3 L514.2,998.3 L515.8,997.6 L517.3,996.8 L518.9,995.8 L520.5,994.6 L522.1,993.3 L523.6,991.7 L525.2,990.0 L526.8,988.2 L528.3,986.1 L529.9,983.8 L531.5,981.5 L533.1,978.9 L534.6,976.3 L536.2,973.6 L537.8,970.9 L539.3,968.1 L540.9,965.5 L542.5,963.0 L544.1,960.6 L545.6,958.5 L547.2,956.7 L548.8,955.1 L550.3,954.0 L551.9,953.2 L553.5,952.8 L555.0,952.8 L556.6,952.9 L558.2,953.1 L559.8,953.4 L561.3,953.8 L562.9,954.2 L564.5,954.8 L566.0,955.4 L567.6,956.1 L569.2,956.9 L570.8,957.8 L572.3,958.7 L573.9,959.7 L575.5,960.7 L577.0,961.8 L578.6,962.9 L580.2,964.1 L581.8,965.3 L583.3,966.5 L584.9,967.8 L586.5,969.1 L588.0,970.3 L589.6,971.6 L591.2,972.9 L592.8,974.2 L594.3,975.5 L595.9,976.7 L597.5,978.0 L599.0,979.2 L600.6,980.4 L602.2,981.5 L603.7,982.7 L605.3,983.8 L606.9,984.8 L608.5,985.9 L610.0,986.8 L611.6,987.8 L613.2,988.7 L614.7,989.5 L616.3,990.4 L617.9,991.1 L619.5,991.9 L621.0,992.5 L622.6,993.2 L624.2,993.8 L625.7,994.3 L627.3,994.9 L628.9,995.3 L630.5,995.8 L632.0,996.2 L633.6,996.6 L635.2,996.9 L636.7,997.2 L638.3,997.5 L639.9,997.7 L641.5,998.0 L643.0,998.2 L644.6,998.4 L646.2,998.5 L647.7,998.7 L649.3,998.8 L650.9,998.9 L652.5,999.0 L654.0,999.0 L655.6,999.1 L657.2,999.2 L658.7,999.2 L660.3,999.2 L661.9,999.3 L663.4,999.3 L665.0,999.3 L666.6,999.3 L668.2,999.3 L669.7,999.4 L671.3,999.4 L671.3,999.4 Z" fill="#fdb22c"/>
<path d="M102.6,1003.4 L104.2,1003.4 L105.7,1003.4 L107.3,1003.4 L108.9,1003.4 L110.5,1003.4 L112.0,1003.4 L113.6,1003.4 L115.2,1003.4 L116.7,1003.4 L118.3,1003.4 L119.9,1003.4 L121.5,1003.4 L123.0,1003.4 L124.6,1003.3 L126.2,1003.3 L127.7,1003.3 L129.3,1003.3 L130.9,1003.3 L132.4,1003.3 L134.0,1003.3 L135.6,1003.3 L137.2,1003.3 L138.7,1003.3 L140.3,1003.3 L141.9,1003.3 L143.4,1003.3 L145.0,1003.3 L146.6,1003.3 L148.2,1003.3 L149.7,1003.3 L151.3,1003.3 L152.9,1003.3 L154.4,1003.3 L156.0,1003.3 L157.6,1003.3 L159.2,1003.3 L160.7,1003.3 L162.3,1003.3 L163.9,1003.3 L165.4,1003.3 L167.0,1003.2 L168.6,1003.2 L170.2,1003.2 L171.7,1003.2 L173.3,1003.2 L174.9,1003.2 L176.4,1003.2 L178.0,1003.2 L179.6,1003.2 L181.1,1003.2 L182.7,1003.2 L184.3,1003.2 L185.9,1003.2 L187.4,1003.2 L189.0,1003.2 L190.6,1003.2 L192.1,1003.2 L193.7,1003.1 L195.3,1003.1 L196.9,1003.1 L198.4,1003.1 L200.0,1003.1 L201.6,1003.1 L203.1,1003.0 L204.7,1003.0 L206.3,1002.9 L207.9,1002.9 L209.4,1002.8 L211.0,1002.8 L212.6,1002.7 L214.1,1002.6 L215.7,1002.5 L217.3,1002.4 L218.9,1002.2 L220.4,1002.0 L222.0,1001.8 L223.6,1001.6 L225.1,1001.3 L226.7,1001.0 L228.3,1000.7 L229.9,1000.3 L231.4,999.8 L233.0,999.3 L234.6,998.8 L236.1,998.1 L237.7,997.4 L239.3,996.7 L240.8,995.8 L242.4,994.9 L244.0,993.9 L245.6,992.8 L247.1,991.6 L248.7,990.3 L250.3,989.0 L251.8,987.5 L253.4,986.0 L255.0,984.3 L256.6,982.6 L258.1,980.8 L259.7,979.0 L261.3,977.1 L262.8,975.1 L264.4,973.1 L266.0,971.1 L267.6,969.0 L269.1,967.0 L270.7,965.0 L272.3,963.0 L273.8,961.1 L275.4,959.2 L277.0,957.4 L278.6,955.7 L280.1,954.2 L281.7,952.7 L283.3,951.4 L284.8,950.3 L286.4,949.3 L288.0,948.6 L289.5,948.0 L291.1,947.6 L292.7,947.4 L294.3,947.4 L295.8,947.4 L297.4,947.5 L299.0,947.7 L300.5,947.9 L302.1,948.2 L303.7,948.5 L305.3,948.9 L306.8,949.3 L308.4,949.7 L310.0,950.3 L311.5,950.8 L313.1,951.4 L314.7,952.1 L316.3,952.8 L317.8,953.5 L319.4,954.2 L321.0,955.0 L322.5,955.9 L324.1,956.7 L325.7,957.6 L327.3,958.5 L328.8,959.5 L330.4,960.4 L332.0,961.4 L333.5,962.4 L335.1,963.4 L336.7,964.4 L338.2,965.4 L339.8,966.4 L341.4,967.5 L343.0,968.5 L344.5,969.6 L346.1,970.6 L347.7,971.6 L349.2,972.6 L350.8,973.7 L352.4,974.7 L354.0,975.7 L355.5,976.6 L357.1,977.6 L358.7,978.6 L360.2,979.5 L361.8,980.4 L363.4,981.3 L365.0,982.2 L366.5,983.1 L368.1,983.9 L369.7,984.7 L371.2,985.5 L372.8,986.3 L374.4,987.0 L376.0,987.7 L377.5,988.4 L379.1,989.1 L380.7,989.8 L382.2,990.4 L383.8,991.0 L385.4,991.6 L387.0,992.1 L388.5,992.6 L390.1,993.1 L391.7,993.6 L393.2,994.1 L394.8,994.5 L396.4,994.9 L397.9,995.3 L399.5,995.7 L401.1,996.0 L402.7,996.4 L404.2,996.7 L405.8,997.0 L407.4,997.3 L408.9,997.5 L410.5,997.8 L412.1,998.0 L413.7,998.2 L415.2,998.4 L416.8,998.6 L418.4,998.8 L419.9,999.0 L421.5,999.1 L423.1,999.3 L424.7,999.4 L426.2,999.5 L427.8,999.7 L429.4,999.8 L430.9,999.9 L432.5,1000.0 L434.1,1000.1 L435.7,1000.1 L437.2,1000.2 L438.8,1000.3 L440.4,1000.4 L441.9,1000.4 L443.5,1000.5 L445.1,1000.5 L446.6,1000.6 L448.2,1000.6 L449.8,1000.7 L451.4,1000.7 L452.9,1000.7 L454.5,1000.8 L456.1,1000.8 L457.6,1000.8 L459.2,1000.9 L460.8,1000.9 L462.4,1000.9 L463.9,1000.9 L465.5,1001.0 L467.1,1001.0 L468.6,1001.0 L470.2,1001.0 L471.8,1001.0 L473.4,1001.1 L474.9,1001.1 L476.5,1001.1 L478.1,1001.1 L479.6,1001.1 L481.2,1001.1 L482.8,1001.1 L484.4,1001.2 L485.9,1001.2 L487.5,1001.2 L489.1,1001.2 L490.6,1001.2 L492.2,1001.2 L493.8,1001.2 L495.4,1001.1 L496.9,1001.1 L498.5,1001.1 L500.1,1001.0 L501.6,1000.9 L503.2,1000.8 L504.8,1000.6 L506.3,1000.4 L507.9,1000.2 L509.5,999.8 L511.1,999.4 L512.6,998.9 L514.2,998.3 L515.8,997.6 L517.3,996.8 L518.9,995.8 L520.5,994.6 L522.1,993.3 L523.6,991.7 L525.2,990.0 L526.8,988.2 L528.3,986.1 L529.9,983.8 L531.5,981.5 L533.1,978.9 L534.6,976.3 L536.2,973.6 L537.8,970.9 L539.3,968.1 L540.9,965.5 L542.5,963.0 L544.1,960.6 L545.6,958.5 L547.2,956.7 L548.8,955.1 L550.3,954.0 L551.9,953.2 L553.5,952.8 L555.0,952.8 L556.6,952.9 L558.2,953.1 L559.8,953.4 L561.3,953.8 L562.9,954.2 L564.5,954.8 L566.0,955.4 L567.6,956.1 L569.2,956.9 L570.8,957.8 L572.3,958.7 L573.9,959.7 L575.5,960.7 L577.0,961.8 L578.6,962.9 L580.2,964.1 L581.8,965.3 L583.3,966.5 L584.9,967.8 L586.5,969.1 L588.0,970.3 L589.6,971.6 L591.2,972.9 L592.8,974.2 L594.3,975.5 L595.9,976.7 L597.5,978.0 L599.0,979.2 L600.6,980.4 L602.2,981.5 L603.7,982.7 L605.3,983.8 L606.9,984.8 L608.5,985.9 L610.0,986.8 L611.6,987.8 L613.2,988.7 L614.7,989.5 L616.3,990.4 L617.9,991.1 L619.5,991.9 L621.0,992.5 L622.6,993.2 L624.2,993.8 L625.7,994.3 L627.3,994.9 L628.9,995.3 L630.5,995.8 L632.0,996.2 L633.6,996.6 L635.2,996.9 L636.7,997.2 L638.3,997.5 L639.9,997.7 L641.5,998.0 L643.0,998.2 L644.6,998.4 L646.2,998.5 L647.7,998.7 L649.3,998.8 L650.9,998.9 L652.5,999.0 L654.0,999.0 L655.6,999.1 L657.2,999.2 L658.7,999.2 L660.3,999.2 L661.9,999.3 L663.4,999.3 L665.0,999.3 L666.6,999.3 L668.2,999.3 L669.7,999.4 L671.3,999.4 L672.9,999.4 L674.4,999.4 L676.0,999.4 L677.6,999.4 L679.2,999.4 L680.7,999.4 L682.3,999.4 L683.9,999.4 L685.4,999.4 L687.0,999.4 L688.6,999.5 L690.2,999.5 L691.7,999.5 L693.3,999.5 L694.9,999.5 L696.4,999.5 L698.0,999.5 L699.6,999.5 L701.2,999.5 L702.7,999.5 L704.3,999.5 L705.9,999.5 L707.4,999.5 L709.0,999.5 L710.6,999.5 L712.1,999.6 L713.7,999.6 L715.3,999.6 L716.9,999.6 L718.4,999.6 L720.0,999.6 L721.6,999.6 L723.1,999.6 L724.7,999.6 L726.3,999.6 L727.9,999.7 L729.4,999.7 L731.0,999.7" fill="none" stroke="#000" stroke-width="2.4" stroke-linejoin="round"/>
<text x="117.0" y="996.0" font-size="35.3" fill="#000" >2:1</text>
<path d="M218.9,1093.1 L218.9,1093.1 L220.4,1093.0 L222.0,1092.8 L223.6,1092.6 L225.1,1092.4 L226.7,1092.1 L228.3,1091.8 L229.9,1091.4 L231.4,1091.0 L233.0,1090.6 L234.6,1090.1 L236.1,1089.6 L237.7,1089.0 L239.3,1088.3 L240.8,1087.5 L242.4,1086.7 L244.0,1085.8 L245.6,1084.9 L247.1,1083.8 L248.7,1082.7 L250.3,1081.5 L251.8,1080.3 L253.4,1078.9 L255.0,1077.5 L256.6,1076.0 L258.1,1074.4 L259.7,1072.8 L261.3,1071.1 L262.8,1069.4 L264.4,1067.7 L266.0,1065.9 L267.6,1064.1 L269.1,1062.3 L270.7,1060.6 L272.3,1058.8 L273.8,1057.1 L275.4,1055.5 L277.0,1054.0 L278.6,1052.5 L280.1,1051.1 L281.7,1049.9 L283.3,1048.7 L284.8,1047.7 L286.4,1046.9 L288.0,1046.2 L289.5,1045.7 L291.1,1045.4 L292.7,1045.2 L294.3,1045.2 L295.8,1045.2 L297.4,1045.3 L299.0,1045.4 L300.5,1045.6 L302.1,1045.9 L303.7,1046.1 L305.3,1046.5 L306.8,1046.8 L308.4,1047.2 L310.0,1047.7 L311.5,1048.2 L313.1,1048.7 L314.7,1049.3 L316.3,1049.9 L317.8,1050.5 L319.4,1051.2 L321.0,1051.8 L322.5,1052.6 L324.1,1053.3 L325.7,1054.1 L327.3,1054.9 L328.8,1055.7 L330.4,1056.5 L332.0,1057.4 L333.5,1058.2 L335.1,1059.1 L336.7,1060.0 L338.2,1060.9 L339.8,1061.8 L341.4,1062.7 L343.0,1063.6 L344.5,1064.5 L346.1,1065.4 L347.7,1066.3 L349.2,1067.2 L350.8,1068.1 L352.4,1069.0 L354.0,1069.8 L355.5,1070.7 L357.1,1071.5 L358.7,1072.3 L360.2,1073.2 L361.8,1074.0 L363.4,1074.7 L365.0,1075.5 L366.5,1076.3 L368.1,1077.0 L369.7,1077.7 L371.2,1078.4 L372.8,1079.1 L374.4,1079.7 L376.0,1080.3 L377.5,1080.9 L379.1,1081.5 L380.7,1082.1 L382.2,1082.6 L383.8,1083.1 L385.4,1083.6 L387.0,1084.1 L388.5,1084.6 L390.1,1085.0 L391.7,1085.4 L393.2,1085.8 L394.8,1086.2 L396.4,1086.6 L397.9,1086.9 L399.5,1087.2 L401.1,1087.5 L402.7,1087.8 L404.2,1088.1 L405.8,1088.3 L407.4,1088.6 L408.9,1088.8 L410.5,1089.0 L412.1,1089.2 L413.7,1089.4 L415.2,1089.6 L416.8,1089.8 L418.4,1089.9 L419.9,1090.1 L421.5,1090.2 L423.1,1090.3 L424.7,1090.4 L426.2,1090.6 L427.8,1090.7 L429.4,1090.8 L430.9,1090.8 L432.5,1090.9 L434.1,1091.0 L435.7,1091.1 L437.2,1091.1 L438.8,1091.2 L440.4,1091.3 L441.9,1091.3 L443.5,1091.4 L445.1,1091.4 L445.1,1091.4 Z" fill="#1e8a1e"/>
<path d="M514.2,1091.6 L514.2,1091.6 L515.8,1091.5 L517.3,1091.4 L518.9,1091.3 L520.5,1091.1 L522.1,1090.9 L523.6,1090.7 L525.2,1090.5 L526.8,1090.2 L528.3,1089.9 L529.9,1089.6 L531.5,1089.3 L533.1,1088.9 L534.6,1088.5 L536.2,1088.1 L537.8,1087.7 L539.3,1087.3 L540.9,1086.8 L542.5,1086.4 L544.1,1086.0 L545.6,1085.5 L547.2,1085.1 L548.8,1084.7 L550.3,1084.4 L551.9,1084.1 L553.5,1083.8 L555.0,1083.5 L556.6,1083.3 L558.2,1083.2 L559.8,1083.1 L561.3,1083.1 L562.9,1083.1 L564.5,1083.1 L566.0,1083.2 L567.6,1083.3 L569.2,1083.3 L570.8,1083.4 L572.3,1083.6 L573.9,1083.7 L575.5,1083.8 L577.0,1084.0 L578.6,1084.2 L580.2,1084.3 L581.8,1084.5 L583.3,1084.7 L584.9,1084.9 L586.5,1085.2 L588.0,1085.4 L589.6,1085.6 L591.2,1085.8 L592.8,1086.1 L594.3,1086.3 L595.9,1086.5 L597.5,1086.8 L599.0,1087.0 L600.6,1087.2 L602.2,1087.5 L603.7,1087.7 L605.3,1087.9 L606.9,1088.1 L608.5,1088.3 L610.0,1088.5 L611.6,1088.7 L613.2,1088.9 L614.7,1089.1 L616.3,1089.2 L617.9,1089.4 L619.5,1089.5 L621.0,1089.7 L622.6,1089.8 L624.2,1089.9 L625.7,1090.0 L627.3,1090.1 L628.9,1090.2 L630.5,1090.3 L632.0,1090.3 L633.6,1090.4 L635.2,1090.4 L636.7,1090.5 L638.3,1090.5 L639.9,1090.5 L641.5,1090.6 L643.0,1090.6 L644.6,1090.6 L646.2,1090.6 L647.7,1090.6 L649.3,1090.6 L650.9,1090.6 L652.5,1090.6 L654.0,1090.5 L655.6,1090.5 L657.2,1090.5 L658.7,1090.5 L660.3,1090.5 L661.9,1090.4 L663.4,1090.4 L665.0,1090.4 L666.6,1090.4 L668.2,1090.4 L669.7,1090.3 L671.3,1090.3 L671.3,1090.3 Z" fill="#fdb22c"/>
<path d="M102.6,1094.2 L104.2,1094.2 L105.7,1094.2 L107.3,1094.2 L108.9,1094.2 L110.5,1094.2 L112.0,1094.2 L113.6,1094.2 L115.2,1094.2 L116.7,1094.2 L118.3,1094.2 L119.9,1094.2 L121.5,1094.2 L123.0,1094.2 L124.6,1094.1 L126.2,1094.1 L127.7,1094.1 L129.3,1094.1 L130.9,1094.1 L132.4,1094.1 L134.0,1094.1 L135.6,1094.1 L137.2,1094.1 L138.7,1094.1 L140.3,1094.1 L141.9,1094.1 L143.4,1094.1 L145.0,1094.1 L146.6,1094.1 L148.2,1094.1 L149.7,1094.1 L151.3,1094.1 L152.9,1094.1 L154.4,1094.1 L156.0,1094.1 L157.6,1094.1 L159.2,1094.1 L160.7,1094.1 L162.3,1094.1 L163.9,1094.1 L165.4,1094.1 L167.0,1094.0 L168.6,1094.0 L170.2,1094.0 L171.7,1094.0 L173.3,1094.0 L174.9,1094.0 L176.4,1094.0 L178.0,1094.0 L179.6,1094.0 L181.1,1094.0 L182.7,1094.0 L184.3,1094.0 L185.9,1094.0 L187.4,1094.0 L189.0,1094.0 L190.6,1094.0 L192.1,1094.0 L193.7,1094.0 L195.3,1093.9 L196.9,1093.9 L198.4,1093.9 L200.0,1093.9 L201.6,1093.9 L203.1,1093.8 L204.7,1093.8 L206.3,1093.8 L207.9,1093.7 L209.4,1093.7 L211.0,1093.6 L212.6,1093.5 L214.1,1093.5 L215.7,1093.4 L217.3,1093.3 L218.9,1093.1 L220.4,1093.0 L222.0,1092.8 L223.6,1092.6 L225.1,1092.4 L226.7,1092.1 L228.3,1091.8 L229.9,1091.4 L231.4,1091.0 L233.0,1090.6 L234.6,1090.1 L236.1,1089.6 L237.7,1089.0 L239.3,1088.3 L240.8,1087.5 L242.4,1086.7 L244.0,1085.8 L245.6,1084.9 L247.1,1083.8 L248.7,1082.7 L250.3,1081.5 L251.8,1080.3 L253.4,1078.9 L255.0,1077.5 L256.6,1076.0 L258.1,1074.4 L259.7,1072.8 L261.3,1071.1 L262.8,1069.4 L264.4,1067.7 L266.0,1065.9 L267.6,1064.1 L269.1,1062.3 L270.7,1060.6 L272.3,1058.8 L273.8,1057.1 L275.4,1055.5 L277.0,1054.0 L278.6,1052.5 L280.1,1051.1 L281.7,1049.9 L283.3,1048.7 L284.8,1047.7 L286.4,1046.9 L288.0,1046.2 L289.5,1045.7 L291.1,1045.4 L292.7,1045.2 L294.3,1045.2 L295.8,1045.2 L297.4,1045.3 L299.0,1045.4 L300.5,1045.6 L302.1,1045.9 L303.7,1046.1 L305.3,1046.5 L306.8,1046.8 L308.4,1047.2 L310.0,1047.7 L311.5,1048.2 L313.1,1048.7 L314.7,1049.3 L316.3,1049.9 L317.8,1050.5 L319.4,1051.2 L321.0,1051.8 L322.5,1052.6 L324.1,1053.3 L325.7,1054.1 L327.3,1054.9 L328.8,1055.7 L330.4,1056.5 L332.0,1057.4 L333.5,1058.2 L335.1,1059.1 L336.7,1060.0 L338.2,1060.9 L339.8,1061.8 L341.4,1062.7 L343.0,1063.6 L344.5,1064.5 L346.1,1065.4 L347.7,1066.3 L349.2,1067.2 L350.8,1068.1 L352.4,1069.0 L354.0,1069.8 L355.5,1070.7 L357.1,1071.5 L358.7,1072.3 L360.2,1073.2 L361.8,1074.0 L363.4,1074.7 L365.0,1075.5 L366.5,1076.3 L368.1,1077.0 L369.7,1077.7 L371.2,1078.4 L372.8,1079.1 L374.4,1079.7 L376.0,1080.3 L377.5,1080.9 L379.1,1081.5 L380.7,1082.1 L382.2,1082.6 L383.8,1083.1 L385.4,1083.6 L387.0,1084.1 L388.5,1084.6 L390.1,1085.0 L391.7,1085.4 L393.2,1085.8 L394.8,1086.2 L396.4,1086.6 L397.9,1086.9 L399.5,1087.2 L401.1,1087.5 L402.7,1087.8 L404.2,1088.1 L405.8,1088.3 L407.4,1088.6 L408.9,1088.8 L410.5,1089.0 L412.1,1089.2 L413.7,1089.4 L415.2,1089.6 L416.8,1089.8 L418.4,1089.9 L419.9,1090.1 L421.5,1090.2 L423.1,1090.3 L424.7,1090.4 L426.2,1090.6 L427.8,1090.7 L429.4,1090.8 L430.9,1090.8 L432.5,1090.9 L434.1,1091.0 L435.7,1091.1 L437.2,1091.1 L438.8,1091.2 L440.4,1091.3 L441.9,1091.3 L443.5,1091.4 L445.1,1091.4 L446.6,1091.4 L448.2,1091.5 L449.8,1091.5 L451.4,1091.6 L452.9,1091.6 L454.5,1091.6 L456.1,1091.6 L457.6,1091.7 L459.2,1091.7 L460.8,1091.7 L462.4,1091.7 L463.9,1091.8 L465.5,1091.8 L467.1,1091.8 L468.6,1091.8 L470.2,1091.8 L471.8,1091.8 L473.4,1091.9 L474.9,1091.9 L476.5,1091.9 L478.1,1091.9 L479.6,1091.9 L481.2,1091.9 L482.8,1091.9 L484.4,1092.0 L485.9,1092.0 L487.5,1092.0 L489.1,1092.0 L490.6,1092.0 L492.2,1092.0 L493.8,1092.0 L495.4,1092.0 L496.9,1092.0 L498.5,1092.0 L500.1,1092.0 L501.6,1092.0 L503.2,1092.0 L504.8,1092.0 L506.3,1091.9 L507.9,1091.9 L509.5,1091.9 L511.1,1091.8 L512.6,1091.7 L514.2,1091.6 L515.8,1091.5 L517.3,1091.4 L518.9,1091.3 L520.5,1091.1 L522.1,1090.9 L523.6,1090.7 L525.2,1090.5 L526.8,1090.2 L528.3,1089.9 L529.9,1089.6 L531.5,1089.3 L533.1,1088.9 L534.6,1088.5 L536.2,1088.1 L537.8,1087.7 L539.3,1087.3 L540.9,1086.8 L542.5,1086.4 L544.1,1086.0 L545.6,1085.5 L547.2,1085.1 L548.8,1084.7 L550.3,1084.4 L551.9,1084.1 L553.5,1083.8 L555.0,1083.5 L556.6,1083.3 L558.2,1083.2 L559.8,1083.1 L561.3,1083.1 L562.9,1083.1 L564.5,1083.1 L566.0,1083.2 L567.6,1083.3 L569.2,1083.3 L570.8,1083.4 L572.3,1083.6 L573.9,1083.7 L575.5,1083.8 L577.0,1084.0 L578.6,1084.2 L580.2,1084.3 L581.8,1084.5 L583.3,1084.7 L584.9,1084.9 L586.5,1085.2 L588.0,1085.4 L589.6,1085.6 L591.2,1085.8 L592.8,1086.1 L594.3,1086.3 L595.9,1086.5 L597.5,1086.8 L599.0,1087.0 L600.6,1087.2 L602.2,1087.5 L603.7,1087.7 L605.3,1087.9 L606.9,1088.1 L608.5,1088.3 L610.0,1088.5 L611.6,1088.7 L613.2,1088.9 L614.7,1089.1 L616.3,1089.2 L617.9,1089.4 L619.5,1089.5 L621.0,1089.7 L622.6,1089.8 L624.2,1089.9 L625.7,1090.0 L627.3,1090.1 L628.9,1090.2 L630.5,1090.3 L632.0,1090.3 L633.6,1090.4 L635.2,1090.4 L636.7,1090.5 L638.3,1090.5 L639.9,1090.5 L641.5,1090.6 L643.0,1090.6 L644.6,1090.6 L646.2,1090.6 L647.7,1090.6 L649.3,1090.6 L650.9,1090.6 L652.5,1090.6 L654.0,1090.5 L655.6,1090.5 L657.2,1090.5 L658.7,1090.5 L660.3,1090.5 L661.9,1090.4 L663.4,1090.4 L665.0,1090.4 L666.6,1090.4 L668.2,1090.4 L669.7,1090.3 L671.3,1090.3 L672.9,1090.3 L674.4,1090.3 L676.0,1090.3 L677.6,1090.3 L679.2,1090.3 L680.7,1090.3 L682.3,1090.3 L683.9,1090.3 L685.4,1090.3 L687.0,1090.3 L688.6,1090.3 L690.2,1090.3 L691.7,1090.3 L693.3,1090.3 L694.9,1090.3 L696.4,1090.3 L698.0,1090.3 L699.6,1090.3 L701.2,1090.3 L702.7,1090.3 L704.3,1090.3 L705.9,1090.3 L707.4,1090.3 L709.0,1090.3 L710.6,1090.3 L712.1,1090.4 L713.7,1090.4 L715.3,1090.4 L716.9,1090.4 L718.4,1090.4 L720.0,1090.4 L721.6,1090.4 L723.1,1090.4 L724.7,1090.4 L726.3,1090.4 L727.9,1090.5 L729.4,1090.5 L731.0,1090.5" fill="none" stroke="#000" stroke-width="2.4" stroke-linejoin="round"/>
<text x="117.0" y="1086.5" font-size="35.3" fill="#000" >1:1</text>
<path d="M218.9,1183.8 L218.9,1183.8 L220.4,1183.6 L222.0,1183.4 L223.6,1183.2 L225.1,1182.9 L226.7,1182.6 L228.3,1182.2 L229.9,1181.8 L231.4,1181.4 L233.0,1180.9 L234.6,1180.3 L236.1,1179.7 L237.7,1178.9 L239.3,1178.2 L240.8,1177.3 L242.4,1176.4 L244.0,1175.3 L245.6,1174.2 L247.1,1173.0 L248.7,1171.7 L250.3,1170.3 L251.8,1168.8 L253.4,1167.2 L255.0,1165.6 L256.6,1163.8 L258.1,1162.0 L259.7,1160.1 L261.3,1158.2 L262.8,1156.2 L264.4,1154.2 L266.0,1152.1 L267.6,1150.0 L269.1,1148.0 L270.7,1145.9 L272.3,1143.9 L273.8,1141.9 L275.4,1140.0 L277.0,1138.2 L278.6,1136.5 L280.1,1134.9 L281.7,1133.4 L283.3,1132.1 L284.8,1131.0 L286.4,1130.0 L288.0,1129.2 L289.5,1128.6 L291.1,1128.2 L292.7,1128.0 L294.3,1128.0 L295.8,1128.0 L297.4,1128.1 L299.0,1128.3 L300.5,1128.5 L302.1,1128.8 L303.7,1129.1 L305.3,1129.5 L306.8,1129.9 L308.4,1130.4 L310.0,1130.9 L311.5,1131.5 L313.1,1132.1 L314.7,1132.8 L316.3,1133.5 L317.8,1134.2 L319.4,1135.0 L321.0,1135.8 L322.5,1136.6 L324.1,1137.5 L325.7,1138.4 L327.3,1139.3 L328.8,1140.3 L330.4,1141.3 L332.0,1142.2 L333.5,1143.3 L335.1,1144.3 L336.7,1145.3 L338.2,1146.3 L339.8,1147.4 L341.4,1148.4 L343.0,1149.5 L344.5,1150.6 L346.1,1151.6 L347.7,1152.7 L349.2,1153.7 L350.8,1154.7 L352.4,1155.8 L354.0,1156.8 L355.5,1157.8 L357.1,1158.8 L358.7,1159.7 L360.2,1160.7 L361.8,1161.6 L363.4,1162.5 L365.0,1163.4 L366.5,1164.3 L368.1,1165.2 L369.7,1166.0 L371.2,1166.8 L372.8,1167.6 L374.4,1168.4 L376.0,1169.1 L377.5,1169.8 L379.1,1170.5 L380.7,1171.1 L382.2,1171.8 L383.8,1172.4 L385.4,1173.0 L387.0,1173.5 L388.5,1174.1 L390.1,1174.6 L391.7,1175.1 L393.2,1175.5 L394.8,1176.0 L396.4,1176.4 L397.9,1176.8 L399.5,1177.2 L401.1,1177.5 L402.7,1177.9 L404.2,1178.2 L405.8,1178.5 L407.4,1178.8 L408.9,1179.1 L410.5,1179.3 L412.1,1179.6 L413.7,1179.8 L415.2,1180.0 L416.8,1180.2 L418.4,1180.4 L419.9,1180.5 L421.5,1180.7 L423.1,1180.9 L424.7,1181.0 L426.2,1181.1 L427.8,1181.2 L429.4,1181.4 L430.9,1181.5 L432.5,1181.6 L434.1,1181.6 L435.7,1181.7 L437.2,1181.8 L438.8,1181.9 L440.4,1181.9 L441.9,1182.0 L443.5,1182.1 L445.1,1182.1 L445.1,1182.1 Z" fill="#1e8a1e"/>
<path d="M514.2,1182.5 L514.2,1182.5 L515.8,1182.4 L517.3,1182.3 L518.9,1182.1 L520.5,1181.9 L522.1,1181.6 L523.6,1181.3 L525.2,1181.0 L526.8,1180.6 L528.3,1180.1 L529.9,1179.6 L531.5,1179.1 L533.1,1178.4 L534.6,1177.7 L536.2,1176.9 L537.8,1176.1 L539.3,1175.2 L540.9,1174.2 L542.5,1173.2 L544.1,1172.2 L545.6,1171.1 L547.2,1170.0 L548.8,1168.9 L550.3,1167.8 L551.9,1166.8 L553.5,1165.8 L555.0,1164.9 L556.6,1164.0 L558.2,1163.3 L559.8,1162.6 L561.3,1162.1 L562.9,1161.7 L564.5,1161.5 L566.0,1161.4 L567.6,1161.4 L569.2,1161.5 L570.8,1161.6 L572.3,1161.8 L573.9,1161.9 L575.5,1162.2 L577.0,1162.4 L578.6,1162.7 L580.2,1163.0 L581.8,1163.4 L583.3,1163.8 L584.9,1164.2 L586.5,1164.6 L588.0,1165.1 L589.6,1165.6 L591.2,1166.1 L592.8,1166.6 L594.3,1167.1 L595.9,1167.7 L597.5,1168.2 L599.0,1168.8 L600.6,1169.4 L602.2,1169.9 L603.7,1170.5 L605.3,1171.0 L606.9,1171.6 L608.5,1172.1 L610.0,1172.6 L611.6,1173.2 L613.2,1173.7 L614.7,1174.2 L616.3,1174.6 L617.9,1175.1 L619.5,1175.5 L621.0,1176.0 L622.6,1176.4 L624.2,1176.8 L625.7,1177.1 L627.3,1177.5 L628.9,1177.8 L630.5,1178.1 L632.0,1178.4 L633.6,1178.6 L635.2,1178.9 L636.7,1179.1 L638.3,1179.3 L639.9,1179.5 L641.5,1179.7 L643.0,1179.8 L644.6,1180.0 L646.2,1180.1 L647.7,1180.2 L649.3,1180.3 L650.9,1180.4 L652.5,1180.5 L654.0,1180.6 L655.6,1180.6 L657.2,1180.7 L658.7,1180.7 L660.3,1180.8 L661.9,1180.8 L663.4,1180.8 L665.0,1180.8 L666.6,1180.9 L668.2,1180.9 L669.7,1180.9 L671.3,1180.9 L671.3,1180.9 Z" fill="#fdb22c"/>
<path d="M102.6,1185.0 L104.2,1185.0 L105.7,1185.0 L107.3,1185.0 L108.9,1185.0 L110.5,1185.0 L112.0,1185.0 L113.6,1185.0 L115.2,1185.0 L116.7,1185.0 L118.3,1185.0 L119.9,1185.0 L121.5,1185.0 L123.0,1185.0 L124.6,1184.9 L126.2,1184.9 L127.7,1184.9 L129.3,1184.9 L130.9,1184.9 L132.4,1184.9 L134.0,1184.9 L135.6,1184.9 L137.2,1184.9 L138.7,1184.9 L140.3,1184.9 L141.9,1184.9 L143.4,1184.9 L145.0,1184.9 L146.6,1184.9 L148.2,1184.9 L149.7,1184.9 L151.3,1184.9 L152.9,1184.9 L154.4,1184.9 L156.0,1184.9 L157.6,1184.9 L159.2,1184.9 L160.7,1184.9 L162.3,1184.9 L163.9,1184.9 L165.4,1184.9 L167.0,1184.8 L168.6,1184.8 L170.2,1184.8 L171.7,1184.8 L173.3,1184.8 L174.9,1184.8 L176.4,1184.8 L178.0,1184.8 L179.6,1184.8 L181.1,1184.8 L182.7,1184.8 L184.3,1184.8 L185.9,1184.8 L187.4,1184.8 L189.0,1184.8 L190.6,1184.8 L192.1,1184.8 L193.7,1184.7 L195.3,1184.7 L196.9,1184.7 L198.4,1184.7 L200.0,1184.7 L201.6,1184.7 L203.1,1184.6 L204.7,1184.6 L206.3,1184.5 L207.9,1184.5 L209.4,1184.4 L211.0,1184.4 L212.6,1184.3 L214.1,1184.2 L215.7,1184.1 L217.3,1183.9 L218.9,1183.8 L220.4,1183.6 L222.0,1183.4 L223.6,1183.2 L225.1,1182.9 L226.7,1182.6 L228.3,1182.2 L229.9,1181.8 L231.4,1181.4 L233.0,1180.9 L234.6,1180.3 L236.1,1179.7 L237.7,1178.9 L239.3,1178.2 L240.8,1177.3 L242.4,1176.4 L244.0,1175.3 L245.6,1174.2 L247.1,1173.0 L248.7,1171.7 L250.3,1170.3 L251.8,1168.8 L253.4,1167.2 L255.0,1165.6 L256.6,1163.8 L258.1,1162.0 L259.7,1160.1 L261.3,1158.2 L262.8,1156.2 L264.4,1154.2 L266.0,1152.1 L267.6,1150.0 L269.1,1148.0 L270.7,1145.9 L272.3,1143.9 L273.8,1141.9 L275.4,1140.0 L277.0,1138.2 L278.6,1136.5 L280.1,1134.9 L281.7,1133.4 L283.3,1132.1 L284.8,1131.0 L286.4,1130.0 L288.0,1129.2 L289.5,1128.6 L291.1,1128.2 L292.7,1128.0 L294.3,1128.0 L295.8,1128.0 L297.4,1128.1 L299.0,1128.3 L300.5,1128.5 L302.1,1128.8 L303.7,1129.1 L305.3,1129.5 L306.8,1129.9 L308.4,1130.4 L310.0,1130.9 L311.5,1131.5 L313.1,1132.1 L314.7,1132.8 L316.3,1133.5 L317.8,1134.2 L319.4,1135.0 L321.0,1135.8 L322.5,1136.6 L324.1,1137.5 L325.7,1138.4 L327.3,1139.3 L328.8,1140.3 L330.4,1141.3 L332.0,1142.2 L333.5,1143.3 L335.1,1144.3 L336.7,1145.3 L338.2,1146.3 L339.8,1147.4 L341.4,1148.4 L343.0,1149.5 L344.5,1150.6 L346.1,1151.6 L347.7,1152.7 L349.2,1153.7 L350.8,1154.7 L352.4,1155.8 L354.0,1156.8 L355.5,1157.8 L357.1,1158.8 L358.7,1159.7 L360.2,1160.7 L361.8,1161.6 L363.4,1162.5 L365.0,1163.4 L366.5,1164.3 L368.1,1165.2 L369.7,1166.0 L371.2,1166.8 L372.8,1167.6 L374.4,1168.4 L376.0,1169.1 L377.5,1169.8 L379.1,1170.5 L380.7,1171.1 L382.2,1171.8 L383.8,1172.4 L385.4,1173.0 L387.0,1173.5 L388.5,1174.1 L390.1,1174.6 L391.7,1175.1 L393.2,1175.5 L394.8,1176.0 L396.4,1176.4 L397.9,1176.8 L399.5,1177.2 L401.1,1177.5 L402.7,1177.9 L404.2,1178.2 L405.8,1178.5 L407.4,1178.8 L408.9,1179.1 L410.5,1179.3 L412.1,1179.6 L413.7,1179.8 L415.2,1180.0 L416.8,1180.2 L418.4,1180.4 L419.9,1180.5 L421.5,1180.7 L423.1,1180.9 L424.7,1181.0 L426.2,1181.1 L427.8,1181.2 L429.4,1181.4 L430.9,1181.5 L432.5,1181.6 L434.1,1181.6 L435.7,1181.7 L437.2,1181.8 L438.8,1181.9 L440.4,1181.9 L441.9,1182.0 L443.5,1182.1 L445.1,1182.1 L446.6,1182.2 L448.2,1182.2 L449.8,1182.3 L451.4,1182.3 L452.9,1182.3 L454.5,1182.4 L456.1,1182.4 L457.6,1182.4 L459.2,1182.5 L460.8,1182.5 L462.4,1182.5 L463.9,1182.5 L465.5,1182.6 L467.1,1182.6 L468.6,1182.6 L470.2,1182.6 L471.8,1182.6 L473.4,1182.7 L474.9,1182.7 L476.5,1182.7 L478.1,1182.7 L479.6,1182.7 L481.2,1182.7 L482.8,1182.7 L484.4,1182.8 L485.9,1182.8 L487.5,1182.8 L489.1,1182.8 L490.6,1182.8 L492.2,1182.8 L493.8,1182.8 L495.4,1182.8 L496.9,1182.8 L498.5,1182.9 L500.1,1182.9 L501.6,1182.9 L503.2,1182.8 L504.8,1182.8 L506.3,1182.8 L507.9,1182.8 L509.5,1182.7 L511.1,1182.7 L512.6,1182.6 L514.2,1182.5 L515.8,1182.4 L517.3,1182.3 L518.9,1182.1 L520.5,1181.9 L522.1,1181.6 L523.6,1181.3 L525.2,1181.0 L526.8,1180.6 L528.3,1180.1 L529.9,1179.6 L531.5,1179.1 L533.1,1178.4 L534.6,1177.7 L536.2,1176.9 L537.8,1176.1 L539.3,1175.2 L540.9,1174.2 L542.5,1173.2 L544.1,1172.2 L545.6,1171.1 L547.2,1170.0 L548.8,1168.9 L550.3,1167.8 L551.9,1166.8 L553.5,1165.8 L555.0,1164.9 L556.6,1164.0 L558.2,1163.3 L559.8,1162.6 L561.3,1162.1 L562.9,1161.7 L564.5,1161.5 L566.0,1161.4 L567.6,1161.4 L569.2,1161.5 L570.8,1161.6 L572.3,1161.8 L573.9,1161.9 L575.5,1162.2 L577.0,1162.4 L578.6,1162.7 L580.2,1163.0 L581.8,1163.4 L583.3,1163.8 L584.9,1164.2 L586.5,1164.6 L588.0,1165.1 L589.6,1165.6 L591.2,1166.1 L592.8,1166.6 L594.3,1167.1 L595.9,1167.7 L597.5,1168.2 L599.0,1168.8 L600.6,1169.4 L602.2,1169.9 L603.7,1170.5 L605.3,1171.0 L606.9,1171.6 L608.5,1172.1 L610.0,1172.6 L611.6,1173.2 L613.2,1173.7 L614.7,1174.2 L616.3,1174.6 L617.9,1175.1 L619.5,1175.5 L621.0,1176.0 L622.6,1176.4 L624.2,1176.8 L625.7,1177.1 L627.3,1177.5 L628.9,1177.8 L630.5,1178.1 L632.0,1178.4 L633.6,1178.6 L635.2,1178.9 L636.7,1179.1 L638.3,1179.3 L639.9,1179.5 L641.5,1179.7 L643.0,1179.8 L644.6,1180.0 L646.2,1180.1 L647.7,1180.2 L649.3,1180.3 L650.9,1180.4 L652.5,1180.5 L654.0,1180.6 L655.6,1180.6 L657.2,1180.7 L658.7,1180.7 L660.3,1180.8 L661.9,1180.8 L663.4,1180.8 L665.0,1180.8 L666.6,1180.9 L668.2,1180.9 L669.7,1180.9 L671.3,1180.9 L672.9,1180.9 L674.4,1180.9 L676.0,1180.9 L677.6,1180.9 L679.2,1181.0 L680.7,1181.0 L682.3,1181.0 L683.9,1181.0 L685.4,1181.0 L687.0,1181.0 L688.6,1181.0 L690.2,1181.0 L691.7,1181.0 L693.3,1181.1 L694.9,1181.1 L696.4,1181.1 L698.0,1181.1 L699.6,1181.1 L701.2,1181.1 L702.7,1181.1 L704.3,1181.1 L705.9,1181.1 L707.4,1181.1 L709.0,1181.1 L710.6,1181.1 L712.1,1181.1 L713.7,1181.2 L715.3,1181.2 L716.9,1181.2 L718.4,1181.2 L720.0,1181.2 L721.6,1181.2 L723.1,1181.2 L724.7,1181.2 L726.3,1181.2 L727.9,1181.3 L729.4,1181.3 L731.0,1181.3" fill="none" stroke="#000" stroke-width="2.4" stroke-linejoin="round"/>
<text x="117.0" y="1174.8" font-size="35.3" fill="#000" >1:2</text>
<path d="M102.6,977 L102.6,1197 L731.5,1197" fill="none" stroke="#000" stroke-width="2.8"/>
<line x1="175.0" y1="1197.0" x2="175.0" y2="1208.5" stroke="#000" stroke-width="2.6" />
<text x="175.0" y="1239.7" font-size="35.3" text-anchor="middle" fill="#000" >10</text>
<line x1="416.5" y1="1197.0" x2="416.5" y2="1208.5" stroke="#000" stroke-width="2.6" />
<text x="416.5" y="1239.7" font-size="35.3" text-anchor="middle" fill="#000" >15</text>
<line x1="658.0" y1="1197.0" x2="658.0" y2="1208.5" stroke="#000" stroke-width="2.6" />
<text x="658.0" y="1239.7" font-size="35.3" text-anchor="middle" fill="#000" >20</text>
<text x="432.6" y="1276.0" font-size="35.3" text-anchor="middle" fill="#000" >Elution volume (mL)</text>
<text transform="translate(64,1071) rotate(-90)" font-size="35.3" text-anchor="middle">Normalized peak area</text>
<text x="735" y="945.5" font-size="32" font-weight="bold" stroke="#000" stroke-width="1.7" stroke-linejoin="round" transform="translate(735,0) scale(1.18,1) translate(-735,0)">j</text>
<text x="776" y="957.4" font-size="35.3">[T]<tspan font-size="28.2" dy="6.3">0</tspan><tspan dy="-6.3" font-size="35.3">&#8203;</tspan>:[P]<tspan font-size="28.2" dy="6.3">0</tspan><tspan dy="-6.3" font-size="35.3">&#8203;</tspan></text>
<rect x="970.0" y="931.0" width="49.0" height="5.2" fill="#8e2890" />
<rect x="1212.0" y="931.0" width="145.0" height="5.2" fill="#fdb22c" />
<path d="M901.0,1002.6 L901.0,998.4 L902.6,998.3 L904.2,998.1 L905.8,998.0 L907.4,997.8 L908.9,997.6 L910.5,997.4 L912.1,997.2 L913.7,997.0 L915.2,996.8 L916.8,996.6 L918.4,996.3 L920.0,996.1 L921.5,995.8 L923.1,995.5 L924.7,995.2 L926.3,994.8 L927.9,994.4 L929.4,994.0 L931.0,993.6 L932.6,993.2 L934.2,992.8 L935.7,992.4 L937.3,991.9 L938.9,991.4 L940.5,990.8 L942.1,990.2 L943.6,989.6 L945.2,988.9 L946.8,988.1 L948.4,987.2 L949.9,986.4 L951.5,985.4 L953.1,984.4 L954.7,983.3 L956.2,982.2 L957.8,981.0 L959.4,979.7 L961.0,978.4 L962.6,977.1 L964.1,975.7 L965.7,974.2 L967.3,972.7 L968.9,971.2 L970.4,969.6 L972.0,968.1 L973.6,966.5 L975.2,964.9 L976.8,963.4 L978.3,961.8 L979.9,960.3 L981.5,958.8 L983.1,957.3 L984.6,955.9 L986.2,954.6 L987.8,953.3 L989.4,952.2 L990.9,951.1 L992.5,950.1 L994.1,949.2 L995.7,948.5 L997.3,947.8 L998.8,947.3 L1000.4,946.9 L1002.0,946.7 L1003.6,946.6 L1005.1,946.6 L1006.7,946.6 L1008.3,946.7 L1009.9,946.9 L1011.5,947.1 L1013.0,947.3 L1014.6,947.6 L1016.2,947.9 L1017.8,948.2 L1019.3,948.6 L1020.9,949.1 L1022.5,949.6 L1024.1,950.1 L1025.6,950.6 L1027.2,951.2 L1028.8,951.8 L1030.4,952.5 L1032.0,953.2 L1033.5,953.9 L1035.1,954.6 L1036.7,955.4 L1038.3,956.1 L1039.8,956.9 L1041.4,957.7 L1043.0,958.6 L1044.6,959.4 L1046.2,960.3 L1047.7,961.2 L1049.3,962.1 L1050.9,962.9 L1052.5,963.8 L1054.0,964.7 L1055.6,965.6 L1057.2,966.5 L1058.8,967.4 L1060.3,968.3 L1061.9,969.2 L1063.5,970.1 L1065.1,971.0 L1066.7,971.9 L1068.2,972.7 L1069.8,973.6 L1071.4,974.4 L1073.0,975.2 L1074.5,976.0 L1076.1,976.8 L1077.7,977.6 L1079.3,978.3 L1080.9,979.1 L1082.4,979.8 L1084.0,980.5 L1085.6,981.2 L1087.2,981.9 L1088.7,982.5 L1090.3,983.1 L1091.9,983.7 L1093.5,984.4 L1095.0,984.9 L1096.6,985.5 L1098.2,986.1 L1099.8,986.6 L1101.4,987.1 L1102.9,987.6 L1104.5,988.0 L1106.1,988.5 L1107.7,988.9 L1109.2,989.3 L1110.8,989.7 L1112.4,990.1 L1114.0,990.4 L1115.5,990.8 L1117.1,991.1 L1118.7,991.4 L1120.3,991.7 L1121.9,992.0 L1123.4,992.2 L1125.0,992.5 L1126.6,992.7 L1128.2,993.0 L1129.7,993.2 L1131.3,993.4 L1132.9,993.6 L1134.5,993.7 L1136.1,993.9 L1137.6,994.1 L1139.2,994.2 L1140.8,994.4 L1142.4,994.5 L1143.9,994.6 L1145.5,994.8 L1147.1,994.9 L1148.7,995.0 L1150.2,995.1 L1151.8,995.2 L1153.4,995.3 L1153.4,995.3 Z" fill="#8e2890"/>
<path d="M1232.3,997.0 L1232.3,997.0 L1233.8,996.9 L1235.4,996.7 L1237.0,996.5 L1238.6,996.3 L1240.2,996.0 L1241.7,995.7 L1243.3,995.3 L1244.9,994.8 L1246.5,994.2 L1248.0,993.5 L1249.6,992.7 L1251.2,991.8 L1252.8,990.8 L1254.3,989.7 L1255.9,988.4 L1257.5,987.1 L1259.1,985.6 L1260.7,984.1 L1262.2,982.6 L1263.8,980.9 L1265.4,979.3 L1267.0,977.7 L1268.5,976.1 L1270.1,974.7 L1271.7,973.3 L1273.3,972.0 L1274.9,971.0 L1276.4,970.1 L1278.0,969.5 L1279.6,969.1 L1281.2,968.9 L1282.7,968.9 L1284.3,969.1 L1285.9,969.2 L1287.5,969.5 L1289.0,969.8 L1290.6,970.2 L1292.2,970.7 L1293.8,971.2 L1295.4,971.8 L1296.9,972.4 L1298.5,973.1 L1300.1,973.8 L1301.7,974.6 L1303.2,975.4 L1304.8,976.2 L1306.4,977.1 L1308.0,977.9 L1309.6,978.8 L1311.1,979.7 L1312.7,980.6 L1314.3,981.5 L1315.9,982.5 L1317.4,983.4 L1319.0,984.3 L1320.6,985.1 L1322.2,986.0 L1323.7,986.9 L1325.3,987.7 L1326.9,988.5 L1328.5,989.3 L1330.1,990.0 L1331.6,990.7 L1333.2,991.4 L1334.8,992.0 L1336.4,992.7 L1337.9,993.3 L1339.5,993.8 L1341.1,994.3 L1342.7,994.8 L1344.3,995.3 L1345.8,995.7 L1347.4,996.1 L1349.0,996.5 L1350.6,996.9 L1352.1,997.2 L1353.7,997.5 L1355.3,997.8 L1356.9,998.0 L1358.4,998.3 L1360.0,998.5 L1361.6,998.7 L1363.2,998.9 L1364.8,999.0 L1366.3,999.2 L1367.9,999.3 L1369.5,999.4 L1369.5,999.4 Z" fill="#fdb22c"/>
<path d="M800.1,1004.1 L801.7,1004.1 L803.3,1004.1 L804.8,1004.1 L806.4,1004.1 L808.0,1004.1 L809.6,1004.1 L811.1,1004.1 L812.7,1004.1 L814.3,1004.1 L815.9,1004.1 L817.4,1004.1 L819.0,1004.1 L820.6,1004.1 L822.2,1004.1 L823.8,1004.1 L825.3,1004.1 L826.9,1004.1 L828.5,1004.1 L830.1,1004.1 L831.6,1004.1 L833.2,1004.1 L834.8,1004.0 L836.4,1003.8 L838.0,1003.7 L839.5,1003.6 L841.1,1003.4 L842.7,1003.3 L844.3,1003.2 L845.8,1003.1 L847.4,1002.9 L849.0,1002.8 L850.6,1002.7 L852.1,1002.5 L853.7,1002.4 L855.3,1002.3 L856.9,1002.2 L858.5,1002.0 L860.0,1001.9 L861.6,1001.8 L863.2,1001.7 L864.8,1001.5 L866.3,1001.4 L867.9,1001.3 L869.5,1001.1 L871.1,1001.0 L872.7,1000.9 L874.2,1000.8 L875.8,1000.6 L877.4,1000.5 L879.0,1000.4 L880.5,1000.2 L882.1,1000.1 L883.7,1000.0 L885.3,999.8 L886.8,999.7 L888.4,999.6 L890.0,999.4 L891.6,999.3 L893.2,999.2 L894.7,999.0 L896.3,998.9 L897.9,998.7 L899.5,998.6 L901.0,998.4 L902.6,998.3 L904.2,998.1 L905.8,998.0 L907.4,997.8 L908.9,997.6 L910.5,997.4 L912.1,997.2 L913.7,997.0 L915.2,996.8 L916.8,996.6 L918.4,996.3 L920.0,996.1 L921.5,995.8 L923.1,995.5 L924.7,995.2 L926.3,994.8 L927.9,994.4 L929.4,994.0 L931.0,993.6 L932.6,993.2 L934.2,992.8 L935.7,992.4 L937.3,991.9 L938.9,991.4 L940.5,990.8 L942.1,990.2 L943.6,989.6 L945.2,988.9 L946.8,988.1 L948.4,987.2 L949.9,986.4 L951.5,985.4 L953.1,984.4 L954.7,983.3 L956.2,982.2 L957.8,981.0 L959.4,979.7 L961.0,978.4 L962.6,977.1 L964.1,975.7 L965.7,974.2 L967.3,972.7 L968.9,971.2 L970.4,969.6 L972.0,968.1 L973.6,966.5 L975.2,964.9 L976.8,963.4 L978.3,961.8 L979.9,960.3 L981.5,958.8 L983.1,957.3 L984.6,955.9 L986.2,954.6 L987.8,953.3 L989.4,952.2 L990.9,951.1 L992.5,950.1 L994.1,949.2 L995.7,948.5 L997.3,947.8 L998.8,947.3 L1000.4,946.9 L1002.0,946.7 L1003.6,946.6 L1005.1,946.6 L1006.7,946.6 L1008.3,946.7 L1009.9,946.9 L1011.5,947.1 L1013.0,947.3 L1014.6,947.6 L1016.2,947.9 L1017.8,948.2 L1019.3,948.6 L1020.9,949.1 L1022.5,949.6 L1024.1,950.1 L1025.6,950.6 L1027.2,951.2 L1028.8,951.8 L1030.4,952.5 L1032.0,953.2 L1033.5,953.9 L1035.1,954.6 L1036.7,955.4 L1038.3,956.1 L1039.8,956.9 L1041.4,957.7 L1043.0,958.6 L1044.6,959.4 L1046.2,960.3 L1047.7,961.2 L1049.3,962.1 L1050.9,962.9 L1052.5,963.8 L1054.0,964.7 L1055.6,965.6 L1057.2,966.5 L1058.8,967.4 L1060.3,968.3 L1061.9,969.2 L1063.5,970.1 L1065.1,971.0 L1066.7,971.9 L1068.2,972.7 L1069.8,973.6 L1071.4,974.4 L1073.0,975.2 L1074.5,976.0 L1076.1,976.8 L1077.7,977.6 L1079.3,978.3 L1080.9,979.1 L1082.4,979.8 L1084.0,980.5 L1085.6,981.2 L1087.2,981.9 L1088.7,982.5 L1090.3,983.1 L1091.9,983.7 L1093.5,984.4 L1095.0,984.9 L1096.6,985.5 L1098.2,986.1 L1099.8,986.6 L1101.4,987.1 L1102.9,987.6 L1104.5,988.0 L1106.1,988.5 L1107.7,988.9 L1109.2,989.3 L1110.8,989.7 L1112.4,990.1 L1114.0,990.4 L1115.5,990.8 L1117.1,991.1 L1118.7,991.4 L1120.3,991.7 L1121.9,992.0 L1123.4,992.2 L1125.0,992.5 L1126.6,992.7 L1128.2,993.0 L1129.7,993.2 L1131.3,993.4 L1132.9,993.6 L1134.5,993.7 L1136.1,993.9 L1137.6,994.1 L1139.2,994.2 L1140.8,994.4 L1142.4,994.5 L1143.9,994.6 L1145.5,994.8 L1147.1,994.9 L1148.7,995.0 L1150.2,995.1 L1151.8,995.2 L1153.4,995.3 L1155.0,995.4 L1156.6,995.4 L1158.1,995.5 L1159.7,995.6 L1161.3,995.7 L1162.9,995.7 L1164.4,995.8 L1166.0,995.9 L1167.6,995.9 L1169.2,996.0 L1170.8,996.0 L1172.3,996.1 L1173.9,996.1 L1175.5,996.2 L1177.1,996.2 L1178.6,996.3 L1180.2,996.3 L1181.8,996.4 L1183.4,996.4 L1184.9,996.4 L1186.5,996.5 L1188.1,996.5 L1189.7,996.5 L1191.3,996.6 L1192.8,996.6 L1194.4,996.6 L1196.0,996.7 L1197.6,996.7 L1199.1,996.7 L1200.7,996.8 L1202.3,996.8 L1203.9,996.8 L1205.5,996.9 L1207.0,996.9 L1208.6,996.9 L1210.2,997.0 L1211.8,997.0 L1213.3,997.0 L1214.9,997.1 L1216.5,997.1 L1218.1,997.1 L1219.6,997.1 L1221.2,997.1 L1222.8,997.1 L1224.4,997.1 L1226.0,997.1 L1227.5,997.1 L1229.1,997.1 L1230.7,997.0 L1232.3,997.0 L1233.8,996.9 L1235.4,996.7 L1237.0,996.5 L1238.6,996.3 L1240.2,996.0 L1241.7,995.7 L1243.3,995.3 L1244.9,994.8 L1246.5,994.2 L1248.0,993.5 L1249.6,992.7 L1251.2,991.8 L1252.8,990.8 L1254.3,989.7 L1255.9,988.4 L1257.5,987.1 L1259.1,985.6 L1260.7,984.1 L1262.2,982.6 L1263.8,980.9 L1265.4,979.3 L1267.0,977.7 L1268.5,976.1 L1270.1,974.7 L1271.7,973.3 L1273.3,972.0 L1274.9,971.0 L1276.4,970.1 L1278.0,969.5 L1279.6,969.1 L1281.2,968.9 L1282.7,968.9 L1284.3,969.1 L1285.9,969.2 L1287.5,969.5 L1289.0,969.8 L1290.6,970.2 L1292.2,970.7 L1293.8,971.2 L1295.4,971.8 L1296.9,972.4 L1298.5,973.1 L1300.1,973.8 L1301.7,974.6 L1303.2,975.4 L1304.8,976.2 L1306.4,977.1 L1308.0,977.9 L1309.6,978.8 L1311.1,979.7 L1312.7,980.6 L1314.3,981.5 L1315.9,982.5 L1317.4,983.4 L1319.0,984.3 L1320.6,985.1 L1322.2,986.0 L1323.7,986.9 L1325.3,987.7 L1326.9,988.5 L1328.5,989.3 L1330.1,990.0 L1331.6,990.7 L1333.2,991.4 L1334.8,992.0 L1336.4,992.7 L1337.9,993.3 L1339.5,993.8 L1341.1,994.3 L1342.7,994.8 L1344.3,995.3 L1345.8,995.7 L1347.4,996.1 L1349.0,996.5 L1350.6,996.9 L1352.1,997.2 L1353.7,997.5 L1355.3,997.8 L1356.9,998.0 L1358.4,998.3 L1360.0,998.5 L1361.6,998.7 L1363.2,998.9 L1364.8,999.0 L1366.3,999.2 L1367.9,999.3 L1369.5,999.4 L1371.1,999.6 L1372.6,999.7 L1374.2,999.8 L1375.8,999.8 L1377.4,999.9 L1379.0,1000.0 L1380.5,1000.1 L1382.1,1000.1 L1383.7,1000.2 L1385.3,1000.2 L1386.8,1000.3 L1388.4,1000.3 L1390.0,1000.4 L1391.6,1000.4 L1393.1,1000.5 L1394.7,1000.5 L1396.3,1000.6 L1397.9,1000.6 L1399.5,1000.6 L1401.0,1000.7 L1402.6,1000.7 L1404.2,1000.7 L1405.8,1000.8 L1407.3,1000.8 L1408.9,1000.8 L1410.5,1000.8 L1412.1,1000.9 L1413.7,1000.9 L1415.2,1000.9 L1416.8,1001.0 L1418.4,1001.0 L1420.0,1001.0 L1421.5,1001.0 L1423.1,1001.1 L1424.7,1001.1 L1426.3,1001.1 L1427.8,1001.1 L1429.4,1001.2 L1431.0,1001.2" fill="none" stroke="#000" stroke-width="2.4" stroke-linejoin="round"/>
<text x="816.6" y="996.0" font-size="35.3" fill="#000" >2:1</text>
<path d="M901.0,1092.0 L901.0,1087.8 L902.6,1087.6 L904.2,1087.4 L905.8,1087.2 L907.4,1087.0 L908.9,1086.8 L910.5,1086.6 L912.1,1086.4 L913.7,1086.1 L915.2,1085.9 L916.8,1085.6 L918.4,1085.3 L920.0,1085.0 L921.5,1084.6 L923.1,1084.2 L924.7,1083.8 L926.3,1083.4 L927.9,1082.9 L929.4,1082.4 L931.0,1081.9 L932.6,1081.4 L934.2,1080.9 L935.7,1080.3 L937.3,1079.7 L938.9,1079.1 L940.5,1078.4 L942.1,1077.6 L943.6,1076.8 L945.2,1075.9 L946.8,1075.0 L948.4,1074.0 L949.9,1072.9 L951.5,1071.8 L953.1,1070.6 L954.7,1069.4 L956.2,1068.1 L957.8,1066.8 L959.4,1065.4 L961.0,1064.0 L962.6,1062.5 L964.1,1061.0 L965.7,1059.5 L967.3,1058.0 L968.9,1056.4 L970.4,1054.9 L972.0,1053.3 L973.6,1051.8 L975.2,1050.3 L976.8,1048.8 L978.3,1047.4 L979.9,1046.1 L981.5,1044.8 L983.1,1043.5 L984.6,1042.4 L986.2,1041.3 L987.8,1040.4 L989.4,1039.5 L990.9,1038.8 L992.5,1038.2 L994.1,1037.7 L995.7,1037.3 L997.3,1037.1 L998.8,1037.0 L1000.4,1037.0 L1002.0,1037.0 L1003.6,1037.1 L1005.1,1037.3 L1006.7,1037.5 L1008.3,1037.7 L1009.9,1038.0 L1011.5,1038.3 L1013.0,1038.6 L1014.6,1039.0 L1016.2,1039.5 L1017.8,1039.9 L1019.3,1040.4 L1020.9,1041.0 L1022.5,1041.6 L1024.1,1042.2 L1025.6,1042.8 L1027.2,1043.5 L1028.8,1044.2 L1030.4,1044.9 L1032.0,1045.6 L1033.5,1046.4 L1035.1,1047.2 L1036.7,1048.0 L1038.3,1048.8 L1039.8,1049.6 L1041.4,1050.5 L1043.0,1051.3 L1044.6,1052.2 L1046.2,1053.1 L1047.7,1054.0 L1049.3,1054.8 L1050.9,1055.7 L1052.5,1056.6 L1054.0,1057.5 L1055.6,1058.4 L1057.2,1059.2 L1058.8,1060.1 L1060.3,1061.0 L1061.9,1061.8 L1063.5,1062.7 L1065.1,1063.5 L1066.7,1064.3 L1068.2,1065.1 L1069.8,1065.9 L1071.4,1066.7 L1073.0,1067.4 L1074.5,1068.2 L1076.1,1068.9 L1077.7,1069.6 L1079.3,1070.3 L1080.9,1071.0 L1082.4,1071.6 L1084.0,1072.3 L1085.6,1072.9 L1087.2,1073.5 L1088.7,1074.0 L1090.3,1074.6 L1091.9,1075.1 L1093.5,1075.7 L1095.0,1076.2 L1096.6,1076.7 L1098.2,1077.1 L1099.8,1077.6 L1101.4,1078.0 L1102.9,1078.4 L1104.5,1078.8 L1106.1,1079.2 L1107.7,1079.6 L1109.2,1079.9 L1110.8,1080.3 L1112.4,1080.6 L1114.0,1080.9 L1115.5,1081.2 L1117.1,1081.4 L1118.7,1081.7 L1120.3,1081.9 L1121.9,1082.2 L1123.4,1082.4 L1125.0,1082.6 L1126.6,1082.8 L1128.2,1083.0 L1129.7,1083.2 L1131.3,1083.3 L1132.9,1083.5 L1134.5,1083.6 L1136.1,1083.8 L1137.6,1083.9 L1139.2,1084.0 L1140.8,1084.1 L1142.4,1084.2 L1143.9,1084.4 L1145.5,1084.4 L1147.1,1084.5 L1148.7,1084.6 L1150.2,1084.7 L1151.8,1084.8 L1153.4,1084.9 L1153.4,1084.9 Z" fill="#8e2890"/>
<path d="M1188.1,1085.9 L1188.1,1085.9 L1189.7,1086.0 L1191.3,1086.0 L1192.8,1086.0 L1194.4,1086.0 L1196.0,1086.1 L1197.6,1086.1 L1199.1,1086.1 L1200.7,1086.2 L1202.3,1086.2 L1203.9,1086.2 L1205.5,1086.2 L1207.0,1086.3 L1208.6,1086.3 L1210.2,1086.3 L1211.8,1086.3 L1213.3,1086.3 L1214.9,1086.3 L1216.5,1086.4 L1218.1,1086.4 L1219.6,1086.4 L1221.2,1086.4 L1222.8,1086.4 L1224.4,1086.4 L1226.0,1086.4 L1227.5,1086.4 L1229.1,1086.4 L1230.7,1086.4 L1232.3,1086.4 L1233.8,1086.4 L1235.4,1086.4 L1237.0,1086.3 L1238.6,1086.3 L1240.2,1086.3 L1241.7,1086.3 L1243.3,1086.2 L1244.9,1086.2 L1246.5,1086.2 L1248.0,1086.1 L1249.6,1086.1 L1251.2,1086.0 L1252.8,1086.0 L1254.3,1085.9 L1255.9,1085.9 L1257.5,1085.9 L1259.1,1085.8 L1260.7,1085.8 L1262.2,1085.7 L1263.8,1085.7 L1265.4,1085.6 L1267.0,1085.6 L1268.5,1085.5 L1270.1,1085.5 L1271.7,1085.5 L1273.3,1085.4 L1274.9,1085.4 L1276.4,1085.4 L1278.0,1085.4 L1279.6,1085.4 L1281.2,1085.4 L1282.7,1085.4 L1284.3,1085.4 L1285.9,1085.4 L1287.5,1085.4 L1289.0,1085.4 L1290.6,1085.5 L1292.2,1085.5 L1293.8,1085.6 L1295.4,1085.6 L1296.9,1085.7 L1298.5,1085.7 L1300.1,1085.8 L1301.7,1085.8 L1303.2,1085.9 L1304.8,1086.0 L1306.4,1086.0 L1308.0,1086.1 L1309.6,1086.2 L1311.1,1086.2 L1312.7,1086.3 L1314.3,1086.4 L1315.9,1086.5 L1317.4,1086.6 L1319.0,1086.7 L1320.6,1086.8 L1322.2,1086.8 L1323.7,1086.9 L1325.3,1087.0 L1326.9,1087.1 L1328.5,1087.2 L1330.1,1087.3 L1331.6,1087.4 L1333.2,1087.5 L1334.8,1087.6 L1336.4,1087.7 L1337.9,1087.7 L1339.5,1087.8 L1341.1,1087.9 L1342.7,1088.0 L1344.3,1088.1 L1345.8,1088.2 L1347.4,1088.2 L1349.0,1088.3 L1350.6,1088.4 L1352.1,1088.5 L1353.7,1088.5 L1355.3,1088.6 L1356.9,1088.7 L1358.4,1088.8 L1360.0,1088.8 L1361.6,1088.9 L1363.2,1089.0 L1364.8,1089.0 L1366.3,1089.1 L1367.9,1089.1 L1369.5,1089.2 L1371.1,1089.2 L1372.6,1089.3 L1374.2,1089.3 L1375.8,1089.4 L1377.4,1089.4 L1379.0,1089.5 L1380.5,1089.5 L1382.1,1089.6 L1383.7,1089.6 L1385.3,1089.7 L1386.8,1089.7 L1388.4,1089.7 L1390.0,1089.8 L1391.6,1089.8 L1393.1,1089.9 L1394.7,1089.9 L1396.3,1089.9 L1397.9,1090.0 L1399.5,1090.0 L1401.0,1090.0 L1402.6,1090.1 L1404.2,1090.1 L1404.2,1090.1 Z" fill="#fdb22c"/>
<path d="M800.1,1093.5 L801.7,1093.5 L803.3,1093.5 L804.8,1093.5 L806.4,1093.5 L808.0,1093.5 L809.6,1093.5 L811.1,1093.5 L812.7,1093.5 L814.3,1093.5 L815.9,1093.5 L817.4,1093.5 L819.0,1093.5 L820.6,1093.5 L822.2,1093.5 L823.8,1093.5 L825.3,1093.5 L826.9,1093.5 L828.5,1093.5 L830.1,1093.5 L831.6,1093.5 L833.2,1093.5 L834.8,1093.4 L836.4,1093.2 L838.0,1093.1 L839.5,1093.0 L841.1,1092.8 L842.7,1092.7 L844.3,1092.6 L845.8,1092.5 L847.4,1092.3 L849.0,1092.2 L850.6,1092.1 L852.1,1091.9 L853.7,1091.8 L855.3,1091.7 L856.9,1091.6 L858.5,1091.4 L860.0,1091.3 L861.6,1091.2 L863.2,1091.0 L864.8,1090.9 L866.3,1090.8 L867.9,1090.7 L869.5,1090.5 L871.1,1090.4 L872.7,1090.3 L874.2,1090.1 L875.8,1090.0 L877.4,1089.9 L879.0,1089.8 L880.5,1089.6 L882.1,1089.5 L883.7,1089.4 L885.3,1089.2 L886.8,1089.1 L888.4,1089.0 L890.0,1088.8 L891.6,1088.7 L893.2,1088.5 L894.7,1088.4 L896.3,1088.2 L897.9,1088.1 L899.5,1087.9 L901.0,1087.8 L902.6,1087.6 L904.2,1087.4 L905.8,1087.2 L907.4,1087.0 L908.9,1086.8 L910.5,1086.6 L912.1,1086.4 L913.7,1086.1 L915.2,1085.9 L916.8,1085.6 L918.4,1085.3 L920.0,1085.0 L921.5,1084.6 L923.1,1084.2 L924.7,1083.8 L926.3,1083.4 L927.9,1082.9 L929.4,1082.4 L931.0,1081.9 L932.6,1081.4 L934.2,1080.9 L935.7,1080.3 L937.3,1079.7 L938.9,1079.1 L940.5,1078.4 L942.1,1077.6 L943.6,1076.8 L945.2,1075.9 L946.8,1075.0 L948.4,1074.0 L949.9,1072.9 L951.5,1071.8 L953.1,1070.6 L954.7,1069.4 L956.2,1068.1 L957.8,1066.8 L959.4,1065.4 L961.0,1064.0 L962.6,1062.5 L964.1,1061.0 L965.7,1059.5 L967.3,1058.0 L968.9,1056.4 L970.4,1054.9 L972.0,1053.3 L973.6,1051.8 L975.2,1050.3 L976.8,1048.8 L978.3,1047.4 L979.9,1046.1 L981.5,1044.8 L983.1,1043.5 L984.6,1042.4 L986.2,1041.3 L987.8,1040.4 L989.4,1039.5 L990.9,1038.8 L992.5,1038.2 L994.1,1037.7 L995.7,1037.3 L997.3,1037.1 L998.8,1037.0 L1000.4,1037.0 L1002.0,1037.0 L1003.6,1037.1 L1005.1,1037.3 L1006.7,1037.5 L1008.3,1037.7 L1009.9,1038.0 L1011.5,1038.3 L1013.0,1038.6 L1014.6,1039.0 L1016.2,1039.5 L1017.8,1039.9 L1019.3,1040.4 L1020.9,1041.0 L1022.5,1041.6 L1024.1,1042.2 L1025.6,1042.8 L1027.2,1043.5 L1028.8,1044.2 L1030.4,1044.9 L1032.0,1045.6 L1033.5,1046.4 L1035.1,1047.2 L1036.7,1048.0 L1038.3,1048.8 L1039.8,1049.6 L1041.4,1050.5 L1043.0,1051.3 L1044.6,1052.2 L1046.2,1053.1 L1047.7,1054.0 L1049.3,1054.8 L1050.9,1055.7 L1052.5,1056.6 L1054.0,1057.5 L1055.6,1058.4 L1057.2,1059.2 L1058.8,1060.1 L1060.3,1061.0 L1061.9,1061.8 L1063.5,1062.7 L1065.1,1063.5 L1066.7,1064.3 L1068.2,1065.1 L1069.8,1065.9 L1071.4,1066.7 L1073.0,1067.4 L1074.5,1068.2 L1076.1,1068.9 L1077.7,1069.6 L1079.3,1070.3 L1080.9,1071.0 L1082.4,1071.6 L1084.0,1072.3 L1085.6,1072.9 L1087.2,1073.5 L1088.7,1074.0 L1090.3,1074.6 L1091.9,1075.1 L1093.5,1075.7 L1095.0,1076.2 L1096.6,1076.7 L1098.2,1077.1 L1099.8,1077.6 L1101.4,1078.0 L1102.9,1078.4 L1104.5,1078.8 L1106.1,1079.2 L1107.7,1079.6 L1109.2,1079.9 L1110.8,1080.3 L1112.4,1080.6 L1114.0,1080.9 L1115.5,1081.2 L1117.1,1081.4 L1118.7,1081.7 L1120.3,1081.9 L1121.9,1082.2 L1123.4,1082.4 L1125.0,1082.6 L1126.6,1082.8 L1128.2,1083.0 L1129.7,1083.2 L1131.3,1083.3 L1132.9,1083.5 L1134.5,1083.6 L1136.1,1083.8 L1137.6,1083.9 L1139.2,1084.0 L1140.8,1084.1 L1142.4,1084.2 L1143.9,1084.4 L1145.5,1084.4 L1147.1,1084.5 L1148.7,1084.6 L1150.2,1084.7 L1151.8,1084.8 L1153.4,1084.9 L1155.0,1084.9 L1156.6,1085.0 L1158.1,1085.1 L1159.7,1085.1 L1161.3,1085.2 L1162.9,1085.3 L1164.4,1085.3 L1166.0,1085.4 L1167.6,1085.4 L1169.2,1085.5 L1170.8,1085.5 L1172.3,1085.6 L1173.9,1085.6 L1175.5,1085.6 L1177.1,1085.7 L1178.6,1085.7 L1180.2,1085.8 L1181.8,1085.8 L1183.4,1085.8 L1184.9,1085.9 L1186.5,1085.9 L1188.1,1085.9 L1189.7,1086.0 L1191.3,1086.0 L1192.8,1086.0 L1194.4,1086.0 L1196.0,1086.1 L1197.6,1086.1 L1199.1,1086.1 L1200.7,1086.2 L1202.3,1086.2 L1203.9,1086.2 L1205.5,1086.2 L1207.0,1086.3 L1208.6,1086.3 L1210.2,1086.3 L1211.8,1086.3 L1213.3,1086.3 L1214.9,1086.3 L1216.5,1086.4 L1218.1,1086.4 L1219.6,1086.4 L1221.2,1086.4 L1222.8,1086.4 L1224.4,1086.4 L1226.0,1086.4 L1227.5,1086.4 L1229.1,1086.4 L1230.7,1086.4 L1232.3,1086.4 L1233.8,1086.4 L1235.4,1086.4 L1237.0,1086.3 L1238.6,1086.3 L1240.2,1086.3 L1241.7,1086.3 L1243.3,1086.2 L1244.9,1086.2 L1246.5,1086.2 L1248.0,1086.1 L1249.6,1086.1 L1251.2,1086.0 L1252.8,1086.0 L1254.3,1085.9 L1255.9,1085.9 L1257.5,1085.9 L1259.1,1085.8 L1260.7,1085.8 L1262.2,1085.7 L1263.8,1085.7 L1265.4,1085.6 L1267.0,1085.6 L1268.5,1085.5 L1270.1,1085.5 L1271.7,1085.5 L1273.3,1085.4 L1274.9,1085.4 L1276.4,1085.4 L1278.0,1085.4 L1279.6,1085.4 L1281.2,1085.4 L1282.7,1085.4 L1284.3,1085.4 L1285.9,1085.4 L1287.5,1085.4 L1289.0,1085.4 L1290.6,1085.5 L1292.2,1085.5 L1293.8,1085.6 L1295.4,1085.6 L1296.9,1085.7 L1298.5,1085.7 L1300.1,1085.8 L1301.7,1085.8 L1303.2,1085.9 L1304.8,1086.0 L1306.4,1086.0 L1308.0,1086.1 L1309.6,1086.2 L1311.1,1086.2 L1312.7,1086.3 L1314.3,1086.4 L1315.9,1086.5 L1317.4,1086.6 L1319.0,1086.7 L1320.6,1086.8 L1322.2,1086.8 L1323.7,1086.9 L1325.3,1087.0 L1326.9,1087.1 L1328.5,1087.2 L1330.1,1087.3 L1331.6,1087.4 L1333.2,1087.5 L1334.8,1087.6 L1336.4,1087.7 L1337.9,1087.7 L1339.5,1087.8 L1341.1,1087.9 L1342.7,1088.0 L1344.3,1088.1 L1345.8,1088.2 L1347.4,1088.2 L1349.0,1088.3 L1350.6,1088.4 L1352.1,1088.5 L1353.7,1088.5 L1355.3,1088.6 L1356.9,1088.7 L1358.4,1088.8 L1360.0,1088.8 L1361.6,1088.9 L1363.2,1089.0 L1364.8,1089.0 L1366.3,1089.1 L1367.9,1089.1 L1369.5,1089.2 L1371.1,1089.2 L1372.6,1089.3 L1374.2,1089.3 L1375.8,1089.4 L1377.4,1089.4 L1379.0,1089.5 L1380.5,1089.5 L1382.1,1089.6 L1383.7,1089.6 L1385.3,1089.7 L1386.8,1089.7 L1388.4,1089.7 L1390.0,1089.8 L1391.6,1089.8 L1393.1,1089.9 L1394.7,1089.9 L1396.3,1089.9 L1397.9,1090.0 L1399.5,1090.0 L1401.0,1090.0 L1402.6,1090.1 L1404.2,1090.1 L1405.8,1090.1 L1407.3,1090.2 L1408.9,1090.2 L1410.5,1090.2 L1412.1,1090.3 L1413.7,1090.3 L1415.2,1090.3 L1416.8,1090.3 L1418.4,1090.4 L1420.0,1090.4 L1421.5,1090.4 L1423.1,1090.5 L1424.7,1090.5 L1426.3,1090.5 L1427.8,1090.5 L1429.4,1090.6 L1431.0,1090.6" fill="none" stroke="#000" stroke-width="2.4" stroke-linejoin="round"/>
<text x="816.6" y="1085.0" font-size="35.3" fill="#000" >1:1</text>
<path d="M901.0,1181.0 L901.0,1176.9 L902.6,1176.7 L904.2,1176.6 L905.8,1176.4 L907.4,1176.2 L908.9,1176.1 L910.5,1175.9 L912.1,1175.7 L913.7,1175.5 L915.2,1175.2 L916.8,1175.0 L918.4,1174.7 L920.0,1174.4 L921.5,1174.1 L923.1,1173.8 L924.7,1173.4 L926.3,1173.0 L927.9,1172.5 L929.4,1172.0 L931.0,1171.5 L932.6,1170.9 L934.2,1170.4 L935.7,1169.8 L937.3,1169.1 L938.9,1168.3 L940.5,1167.5 L942.1,1166.6 L943.6,1165.5 L945.2,1164.4 L946.8,1163.2 L948.4,1161.8 L949.9,1160.4 L951.5,1158.8 L953.1,1157.2 L954.7,1155.4 L956.2,1153.5 L957.8,1151.5 L959.4,1149.4 L961.0,1147.1 L962.6,1144.8 L964.1,1142.4 L965.7,1140.0 L967.3,1137.4 L968.9,1134.9 L970.4,1132.2 L972.0,1129.6 L973.6,1127.0 L975.2,1124.4 L976.8,1121.8 L978.3,1119.2 L979.9,1116.8 L981.5,1114.4 L983.1,1112.2 L984.6,1110.1 L986.2,1108.1 L987.8,1106.3 L989.4,1104.8 L990.9,1103.4 L992.5,1102.2 L994.1,1101.3 L995.7,1100.6 L997.3,1100.2 L998.8,1100.0 L1000.4,1100.0 L1002.0,1100.1 L1003.6,1100.3 L1005.1,1100.5 L1006.7,1100.8 L1008.3,1101.2 L1009.9,1101.6 L1011.5,1102.2 L1013.0,1102.8 L1014.6,1103.4 L1016.2,1104.1 L1017.8,1104.9 L1019.3,1105.7 L1020.9,1106.6 L1022.5,1107.6 L1024.1,1108.6 L1025.6,1109.7 L1027.2,1110.8 L1028.8,1111.9 L1030.4,1113.1 L1032.0,1114.3 L1033.5,1115.5 L1035.1,1116.8 L1036.7,1118.1 L1038.3,1119.5 L1039.8,1120.8 L1041.4,1122.2 L1043.0,1123.6 L1044.6,1125.0 L1046.2,1126.4 L1047.7,1127.8 L1049.3,1129.2 L1050.9,1130.7 L1052.5,1132.1 L1054.0,1133.5 L1055.6,1134.9 L1057.2,1136.3 L1058.8,1137.6 L1060.3,1139.0 L1061.9,1140.3 L1063.5,1141.7 L1065.1,1143.0 L1066.7,1144.2 L1068.2,1145.5 L1069.8,1146.7 L1071.4,1147.9 L1073.0,1149.1 L1074.5,1150.2 L1076.1,1151.3 L1077.7,1152.4 L1079.3,1153.5 L1080.9,1154.5 L1082.4,1155.5 L1084.0,1156.4 L1085.6,1157.3 L1087.2,1158.2 L1088.7,1159.0 L1090.3,1159.9 L1091.9,1160.7 L1093.5,1161.4 L1095.0,1162.2 L1096.6,1162.9 L1098.2,1163.6 L1099.8,1164.2 L1101.4,1164.8 L1102.9,1165.4 L1104.5,1166.0 L1106.1,1166.5 L1107.7,1167.0 L1109.2,1167.5 L1110.8,1168.0 L1112.4,1168.4 L1114.0,1168.8 L1115.5,1169.2 L1117.1,1169.5 L1118.7,1169.9 L1120.3,1170.2 L1121.9,1170.5 L1123.4,1170.8 L1125.0,1171.1 L1126.6,1171.3 L1128.2,1171.5 L1129.7,1171.8 L1131.3,1172.0 L1132.9,1172.2 L1134.5,1172.4 L1136.1,1172.5 L1137.6,1172.7 L1139.2,1172.8 L1140.8,1173.0 L1142.4,1173.1 L1143.9,1173.2 L1145.5,1173.3 L1147.1,1173.5 L1148.7,1173.6 L1150.2,1173.7 L1151.8,1173.7 L1153.4,1173.8 L1153.4,1173.8 Z" fill="#8e2890"/>
<path d="M1192.8,1174.8 L1192.8,1174.8 L1194.4,1174.8 L1196.0,1174.7 L1197.6,1174.6 L1199.1,1174.5 L1200.7,1174.4 L1202.3,1174.2 L1203.9,1174.0 L1205.5,1173.8 L1207.0,1173.5 L1208.6,1173.2 L1210.2,1172.8 L1211.8,1172.4 L1213.3,1172.0 L1214.9,1171.5 L1216.5,1170.9 L1218.1,1170.3 L1219.6,1169.7 L1221.2,1169.0 L1222.8,1168.4 L1224.4,1167.7 L1226.0,1167.0 L1227.5,1166.4 L1229.1,1165.8 L1230.7,1165.2 L1232.3,1164.7 L1233.8,1164.3 L1235.4,1163.9 L1237.0,1163.7 L1238.6,1163.5 L1240.2,1163.5 L1241.7,1163.5 L1243.3,1163.6 L1244.9,1163.6 L1246.5,1163.7 L1248.0,1163.9 L1249.6,1164.0 L1251.2,1164.2 L1252.8,1164.4 L1254.3,1164.6 L1255.9,1164.9 L1257.5,1165.1 L1259.1,1165.4 L1260.7,1165.7 L1262.2,1166.0 L1263.8,1166.3 L1265.4,1166.6 L1267.0,1166.9 L1268.5,1167.3 L1270.1,1167.6 L1271.7,1168.0 L1273.3,1168.4 L1274.9,1168.7 L1276.4,1169.1 L1278.0,1169.4 L1279.6,1169.8 L1281.2,1170.2 L1282.7,1170.5 L1284.3,1170.9 L1285.9,1171.2 L1287.5,1171.6 L1289.0,1171.9 L1290.6,1172.2 L1292.2,1172.5 L1293.8,1172.8 L1295.4,1173.1 L1296.9,1173.4 L1298.5,1173.7 L1300.1,1174.0 L1301.7,1174.2 L1303.2,1174.5 L1304.8,1174.7 L1306.4,1174.9 L1308.0,1175.2 L1309.6,1175.4 L1311.1,1175.6 L1312.7,1175.7 L1314.3,1175.9 L1315.9,1176.1 L1317.4,1176.2 L1319.0,1176.4 L1320.6,1176.5 L1322.2,1176.6 L1323.7,1176.8 L1325.3,1176.9 L1326.9,1177.0 L1328.5,1177.1 L1330.1,1177.2 L1331.6,1177.3 L1333.2,1177.4 L1334.8,1177.4 L1336.4,1177.5 L1337.9,1177.6 L1339.5,1177.7 L1341.1,1177.7 L1342.7,1177.8 L1344.3,1177.8 L1345.8,1177.9 L1347.4,1177.9 L1349.0,1178.0 L1350.6,1178.0 L1352.1,1178.1 L1353.7,1178.1 L1355.3,1178.2 L1356.9,1178.2 L1358.4,1178.3 L1360.0,1178.3 L1361.6,1178.3 L1363.2,1178.4 L1364.8,1178.4 L1366.3,1178.4 L1367.9,1178.5 L1369.5,1178.5 L1371.1,1178.5 L1372.6,1178.6 L1374.2,1178.6 L1375.8,1178.6 L1377.4,1178.7 L1379.0,1178.7 L1380.5,1178.7 L1382.1,1178.7 L1383.7,1178.8 L1385.3,1178.8 L1386.8,1178.8 L1388.4,1178.9 L1390.0,1178.9 L1391.6,1178.9 L1393.1,1178.9 L1394.7,1179.0 L1396.3,1179.0 L1397.9,1179.0 L1399.5,1179.1 L1401.0,1179.1 L1402.6,1179.1 L1404.2,1179.1 L1405.8,1179.2 L1407.3,1179.2 L1408.9,1179.2 L1410.5,1179.2 L1412.1,1179.3 L1413.7,1179.3 L1415.2,1179.3 L1416.8,1179.4 L1418.4,1179.4 L1418.4,1179.4 Z" fill="#fdb22c"/>
<path d="M800.1,1182.5 L801.7,1182.5 L803.3,1182.5 L804.8,1182.5 L806.4,1182.5 L808.0,1182.5 L809.6,1182.5 L811.1,1182.5 L812.7,1182.5 L814.3,1182.5 L815.9,1182.5 L817.4,1182.5 L819.0,1182.5 L820.6,1182.5 L822.2,1182.5 L823.8,1182.5 L825.3,1182.5 L826.9,1182.5 L828.5,1182.5 L830.1,1182.5 L831.6,1182.5 L833.2,1182.5 L834.8,1182.4 L836.4,1182.2 L838.0,1182.1 L839.5,1182.0 L841.1,1181.8 L842.7,1181.7 L844.3,1181.6 L845.8,1181.5 L847.4,1181.3 L849.0,1181.2 L850.6,1181.1 L852.1,1180.9 L853.7,1180.8 L855.3,1180.7 L856.9,1180.6 L858.5,1180.4 L860.0,1180.3 L861.6,1180.2 L863.2,1180.1 L864.8,1179.9 L866.3,1179.8 L867.9,1179.7 L869.5,1179.5 L871.1,1179.4 L872.7,1179.3 L874.2,1179.2 L875.8,1179.0 L877.4,1178.9 L879.0,1178.8 L880.5,1178.6 L882.1,1178.5 L883.7,1178.4 L885.3,1178.2 L886.8,1178.1 L888.4,1178.0 L890.0,1177.9 L891.6,1177.7 L893.2,1177.6 L894.7,1177.5 L896.3,1177.3 L897.9,1177.2 L899.5,1177.0 L901.0,1176.9 L902.6,1176.7 L904.2,1176.6 L905.8,1176.4 L907.4,1176.2 L908.9,1176.1 L910.5,1175.9 L912.1,1175.7 L913.7,1175.5 L915.2,1175.2 L916.8,1175.0 L918.4,1174.7 L920.0,1174.4 L921.5,1174.1 L923.1,1173.8 L924.7,1173.4 L926.3,1173.0 L927.9,1172.5 L929.4,1172.0 L931.0,1171.5 L932.6,1170.9 L934.2,1170.4 L935.7,1169.8 L937.3,1169.1 L938.9,1168.3 L940.5,1167.5 L942.1,1166.6 L943.6,1165.5 L945.2,1164.4 L946.8,1163.2 L948.4,1161.8 L949.9,1160.4 L951.5,1158.8 L953.1,1157.2 L954.7,1155.4 L956.2,1153.5 L957.8,1151.5 L959.4,1149.4 L961.0,1147.1 L962.6,1144.8 L964.1,1142.4 L965.7,1140.0 L967.3,1137.4 L968.9,1134.9 L970.4,1132.2 L972.0,1129.6 L973.6,1127.0 L975.2,1124.4 L976.8,1121.8 L978.3,1119.2 L979.9,1116.8 L981.5,1114.4 L983.1,1112.2 L984.6,1110.1 L986.2,1108.1 L987.8,1106.3 L989.4,1104.8 L990.9,1103.4 L992.5,1102.2 L994.1,1101.3 L995.7,1100.6 L997.3,1100.2 L998.8,1100.0 L1000.4,1100.0 L1002.0,1100.1 L1003.6,1100.3 L1005.1,1100.5 L1006.7,1100.8 L1008.3,1101.2 L1009.9,1101.6 L1011.5,1102.2 L1013.0,1102.8 L1014.6,1103.4 L1016.2,1104.1 L1017.8,1104.9 L1019.3,1105.7 L1020.9,1106.6 L1022.5,1107.6 L1024.1,1108.6 L1025.6,1109.7 L1027.2,1110.8 L1028.8,1111.9 L1030.4,1113.1 L1032.0,1114.3 L1033.5,1115.5 L1035.1,1116.8 L1036.7,1118.1 L1038.3,1119.5 L1039.8,1120.8 L1041.4,1122.2 L1043.0,1123.6 L1044.6,1125.0 L1046.2,1126.4 L1047.7,1127.8 L1049.3,1129.2 L1050.9,1130.7 L1052.5,1132.1 L1054.0,1133.5 L1055.6,1134.9 L1057.2,1136.3 L1058.8,1137.6 L1060.3,1139.0 L1061.9,1140.3 L1063.5,1141.7 L1065.1,1143.0 L1066.7,1144.2 L1068.2,1145.5 L1069.8,1146.7 L1071.4,1147.9 L1073.0,1149.1 L1074.5,1150.2 L1076.1,1151.3 L1077.7,1152.4 L1079.3,1153.5 L1080.9,1154.5 L1082.4,1155.5 L1084.0,1156.4 L1085.6,1157.3 L1087.2,1158.2 L1088.7,1159.0 L1090.3,1159.9 L1091.9,1160.7 L1093.5,1161.4 L1095.0,1162.2 L1096.6,1162.9 L1098.2,1163.6 L1099.8,1164.2 L1101.4,1164.8 L1102.9,1165.4 L1104.5,1166.0 L1106.1,1166.5 L1107.7,1167.0 L1109.2,1167.5 L1110.8,1168.0 L1112.4,1168.4 L1114.0,1168.8 L1115.5,1169.2 L1117.1,1169.5 L1118.7,1169.9 L1120.3,1170.2 L1121.9,1170.5 L1123.4,1170.8 L1125.0,1171.1 L1126.6,1171.3 L1128.2,1171.5 L1129.7,1171.8 L1131.3,1172.0 L1132.9,1172.2 L1134.5,1172.4 L1136.1,1172.5 L1137.6,1172.7 L1139.2,1172.8 L1140.8,1173.0 L1142.4,1173.1 L1143.9,1173.2 L1145.5,1173.3 L1147.1,1173.5 L1148.7,1173.6 L1150.2,1173.7 L1151.8,1173.7 L1153.4,1173.8 L1155.0,1173.9 L1156.6,1174.0 L1158.1,1174.1 L1159.7,1174.1 L1161.3,1174.2 L1162.9,1174.2 L1164.4,1174.3 L1166.0,1174.4 L1167.6,1174.4 L1169.2,1174.5 L1170.8,1174.5 L1172.3,1174.6 L1173.9,1174.6 L1175.5,1174.6 L1177.1,1174.7 L1178.6,1174.7 L1180.2,1174.7 L1181.8,1174.8 L1183.4,1174.8 L1184.9,1174.8 L1186.5,1174.8 L1188.1,1174.8 L1189.7,1174.8 L1191.3,1174.8 L1192.8,1174.8 L1194.4,1174.8 L1196.0,1174.7 L1197.6,1174.6 L1199.1,1174.5 L1200.7,1174.4 L1202.3,1174.2 L1203.9,1174.0 L1205.5,1173.8 L1207.0,1173.5 L1208.6,1173.2 L1210.2,1172.8 L1211.8,1172.4 L1213.3,1172.0 L1214.9,1171.5 L1216.5,1170.9 L1218.1,1170.3 L1219.6,1169.7 L1221.2,1169.0 L1222.8,1168.4 L1224.4,1167.7 L1226.0,1167.0 L1227.5,1166.4 L1229.1,1165.8 L1230.7,1165.2 L1232.3,1164.7 L1233.8,1164.3 L1235.4,1163.9 L1237.0,1163.7 L1238.6,1163.5 L1240.2,1163.5 L1241.7,1163.5 L1243.3,1163.6 L1244.9,1163.6 L1246.5,1163.7 L1248.0,1163.9 L1249.6,1164.0 L1251.2,1164.2 L1252.8,1164.4 L1254.3,1164.6 L1255.9,1164.9 L1257.5,1165.1 L1259.1,1165.4 L1260.7,1165.7 L1262.2,1166.0 L1263.8,1166.3 L1265.4,1166.6 L1267.0,1166.9 L1268.5,1167.3 L1270.1,1167.6 L1271.7,1168.0 L1273.3,1168.4 L1274.9,1168.7 L1276.4,1169.1 L1278.0,1169.4 L1279.6,1169.8 L1281.2,1170.2 L1282.7,1170.5 L1284.3,1170.9 L1285.9,1171.2 L1287.5,1171.6 L1289.0,1171.9 L1290.6,1172.2 L1292.2,1172.5 L1293.8,1172.8 L1295.4,1173.1 L1296.9,1173.4 L1298.5,1173.7 L1300.1,1174.0 L1301.7,1174.2 L1303.2,1174.5 L1304.8,1174.7 L1306.4,1174.9 L1308.0,1175.2 L1309.6,1175.4 L1311.1,1175.6 L1312.7,1175.7 L1314.3,1175.9 L1315.9,1176.1 L1317.4,1176.2 L1319.0,1176.4 L1320.6,1176.5 L1322.2,1176.6 L1323.7,1176.8 L1325.3,1176.9 L1326.9,1177.0 L1328.5,1177.1 L1330.1,1177.2 L1331.6,1177.3 L1333.2,1177.4 L1334.8,1177.4 L1336.4,1177.5 L1337.9,1177.6 L1339.5,1177.7 L1341.1,1177.7 L1342.7,1177.8 L1344.3,1177.8 L1345.8,1177.9 L1347.4,1177.9 L1349.0,1178.0 L1350.6,1178.0 L1352.1,1178.1 L1353.7,1178.1 L1355.3,1178.2 L1356.9,1178.2 L1358.4,1178.3 L1360.0,1178.3 L1361.6,1178.3 L1363.2,1178.4 L1364.8,1178.4 L1366.3,1178.4 L1367.9,1178.5 L1369.5,1178.5 L1371.1,1178.5 L1372.6,1178.6 L1374.2,1178.6 L1375.8,1178.6 L1377.4,1178.7 L1379.0,1178.7 L1380.5,1178.7 L1382.1,1178.7 L1383.7,1178.8 L1385.3,1178.8 L1386.8,1178.8 L1388.4,1178.9 L1390.0,1178.9 L1391.6,1178.9 L1393.1,1178.9 L1394.7,1179.0 L1396.3,1179.0 L1397.9,1179.0 L1399.5,1179.1 L1401.0,1179.1 L1402.6,1179.1 L1404.2,1179.1 L1405.8,1179.2 L1407.3,1179.2 L1408.9,1179.2 L1410.5,1179.2 L1412.1,1179.3 L1413.7,1179.3 L1415.2,1179.3 L1416.8,1179.4 L1418.4,1179.4 L1420.0,1179.4 L1421.5,1179.4 L1423.1,1179.5 L1424.7,1179.5 L1426.3,1179.5 L1427.8,1179.5 L1429.4,1179.6 L1431.0,1179.6" fill="none" stroke="#000" stroke-width="2.4" stroke-linejoin="round"/>
<text x="816.6" y="1173.6" font-size="35.3" fill="#000" >1:2</text>
<path d="M800.1,977.6 L800.1,1196.5 L1431.5,1196.5" fill="none" stroke="#000" stroke-width="2.8"/>
<line x1="873.7" y1="1196.5" x2="873.7" y2="1208.0" stroke="#000" stroke-width="2.6" />
<text x="873.7" y="1240.0" font-size="35.3" text-anchor="middle" fill="#000" >10</text>
<line x1="1115.1" y1="1196.5" x2="1115.1" y2="1208.0" stroke="#000" stroke-width="2.6" />
<text x="1115.1" y="1240.0" font-size="35.3" text-anchor="middle" fill="#000" >15</text>
<line x1="1356.4" y1="1196.5" x2="1356.4" y2="1208.0" stroke="#000" stroke-width="2.6" />
<text x="1356.4" y="1240.0" font-size="35.3" text-anchor="middle" fill="#000" >20</text>
<text x="1112.0" y="1278.0" font-size="35.3" text-anchor="middle" fill="#000" >Elution volume (mL)</text>
<text x="0" y="1334" font-size="32" font-weight="bold" stroke="#000" stroke-width="1.7" stroke-linejoin="round" transform="translate(0,0) scale(1.18,1) translate(0,0)">e</text>
<line x1="102.6" y1="1492.4" x2="731.5" y2="1492.4" stroke="#7f7f7f" stroke-width="2.9" stroke-dasharray="10.7,4.8"/>
<path d="M122.1,1693.9 L171.2,1700.6 L220.4,1716.8 L269.5,1724.8 L318.6,1714.9 L367.8,1715.4 L416.9,1704.7 L515.2,1677.8" fill="none" stroke="#808080" stroke-width="2.7"/>
<path d="M122.1,1583.8 L171.2,1622.2 L220.4,1673.2 L269.5,1700.4 L318.6,1714.9 L367.8,1681.8 L416.9,1637.5 L515.2,1556.9" fill="none" stroke="#808080" stroke-width="2.7" stroke-dasharray="2.7,4.6"/>
<polygon points="122.1,1571.4 134.7,1580.5 129.9,1595.2 114.3,1595.2 109.5,1580.5" fill="#ffa500" />
<polygon points="171.2,1609.8 183.8,1618.9 179.0,1633.7 163.5,1633.7 158.7,1618.9" fill="#ffa500" />
<polygon points="220.4,1660.8 232.9,1670.0 228.1,1684.7 212.6,1684.7 207.8,1670.0" fill="#ffa500" />
<polygon points="269.5,1688.0 282.1,1697.1 277.3,1711.9 261.8,1711.9 257.0,1697.1" fill="#ffa500" />
<polygon points="318.6,1703.0 331.2,1712.1 326.4,1726.9 310.9,1726.9 306.1,1712.1" fill="#ffa500" />
<polygon points="367.8,1703.0 380.3,1712.1 375.5,1726.9 360.0,1726.9 355.2,1712.1" fill="#ffa500" />
<polygon points="416.9,1692.3 429.5,1701.4 424.7,1716.2 409.2,1716.2 404.4,1701.4" fill="#ffa500" />
<polygon points="515.2,1665.4 527.8,1674.5 523.0,1689.3 507.4,1689.3 502.6,1674.5" fill="#ffa500" />
<polygon points="711.8,1604.1 724.3,1613.3 719.5,1628.0 704.0,1628.0 699.2,1613.3" fill="#ffa500" />
<polygon points="108.8,1683.6 135.3,1683.6 122.1,1710.1" fill="#ffa500" />
<polygon points="158.0,1690.3 184.5,1690.3 171.2,1716.8" fill="#ffa500" />
<polygon points="207.1,1706.4 233.6,1706.4 220.4,1732.9" fill="#ffa500" />
<polygon points="256.3,1714.5 282.8,1714.5 269.5,1741.0" fill="#ffa500" />
<polygon points="305.4,1703.7 331.9,1703.7 318.6,1730.2" fill="#ffa500" />
<polygon points="354.5,1671.5 381.0,1671.5 367.8,1698.0" fill="#ffa500" />
<polygon points="403.7,1627.2 430.2,1627.2 416.9,1653.7" fill="#ffa500" />
<polygon points="502.0,1546.6 528.5,1546.6 515.2,1573.1" fill="#ffa500" />
<polygon points="698.5,1388.8 725.0,1388.8 711.8,1415.3" fill="#ffa500" />
<polygon points="122.1,1748.7 134.7,1757.8 129.9,1772.6 114.3,1772.6 109.5,1757.8" fill="#057c05" />
<polygon points="171.2,1674.8 183.8,1683.9 179.0,1698.7 163.5,1698.7 158.7,1683.9" fill="#057c05" />
<polygon points="220.4,1614.3 232.9,1623.5 228.1,1638.2 212.6,1638.2 207.8,1623.5" fill="#057c05" />
<polygon points="269.5,1560.6 282.1,1569.7 277.3,1584.5 261.8,1584.5 257.0,1569.7" fill="#057c05" />
<polygon points="318.6,1533.7 331.2,1542.9 326.4,1557.6 310.9,1557.6 306.1,1542.9" fill="#057c05" />
<polygon points="367.8,1521.6 380.3,1530.8 375.5,1545.5 360.0,1545.5 355.2,1530.8" fill="#057c05" />
<polygon points="416.9,1519.0 429.5,1528.1 424.7,1542.8 409.2,1542.8 404.4,1528.1" fill="#057c05" />
<polygon points="515.2,1506.9 527.8,1516.0 523.0,1530.7 507.4,1530.7 502.6,1516.0" fill="#057c05" />
<polygon points="711.8,1516.3 724.3,1525.4 719.5,1540.2 704.0,1540.2 699.2,1525.4" fill="#057c05" />
<polygon points="108.8,1750.8 135.3,1750.8 122.1,1777.3" fill="#057c05" />
<polygon points="158.0,1687.6 184.5,1687.6 171.2,1714.1" fill="#057c05" />
<polygon points="207.1,1620.4 233.6,1620.4 220.4,1646.9" fill="#057c05" />
<polygon points="256.3,1565.4 282.8,1565.4 269.5,1591.9" fill="#057c05" />
<polygon points="305.4,1522.4 331.9,1522.4 318.6,1548.9" fill="#057c05" />
<polygon points="354.5,1522.4 381.0,1522.4 367.8,1548.9" fill="#057c05" />
<polygon points="403.7,1508.9 430.2,1508.9 416.9,1535.4" fill="#057c05" />
<polygon points="502.0,1513.0 528.5,1513.0 515.2,1539.5" fill="#057c05" />
<polygon points="698.5,1507.6 725.0,1507.6 711.8,1534.1" fill="#057c05" />
<path d="M115.1,1762.4 H129.1 M115.1,1759.8 H129.1 M122.1,1762.4 V1759.8" stroke="#000" stroke-width="2.6" fill="none"/>
<path d="M164.2,1707.4 H178.2 M164.2,1691.2 H178.2 M171.2,1707.4 V1691.2" stroke="#000" stroke-width="2.6" fill="none"/>
<path d="M213.4,1637.5 H227.4 M213.4,1622.7 H227.4 M220.4,1637.5 V1622.7" stroke="#000" stroke-width="2.6" fill="none"/>
<path d="M262.5,1590.5 H276.5 M262.5,1558.2 H276.5 M269.5,1590.5 V1558.2" stroke="#000" stroke-width="2.6" fill="none"/>
<path d="M311.6,1556.9 H325.6 M311.6,1522.0 H325.6 M318.6,1556.9 V1522.0" stroke="#000" stroke-width="2.6" fill="none"/>
<path d="M360.8,1546.1 H374.8 M360.8,1522.0 H374.8 M367.8,1546.1 V1522.0" stroke="#000" stroke-width="2.6" fill="none"/>
<path d="M409.9,1538.1 H423.9 M409.9,1509.9 H423.9 M416.9,1538.1 V1509.9" stroke="#000" stroke-width="2.6" fill="none"/>
<path d="M508.2,1535.4 H522.2 M508.2,1505.8 H522.2 M515.2,1535.4 V1505.8" stroke="#000" stroke-width="2.6" fill="none"/>
<path d="M704.8,1538.1 H718.8 M704.8,1505.8 H718.8 M711.8,1538.1 V1505.8" stroke="#000" stroke-width="2.6" fill="none"/>
<path d="M115.1,1590.5 H129.1 M115.1,1575.7 H129.1 M122.1,1590.5 V1575.7" stroke="#000" stroke-width="2.6" fill="none"/>
<path d="M164.2,1630.8 H178.2 M164.2,1612.0 H178.2 M171.2,1630.8 V1612.0" stroke="#000" stroke-width="2.6" fill="none"/>
<path d="M213.4,1679.1 H227.4 M213.4,1667.1 H227.4 M220.4,1679.1 V1667.1" stroke="#000" stroke-width="2.6" fill="none"/>
<path d="M262.5,1706.0 H276.5 M262.5,1695.3 H276.5 M269.5,1706.0 V1695.3" stroke="#000" stroke-width="2.6" fill="none"/>
<path d="M311.6,1720.8 H325.6 M311.6,1707.4 H325.6 M318.6,1720.8 V1707.4" stroke="#000" stroke-width="2.6" fill="none"/>
<path d="M360.8,1719.5 H374.8 M360.8,1711.4 H374.8 M367.8,1719.5 V1711.4" stroke="#000" stroke-width="2.6" fill="none"/>
<path d="M409.9,1710.0 H423.9 M409.9,1698.0 H423.9 M416.9,1710.0 V1698.0" stroke="#000" stroke-width="2.6" fill="none"/>
<path d="M508.2,1683.2 H522.2 M508.2,1672.4 H522.2 M515.2,1683.2 V1672.4" stroke="#000" stroke-width="2.6" fill="none"/>
<path d="M704.8,1625.4 H718.8 M704.8,1607.9 H718.8 M711.8,1625.4 V1607.9" stroke="#000" stroke-width="2.6" fill="none"/>
<path d="M115.1,1698.0 H129.1 M115.1,1689.9 H129.1 M122.1,1698.0 V1689.9" stroke="#000" stroke-width="2.6" fill="none"/>
<path d="M213.4,1722.1 H227.4 M213.4,1711.4 H227.4 M220.4,1722.1 V1711.4" stroke="#000" stroke-width="2.6" fill="none"/>
<path d="M262.5,1728.9 H276.5 M262.5,1720.8 H276.5 M269.5,1728.9 V1720.8" stroke="#000" stroke-width="2.6" fill="none"/>
<path d="M360.8,1688.6 H374.8 M360.8,1675.1 H374.8 M367.8,1688.6 V1675.1" stroke="#000" stroke-width="2.6" fill="none"/>
<path d="M409.9,1645.6 H423.9 M409.9,1628.1 H423.9 M416.9,1645.6 V1628.1" stroke="#000" stroke-width="2.6" fill="none"/>
<path d="M508.2,1570.3 H522.2 M508.2,1546.1 H522.2 M515.2,1570.3 V1546.1" stroke="#000" stroke-width="2.6" fill="none"/>
<path d="M704.8,1419.9 H718.8 M704.8,1379.5 H718.8 M711.8,1419.9 V1379.5" stroke="#000" stroke-width="2.6" fill="none"/>
<path d="M102.6,1356.7 L102.6,1801.6 L731.5,1801.6" fill="none" stroke="#000" stroke-width="3"/>
<line x1="91.1" y1="1358.0" x2="102.6" y2="1358.0" stroke="#000" stroke-width="2.6" />
<text x="87.6" y="1370.8" font-size="35.3" text-anchor="end" fill="#000" >1.5</text>
<line x1="91.1" y1="1492.4" x2="102.6" y2="1492.4" stroke="#000" stroke-width="2.6" />
<text x="87.6" y="1505.2" font-size="35.3" text-anchor="end" fill="#000" >1</text>
<line x1="91.1" y1="1626.8" x2="102.6" y2="1626.8" stroke="#000" stroke-width="2.6" />
<text x="87.6" y="1639.5" font-size="35.3" text-anchor="end" fill="#000" >0.5</text>
<line x1="91.1" y1="1761.1" x2="102.6" y2="1761.1" stroke="#000" stroke-width="2.6" />
<text x="87.6" y="1773.9" font-size="35.3" text-anchor="end" fill="#000" >0</text>
<line x1="122.1" y1="1801.6" x2="122.1" y2="1813.6" stroke="#000" stroke-width="2.6" />
<text x="122.1" y="1841.6" font-size="35.3" text-anchor="middle" fill="#000" >0</text>
<line x1="220.4" y1="1801.6" x2="220.4" y2="1813.6" stroke="#000" stroke-width="2.6" />
<text x="220.4" y="1841.6" font-size="35.3" text-anchor="middle" fill="#000" >25</text>
<line x1="318.6" y1="1801.6" x2="318.6" y2="1813.6" stroke="#000" stroke-width="2.6" />
<text x="318.6" y="1841.6" font-size="35.3" text-anchor="middle" fill="#000" >50</text>
<line x1="416.9" y1="1801.6" x2="416.9" y2="1813.6" stroke="#000" stroke-width="2.6" />
<text x="416.9" y="1841.6" font-size="35.3" text-anchor="middle" fill="#000" >75</text>
<line x1="515.2" y1="1801.6" x2="515.2" y2="1813.6" stroke="#000" stroke-width="2.6" />
<text x="515.2" y="1841.6" font-size="35.3" text-anchor="middle" fill="#000" >100</text>
<line x1="711.8" y1="1801.6" x2="711.8" y2="1813.6" stroke="#000" stroke-width="2.6" />
<text x="711.8" y="1841.6" font-size="35.3" text-anchor="middle" fill="#000" >150</text>
<text x="220.4" y="1793.1" font-size="35.3" text-anchor="middle" fill="#000" >0.5:1</text>
<text x="318.6" y="1793.1" font-size="35.3" text-anchor="middle" fill="#000" >1:1</text>
<text x="416.9" y="1793.1" font-size="35.3" text-anchor="middle" fill="#000" >1.5:1</text>
<text x="515.2" y="1793.1" font-size="35.3" text-anchor="middle" fill="#000" >2:1</text>
<text x="711.8" y="1793.1" font-size="35.3" text-anchor="middle" fill="#000" >3:1</text>
<text x="416.7" y="1887.9" font-size="35.3" text-anchor="middle" fill="#000" >[Variable component] (µM)</text>
<text transform="translate(26.7,1581) rotate(-90)" font-size="35.3" text-anchor="middle">Normalized peak area</text>
<polygon points="123.0,1349.6 146.0,1349.6 134.5,1372.6" fill="#057c05" />
<polygon points="164.0,1349.6 175.0,1357.6 170.8,1370.6 157.2,1370.6 153.0,1357.6" fill="#057c05" />
<text x="183.0" y="1372.0" font-size="35.3" fill="#000" >Assembled I53-40</text>
<polygon points="123.0,1393.3 146.0,1393.3 134.5,1416.3" fill="#ffa500" />
<polygon points="164.0,1393.3 175.0,1401.3 170.8,1414.3 157.2,1414.3 153.0,1401.3" fill="#ffa500" />
<text x="183.0" y="1414.7" font-size="35.3" fill="#000" >Residual components</text>
<text x="738.5" y="1334" font-size="32" font-weight="bold" stroke="#000" stroke-width="1.7" stroke-linejoin="round" transform="translate(738.5,0) scale(1.18,1) translate(-738.5,0)">k</text>
<line x1="801.6" y1="1492.2" x2="1431.5" y2="1492.2" stroke="#7f7f7f" stroke-width="2.9" stroke-dasharray="10.7,4.8"/>
<path d="M820.6,1603.6 L869.7,1674.8 L918.8,1723.1 L967.9,1750.0 L1017.0,1751.3 L1066.2,1751.3 L1115.3,1740.6 L1213.5,1689.5" fill="none" stroke="#808080" stroke-width="2.7"/>
<path d="M820.6,1682.8 L869.7,1701.6 L918.8,1721.8 L967.9,1739.2 L1017.0,1748.6 L1066.2,1740.6 L1115.3,1720.4 L1213.5,1684.2" fill="none" stroke="#808080" stroke-width="2.7" stroke-dasharray="2.7,4.6"/>
<polygon points="807.4,1593.3 833.9,1593.3 820.6,1619.8" fill="#ffa500" />
<polygon points="856.5,1664.4 883.0,1664.4 869.7,1690.9" fill="#ffa500" />
<polygon points="905.6,1712.8 932.1,1712.8 918.8,1739.3" fill="#ffa500" />
<polygon points="954.7,1739.6 981.2,1739.6 967.9,1766.1" fill="#ffa500" />
<polygon points="1003.8,1741.0 1030.3,1741.0 1017.0,1767.5" fill="#ffa500" />
<polygon points="1052.9,1741.0 1079.4,1741.0 1066.2,1767.5" fill="#ffa500" />
<polygon points="1102.0,1730.2 1128.5,1730.2 1115.3,1756.7" fill="#ffa500" />
<polygon points="1200.2,1679.2 1226.8,1679.2 1213.5,1705.7" fill="#ffa500" />
<polygon points="1396.7,1594.6 1423.2,1594.6 1410.0,1621.1" fill="#ffa500" />
<polygon points="820.6,1670.4 833.2,1679.6 828.4,1694.3 812.8,1694.3 808.0,1679.6" fill="#ffa500" />
<polygon points="869.7,1689.2 882.3,1698.4 877.5,1713.1 862.0,1713.1 857.2,1698.4" fill="#ffa500" />
<polygon points="918.8,1709.4 931.4,1718.5 926.6,1733.2 911.1,1733.2 906.3,1718.5" fill="#ffa500" />
<polygon points="967.9,1726.8 980.5,1735.9 975.7,1750.7 960.2,1750.7 955.4,1735.9" fill="#ffa500" />
<polygon points="1017.0,1736.2 1029.6,1745.3 1024.8,1760.1 1009.3,1760.1 1004.5,1745.3" fill="#ffa500" />
<polygon points="1066.2,1728.2 1078.7,1737.3 1073.9,1752.0 1058.4,1752.0 1053.6,1737.3" fill="#ffa500" />
<polygon points="1115.3,1708.0 1127.8,1717.1 1123.0,1731.9 1107.5,1731.9 1102.7,1717.1" fill="#ffa500" />
<polygon points="1213.5,1671.8 1226.1,1680.9 1221.3,1695.7 1205.7,1695.7 1200.9,1680.9" fill="#ffa500" />
<polygon points="1410.0,1545.0 1422.5,1554.2 1417.7,1568.9 1402.2,1568.9 1397.4,1554.2" fill="#ffa500" />
<polygon points="807.4,1747.7 833.9,1747.7 820.6,1774.2" fill="#800080" />
<polygon points="856.5,1652.6 883.0,1652.6 869.7,1679.1" fill="#800080" />
<polygon points="905.6,1577.2 932.1,1577.2 918.8,1603.7" fill="#800080" />
<polygon points="954.7,1535.6 981.2,1535.6 967.9,1562.1" fill="#800080" />
<polygon points="1003.8,1491.8 1030.3,1491.8 1017.0,1518.3" fill="#800080" />
<polygon points="1052.9,1495.3 1079.4,1495.3 1066.2,1521.8" fill="#800080" />
<polygon points="1102.0,1487.2 1128.5,1487.2 1115.3,1513.7" fill="#800080" />
<polygon points="1200.2,1488.3 1226.8,1488.3 1213.5,1514.8" fill="#800080" />
<polygon points="1396.7,1488.3 1423.2,1488.3 1410.0,1514.8" fill="#800080" />
<polygon points="820.6,1745.6 833.2,1754.7 828.4,1769.5 812.8,1769.5 808.0,1754.7" fill="#800080" />
<polygon points="869.7,1685.5 882.3,1694.6 877.5,1709.4 862.0,1709.4 857.2,1694.6" fill="#800080" />
<polygon points="918.8,1622.1 931.4,1631.2 926.6,1646.0 911.1,1646.0 906.3,1631.2" fill="#800080" />
<polygon points="967.9,1552.3 980.5,1561.4 975.7,1576.2 960.2,1576.2 955.4,1561.4" fill="#800080" />
<polygon points="1017.0,1497.3 1029.6,1506.4 1024.8,1521.1 1009.3,1521.1 1004.5,1506.4" fill="#800080" />
<polygon points="1066.2,1459.7 1078.7,1468.8 1073.9,1483.5 1058.4,1483.5 1053.6,1468.8" fill="#800080" />
<polygon points="1115.3,1438.2 1127.8,1447.3 1123.0,1462.1 1107.5,1462.1 1102.7,1447.3" fill="#800080" />
<polygon points="1213.5,1412.1 1226.1,1421.3 1221.3,1436.0 1205.7,1436.0 1200.9,1421.3" fill="#800080" />
<polygon points="1410.0,1383.1 1422.5,1392.3 1417.7,1407.0 1402.2,1407.0 1397.4,1392.3" fill="#800080" />
<path d="M813.6,1763.4 H827.6 M813.6,1752.6 H827.6 M820.6,1763.4 V1752.6" stroke="#000" stroke-width="2.6" fill="none"/>
<path d="M862.7,1680.2 H876.7 M862.7,1653.3 H876.7 M869.7,1680.2 V1653.3" stroke="#000" stroke-width="2.6" fill="none"/>
<path d="M911.8,1621.1 H925.8 M911.8,1556.6 H925.8 M918.8,1621.1 V1556.6" stroke="#000" stroke-width="2.6" fill="none"/>
<path d="M960.9,1583.5 H974.9 M960.9,1509.7 H974.9 M967.9,1583.5 V1509.7" stroke="#000" stroke-width="2.6" fill="none"/>
<path d="M1010.0,1536.5 H1024.0 M1010.0,1477.4 H1024.0 M1017.0,1536.5 V1477.4" stroke="#000" stroke-width="2.6" fill="none"/>
<path d="M1059.2,1527.1 H1073.2 M1059.2,1486.8 H1073.2 M1066.2,1527.1 V1486.8" stroke="#000" stroke-width="2.6" fill="none"/>
<path d="M1108.3,1521.7 H1122.3 M1108.3,1477.4 H1122.3 M1115.3,1521.7 V1477.4" stroke="#000" stroke-width="2.6" fill="none"/>
<path d="M1206.5,1521.7 H1220.5 M1206.5,1480.1 H1220.5 M1213.5,1521.7 V1480.1" stroke="#000" stroke-width="2.6" fill="none"/>
<path d="M1403.0,1523.1 H1417.0 M1403.0,1477.4 H1417.0 M1410.0,1523.1 V1477.4" stroke="#000" stroke-width="2.6" fill="none"/>
<path d="M862.7,1707.0 H876.7 M862.7,1688.2 H876.7 M869.7,1707.0 V1688.2" stroke="#000" stroke-width="2.6" fill="none"/>
<path d="M911.8,1647.9 H925.8 M911.8,1621.1 H925.8 M918.8,1647.9 V1621.1" stroke="#000" stroke-width="2.6" fill="none"/>
<path d="M960.9,1591.5 H974.9 M960.9,1545.9 H974.9 M967.9,1591.5 V1545.9" stroke="#000" stroke-width="2.6" fill="none"/>
<path d="M1010.0,1535.2 H1024.0 M1010.0,1484.1 H1024.0 M1017.0,1535.2 V1484.1" stroke="#000" stroke-width="2.6" fill="none"/>
<path d="M1059.2,1497.6 H1073.2 M1059.2,1435.8 H1073.2 M1066.2,1497.6 V1435.8" stroke="#000" stroke-width="2.6" fill="none"/>
<path d="M1108.3,1478.8 H1122.3 M1108.3,1406.3 H1122.3 M1115.3,1478.8 V1406.3" stroke="#000" stroke-width="2.6" fill="none"/>
<path d="M1206.5,1465.3 H1220.5 M1206.5,1382.1 H1220.5 M1213.5,1465.3 V1382.1" stroke="#000" stroke-width="2.6" fill="none"/>
<path d="M1403.0,1437.2 H1417.0 M1403.0,1355.3 H1417.0 M1410.0,1437.2 V1355.3" stroke="#000" stroke-width="2.6" fill="none"/>
<path d="M813.6,1613.0 H827.6 M813.6,1592.9 H827.6 M820.6,1613.0 V1592.9" stroke="#000" stroke-width="2.6" fill="none"/>
<path d="M862.7,1688.2 H876.7 M862.7,1653.3 H876.7 M869.7,1688.2 V1653.3" stroke="#000" stroke-width="2.6" fill="none"/>
<path d="M911.8,1732.5 H925.8 M911.8,1713.7 H925.8 M918.8,1732.5 V1713.7" stroke="#000" stroke-width="2.6" fill="none"/>
<path d="M960.9,1760.7 H974.9 M960.9,1733.9 H974.9 M967.9,1760.7 V1733.9" stroke="#000" stroke-width="2.6" fill="none"/>
<path d="M1010.0,1759.4 H1024.0 M1010.0,1743.2 H1024.0 M1017.0,1759.4 V1743.2" stroke="#000" stroke-width="2.6" fill="none"/>
<path d="M1059.2,1760.7 H1073.2 M1059.2,1728.5 H1073.2 M1066.2,1760.7 V1728.5" stroke="#000" stroke-width="2.6" fill="none"/>
<path d="M1108.3,1755.3 H1122.3 M1108.3,1704.3 H1122.3 M1115.3,1755.3 V1704.3" stroke="#000" stroke-width="2.6" fill="none"/>
<path d="M1206.5,1712.4 H1220.5 M1206.5,1661.4 H1220.5 M1213.5,1712.4 V1661.4" stroke="#000" stroke-width="2.6" fill="none"/>
<path d="M1403.0,1650.6 H1417.0 M1403.0,1572.8 H1417.0 M1410.0,1650.6 V1572.8" stroke="#000" stroke-width="2.6" fill="none"/>
<path d="M813.6,1700.3 H827.6 M813.6,1665.4 H827.6 M820.6,1700.3 V1665.4" stroke="#000" stroke-width="2.6" fill="none"/>
<path d="M862.7,1715.1 H876.7 M862.7,1680.2 H876.7 M869.7,1715.1 V1680.2" stroke="#000" stroke-width="2.6" fill="none"/>
<path d="M911.8,1733.9 H925.8 M911.8,1708.3 H925.8 M918.8,1733.9 V1708.3" stroke="#000" stroke-width="2.6" fill="none"/>
<path d="M960.9,1750.0 H974.9 M960.9,1727.1 H974.9 M967.9,1750.0 V1727.1" stroke="#000" stroke-width="2.6" fill="none"/>
<path d="M1010.0,1758.0 H1024.0 M1010.0,1741.9 H1024.0 M1017.0,1758.0 V1741.9" stroke="#000" stroke-width="2.6" fill="none"/>
<path d="M1059.2,1752.6 H1073.2 M1059.2,1727.1 H1073.2 M1066.2,1752.6 V1727.1" stroke="#000" stroke-width="2.6" fill="none"/>
<path d="M1108.3,1741.9 H1122.3 M1108.3,1711.0 H1122.3 M1115.3,1741.9 V1711.0" stroke="#000" stroke-width="2.6" fill="none"/>
<path d="M1206.5,1712.4 H1220.5 M1206.5,1657.3 H1220.5 M1213.5,1712.4 V1657.3" stroke="#000" stroke-width="2.6" fill="none"/>
<path d="M1403.0,1562.0 H1417.0 M1403.0,1541.9 H1417.0 M1410.0,1562.0 V1541.9" stroke="#000" stroke-width="2.6" fill="none"/>
<path d="M801.6,1356.6 L801.6,1801.7 L1431.5,1801.7" fill="none" stroke="#000" stroke-width="3"/>
<line x1="790.1" y1="1358.0" x2="801.6" y2="1358.0" stroke="#000" stroke-width="2.6" />
<text x="786.6" y="1370.8" font-size="35.3" text-anchor="end" fill="#000" >1.5</text>
<line x1="790.1" y1="1492.2" x2="801.6" y2="1492.2" stroke="#000" stroke-width="2.6" />
<text x="786.6" y="1505.0" font-size="35.3" text-anchor="end" fill="#000" >1</text>
<line x1="790.1" y1="1626.5" x2="801.6" y2="1626.5" stroke="#000" stroke-width="2.6" />
<text x="786.6" y="1639.2" font-size="35.3" text-anchor="end" fill="#000" >0.5</text>
<line x1="790.1" y1="1760.7" x2="801.6" y2="1760.7" stroke="#000" stroke-width="2.6" />
<text x="786.6" y="1773.5" font-size="35.3" text-anchor="end" fill="#000" >0</text>
<line x1="820.6" y1="1801.7" x2="820.6" y2="1813.7" stroke="#000" stroke-width="2.6" />
<text x="820.6" y="1841.7" font-size="35.3" text-anchor="middle" fill="#000" >0</text>
<line x1="918.8" y1="1801.7" x2="918.8" y2="1813.7" stroke="#000" stroke-width="2.6" />
<text x="918.8" y="1841.7" font-size="35.3" text-anchor="middle" fill="#000" >25</text>
<line x1="1017.0" y1="1801.7" x2="1017.0" y2="1813.7" stroke="#000" stroke-width="2.6" />
<text x="1017.0" y="1841.7" font-size="35.3" text-anchor="middle" fill="#000" >50</text>
<line x1="1115.3" y1="1801.7" x2="1115.3" y2="1813.7" stroke="#000" stroke-width="2.6" />
<text x="1115.3" y="1841.7" font-size="35.3" text-anchor="middle" fill="#000" >75</text>
<line x1="1213.5" y1="1801.7" x2="1213.5" y2="1813.7" stroke="#000" stroke-width="2.6" />
<text x="1213.5" y="1841.7" font-size="35.3" text-anchor="middle" fill="#000" >100</text>
<line x1="1410.0" y1="1801.7" x2="1410.0" y2="1813.7" stroke="#000" stroke-width="2.6" />
<text x="1410.0" y="1841.7" font-size="35.3" text-anchor="middle" fill="#000" >150</text>
<text x="918.8" y="1793.2" font-size="35.3" text-anchor="middle" fill="#000" >0.5:1</text>
<text x="1017.0" y="1793.2" font-size="35.3" text-anchor="middle" fill="#000" >1:1</text>
<text x="1115.3" y="1793.2" font-size="35.3" text-anchor="middle" fill="#000" >1.5:1</text>
<text x="1213.5" y="1793.2" font-size="35.3" text-anchor="middle" fill="#000" >2:1</text>
<text x="1410.0" y="1793.2" font-size="35.3" text-anchor="middle" fill="#000" >3:1</text>
<text x="1113.0" y="1887.9" font-size="35.3" text-anchor="middle" fill="#000" >[Variable component] (µM)</text>
<polygon points="818.5,1350.3 841.5,1350.3 830.0,1373.3" fill="#800080" />
<polygon points="860.0,1350.3 871.0,1358.3 866.8,1371.3 853.2,1371.3 849.0,1358.3" fill="#800080" />
<text x="877.7" y="1371.6" font-size="35.3" fill="#000" >Assembled I53-50</text>
<text x="0" y="1941" font-size="32" font-weight="bold" stroke="#000" stroke-width="1.7" stroke-linejoin="round" transform="translate(0,0) scale(1.18,1) translate(0,0)">f</text>
<rect x="196.5" y="2030.4" width="23.0" height="4.8" fill="#ffff00" />
<rect x="196.5" y="2046.0" width="23.0" height="21.0" fill="#0000ff" />
<rect x="229.8" y="2024.4" width="23.0" height="10.8" fill="#ffff00" />
<rect x="229.8" y="2046.0" width="23.0" height="21.0" fill="#0000ff" />
<rect x="263.1" y="2018.9" width="23.0" height="16.3" fill="#ffff00" />
<rect x="263.1" y="2046.0" width="23.0" height="21.0" fill="#0000ff" />
<rect x="296.4" y="2013.2" width="23.0" height="22.0" fill="#ffff00" />
<rect x="296.4" y="2046.0" width="23.0" height="21.0" fill="#0000ff" />
<rect x="329.7" y="2007.7" width="23.0" height="27.5" fill="#ffff00" />
<rect x="329.7" y="2046.0" width="23.0" height="21.0" fill="#0000ff" />
<rect x="363.0" y="2001.7" width="23.0" height="33.5" fill="#ffff00" />
<rect x="363.0" y="2046.0" width="23.0" height="21.0" fill="#0000ff" />
<rect x="396.3" y="1991.0" width="23.0" height="44.2" fill="#ffff00" />
<rect x="396.3" y="2046.0" width="23.0" height="21.0" fill="#0000ff" />
<rect x="429.6" y="1969.2" width="23.0" height="66.0" fill="#ffff00" />
<rect x="429.6" y="2046.0" width="23.0" height="21.0" fill="#0000ff" />
<rect x="462.9" y="2030.4" width="23.0" height="4.8" fill="#0000ff" />
<rect x="462.9" y="2046.0" width="23.0" height="21.0" fill="#ffff00" />
<rect x="496.2" y="2024.4" width="23.0" height="10.8" fill="#0000ff" />
<rect x="496.2" y="2046.0" width="23.0" height="21.0" fill="#ffff00" />
<rect x="529.5" y="2018.9" width="23.0" height="16.3" fill="#0000ff" />
<rect x="529.5" y="2046.0" width="23.0" height="21.0" fill="#ffff00" />
<rect x="562.8" y="2013.2" width="23.0" height="22.0" fill="#0000ff" />
<rect x="562.8" y="2046.0" width="23.0" height="21.0" fill="#ffff00" />
<rect x="596.1" y="2007.7" width="23.0" height="27.5" fill="#0000ff" />
<rect x="596.1" y="2046.0" width="23.0" height="21.0" fill="#ffff00" />
<rect x="629.4" y="2001.7" width="23.0" height="33.5" fill="#0000ff" />
<rect x="629.4" y="2046.0" width="23.0" height="21.0" fill="#ffff00" />
<rect x="662.7" y="1991.0" width="23.0" height="44.2" fill="#0000ff" />
<rect x="662.7" y="2046.0" width="23.0" height="21.0" fill="#ffff00" />
<rect x="696.0" y="1969.2" width="23.0" height="66.0" fill="#0000ff" />
<rect x="696.0" y="2046.0" width="23.0" height="21.0" fill="#ffff00" />
<path d="M143.0,1969.5 H155.5 V2035.2 H731.5" fill="none" stroke="#000" stroke-width="2.8"/>
<path d="M143.0,2046 H155.5 V2068 H731.5" fill="none" stroke="#000" stroke-width="2.8"/>
<text x="138.5" y="1982.0" font-size="35.3" text-anchor="end" fill="#000" >150</text>
<text x="138.5" y="2058.5" font-size="35.3" text-anchor="end" fill="#000" >50</text>
<text x="176.0" y="2040.2" font-size="30" text-anchor="middle" fill="#000" >*</text>
<text x="176.0" y="2073.0" font-size="30" text-anchor="middle" fill="#000" >*</text>
<text x="241.0" y="1949" font-size="35.3" text-anchor="middle">[T]<tspan font-size="28.2" dy="6.3">0</tspan><tspan dy="-6.3" font-size="35.3">&#8203;</tspan>&gt;[P]<tspan font-size="28.2" dy="6.3">0</tspan><tspan dy="-6.3" font-size="35.3">&#8203;</tspan></text>
<line x1="196.5" y1="1960.8" x2="288.4" y2="1960.8" stroke="#000" stroke-width="2" />
<text x="441.0" y="1949" font-size="35.3" text-anchor="middle">[T]<tspan font-size="28.2" dy="6.3">0</tspan><tspan dy="-6.3" font-size="35.3">&#8203;</tspan>&lt;[P]<tspan font-size="28.2" dy="6.3">0</tspan><tspan dy="-6.3" font-size="35.3">&#8203;</tspan></text>
<line x1="328.4" y1="1960.8" x2="554.2" y2="1960.8" stroke="#000" stroke-width="2" />
<text x="657.0" y="1949" font-size="35.3" text-anchor="middle">[T]<tspan font-size="28.2" dy="6.3">0</tspan><tspan dy="-6.3" font-size="35.3">&#8203;</tspan>&gt;[P]<tspan font-size="28.2" dy="6.3">0</tspan><tspan dy="-6.3" font-size="35.3">&#8203;</tspan></text>
<line x1="595.3" y1="1960.8" x2="718.5" y2="1960.8" stroke="#000" stroke-width="2" />
<text transform="translate(38,2021) rotate(-90)" font-size="35.3" text-anchor="middle">[T]<tspan font-size="28.2" dy="6.3">0</tspan><tspan dy="-6.3" font-size="35.3">&#8203;</tspan> or [P]<tspan font-size="28.2" dy="6.3">0</tspan><tspan dy="-6.3" font-size="35.3">&#8203;</tspan></text>
<text transform="translate(74,2021) rotate(-90)" font-size="35.3" text-anchor="middle">(µM)</text>
<text x="738.5" y="1942" font-size="32" font-weight="bold" stroke="#000" stroke-width="1.7" stroke-linejoin="round" transform="translate(738.5,0) scale(1.18,1) translate(-738.5,0)">l</text>
<rect x="897.7" y="2030.2" width="22.5" height="5.0" fill="#0000ff" />
<rect x="897.7" y="2046.7" width="22.5" height="20.0" fill="#ff0000" />
<rect x="930.9" y="2024.2" width="22.5" height="11.0" fill="#0000ff" />
<rect x="930.9" y="2046.7" width="22.5" height="20.0" fill="#ff0000" />
<rect x="964.1" y="2018.7" width="22.5" height="16.5" fill="#0000ff" />
<rect x="964.1" y="2046.7" width="22.5" height="20.0" fill="#ff0000" />
<rect x="997.4" y="2013.7" width="22.5" height="21.5" fill="#0000ff" />
<rect x="997.4" y="2046.7" width="22.5" height="20.0" fill="#ff0000" />
<rect x="1030.6" y="2007.7" width="22.5" height="27.5" fill="#0000ff" />
<rect x="1030.6" y="2046.7" width="22.5" height="20.0" fill="#ff0000" />
<rect x="1063.8" y="2001.7" width="22.5" height="33.5" fill="#0000ff" />
<rect x="1063.8" y="2046.7" width="22.5" height="20.0" fill="#ff0000" />
<rect x="1097.0" y="1991.2" width="22.5" height="44.0" fill="#0000ff" />
<rect x="1097.0" y="2046.7" width="22.5" height="20.0" fill="#ff0000" />
<rect x="1130.2" y="1968.7" width="22.5" height="66.5" fill="#0000ff" />
<rect x="1130.2" y="2046.7" width="22.5" height="20.0" fill="#ff0000" />
<rect x="1163.5" y="2030.2" width="22.5" height="5.0" fill="#ff0000" />
<rect x="1163.5" y="2046.7" width="22.5" height="20.0" fill="#0000ff" />
<rect x="1196.7" y="2024.2" width="22.5" height="11.0" fill="#ff0000" />
<rect x="1196.7" y="2046.7" width="22.5" height="20.0" fill="#0000ff" />
<rect x="1229.9" y="2018.7" width="22.5" height="16.5" fill="#ff0000" />
<rect x="1229.9" y="2046.7" width="22.5" height="20.0" fill="#0000ff" />
<rect x="1263.1" y="2013.7" width="22.5" height="21.5" fill="#ff0000" />
<rect x="1263.1" y="2046.7" width="22.5" height="20.0" fill="#0000ff" />
<rect x="1296.3" y="2007.7" width="22.5" height="27.5" fill="#ff0000" />
<rect x="1296.3" y="2046.7" width="22.5" height="20.0" fill="#0000ff" />
<rect x="1329.6" y="2001.7" width="22.5" height="33.5" fill="#ff0000" />
<rect x="1329.6" y="2046.7" width="22.5" height="20.0" fill="#0000ff" />
<rect x="1362.8" y="1991.2" width="22.5" height="44.0" fill="#ff0000" />
<rect x="1362.8" y="2046.7" width="22.5" height="20.0" fill="#0000ff" />
<rect x="1396.0" y="1968.7" width="22.5" height="66.5" fill="#ff0000" />
<rect x="1396.0" y="2046.7" width="22.5" height="20.0" fill="#0000ff" />
<path d="M842.7,1969 H855.2 V2035.2 H1431.5" fill="none" stroke="#000" stroke-width="2.8"/>
<path d="M842.7,2046.7 H855.2 V2067.7 H1431.5" fill="none" stroke="#000" stroke-width="2.8"/>
<text x="838.2" y="1981.5" font-size="35.3" text-anchor="end" fill="#000" >150</text>
<text x="838.2" y="2059.2" font-size="35.3" text-anchor="end" fill="#000" >50</text>
<text x="876.7" y="2040.2" font-size="30" text-anchor="middle" fill="#000" >*</text>
<text x="876.7" y="2072.7" font-size="30" text-anchor="middle" fill="#000" >*</text>
<text x="941.8" y="1949.8" font-size="35.3" text-anchor="middle">[T]<tspan font-size="28.2" dy="6.3">0</tspan><tspan dy="-6.3" font-size="35.3">&#8203;</tspan>&lt;[P]<tspan font-size="28.2" dy="6.3">0</tspan><tspan dy="-6.3" font-size="35.3">&#8203;</tspan></text>
<line x1="896.2" y1="1961.6" x2="987.9" y2="1961.6" stroke="#000" stroke-width="2" />
<text x="1140.6" y="1949.8" font-size="35.3" text-anchor="middle">[T]<tspan font-size="28.2" dy="6.3">0</tspan><tspan dy="-6.3" font-size="35.3">&#8203;</tspan>&gt;[P]<tspan font-size="28.2" dy="6.3">0</tspan><tspan dy="-6.3" font-size="35.3">&#8203;</tspan></text>
<line x1="1029.0" y1="1961.6" x2="1254.2" y2="1961.6" stroke="#000" stroke-width="2" />
<text x="1357.0" y="1949.8" font-size="35.3" text-anchor="middle">[T]<tspan font-size="28.2" dy="6.3">0</tspan><tspan dy="-6.3" font-size="35.3">&#8203;</tspan>&lt;[P]<tspan font-size="28.2" dy="6.3">0</tspan><tspan dy="-6.3" font-size="35.3">&#8203;</tspan></text>
<line x1="1295.8" y1="1961.6" x2="1418.5" y2="1961.6" stroke="#000" stroke-width="2" />
<text x="0" y="2190" font-size="32" font-weight="bold" stroke="#000" stroke-width="1.7" stroke-linejoin="round" transform="translate(0,0) scale(1.18,1) translate(0,0)">g</text>
<line x1="155.5" y1="2256.5" x2="728" y2="2256.5" stroke="#7f7f7f" stroke-width="3" stroke-dasharray="10.7,4.8"/>
<path d="M145.5,2209.8 H155.5 V2349.9 H145.5" fill="none" stroke="#000" stroke-width="2.4"/>
<line x1="145.5" y1="2209.8" x2="155.5" y2="2209.8" stroke="#000" stroke-width="2.4" />
<text x="138.5" y="2222.3" font-size="35.3" text-anchor="end" fill="#000" >1.125</text>
<line x1="145.5" y1="2256.5" x2="155.5" y2="2256.5" stroke="#000" stroke-width="2.4" />
<text x="138.5" y="2269.0" font-size="35.3" text-anchor="end" fill="#000" >1</text>
<line x1="145.5" y1="2303.2" x2="155.5" y2="2303.2" stroke="#000" stroke-width="2.4" />
<text x="138.5" y="2315.7" font-size="35.3" text-anchor="end" fill="#000" >0.875</text>
<line x1="145.5" y1="2349.9" x2="155.5" y2="2349.9" stroke="#000" stroke-width="2.4" />
<text x="138.5" y="2362.4" font-size="35.3" text-anchor="end" fill="#000" >0.75</text>
<text transform="translate(36,2280.6) rotate(-90)" font-size="35.3" text-anchor="middle">T:P</text>
<circle cx="171" cy="2281.3" r="11.1" fill="#000"/>
<polygon points="208.9,2242.9 219.6,2250.7 215.5,2263.4 202.2,2263.4 198.1,2250.7" fill="#0a4f22" />
<polygon points="241.7,2241.9 252.5,2249.7 248.4,2262.3 235.1,2262.3 230.9,2249.7" fill="#1f8a43" />
<polygon points="275.6,2234.2 286.4,2242.0 282.2,2254.6 268.9,2254.6 264.8,2242.0" fill="#3aa860" />
<polygon points="307.9,2239.3 318.7,2247.1 314.6,2259.8 301.3,2259.8 297.1,2247.1" fill="#4db86e" />
<polygon points="341.3,2249.5 352.0,2257.4 347.9,2270.0 334.6,2270.0 330.5,2257.4" fill="#6dc47a" />
<polygon points="374.6,2242.9 385.4,2250.7 381.3,2263.4 368.0,2263.4 363.9,2250.7" fill="#79c984" />
<polygon points="408.0,2244.4 418.8,2252.2 414.6,2264.9 401.3,2264.9 397.2,2252.2" fill="#86ce8d" />
<polygon points="443.9,2228.0 454.7,2235.8 450.6,2248.5 437.3,2248.5 433.1,2235.8" fill="#8fd295" />
<polygon points="464.6,2216.7 486.8,2216.7 475.7,2238.9" fill="#8fd295" />
<polygon points="498.0,2233.7 520.2,2233.7 509.1,2255.9" fill="#86cf8c" />
<polygon points="531.9,2258.8 554.1,2258.8 543.0,2281.0" fill="#70c47c" />
<polygon points="564.7,2265.5 586.9,2265.5 575.8,2287.7" fill="#5dbb70" />
<polygon points="598.6,2264.5 620.8,2264.5 609.7,2286.7" fill="#4fb76b" />
<polygon points="632.4,2247.5 654.6,2247.5 643.5,2269.7" fill="#2e9c52" />
<polygon points="666.3,2256.2 688.5,2256.2 677.4,2278.4" fill="#218a45" />
<polygon points="699.7,2257.8 721.9,2257.8 710.8,2280.0" fill="#0d6a2c" />
<text x="738.5" y="2190" font-size="32" font-weight="bold" stroke="#000" stroke-width="1.7" stroke-linejoin="round" transform="translate(738.5,0) scale(1.18,1) translate(-738.5,0)">m</text>
<line x1="856.2" y1="2256.6" x2="1428" y2="2256.6" stroke="#7f7f7f" stroke-width="3" stroke-dasharray="10.7,4.8"/>
<path d="M846.2,2210 H856.2 V2350.3 H846.2" fill="none" stroke="#000" stroke-width="2.4"/>
<line x1="846.2" y1="2210.0" x2="856.2" y2="2210.0" stroke="#000" stroke-width="2.4" />
<text x="839.2" y="2222.5" font-size="35.3" text-anchor="end" fill="#000" >1.125</text>
<line x1="846.2" y1="2256.6" x2="856.2" y2="2256.6" stroke="#000" stroke-width="2.4" />
<text x="839.2" y="2269.1" font-size="35.3" text-anchor="end" fill="#000" >1</text>
<line x1="846.2" y1="2303.7" x2="856.2" y2="2303.7" stroke="#000" stroke-width="2.4" />
<text x="839.2" y="2316.2" font-size="35.3" text-anchor="end" fill="#000" >0.875</text>
<line x1="846.2" y1="2350.3" x2="856.2" y2="2350.3" stroke="#000" stroke-width="2.4" />
<text x="839.2" y="2362.8" font-size="35.3" text-anchor="end" fill="#000" >0.75</text>
<circle cx="871.7" cy="2231.6" r="11.1" fill="#000"/>
<polygon points="892.7,2317.7 914.9,2317.7 903.8,2339.9" fill="#e3e2f2" />
<polygon points="927.7,2298.7 949.9,2298.7 938.8,2320.9" fill="#8b86c8" />
<polygon points="961.8,2272.7 984.0,2272.7 972.9,2294.9" fill="#6e5bb0" />
<polygon points="996.8,2247.6 1019.0,2247.6 1007.9,2269.8" fill="#5a3a9e" />
<polygon points="1028.3,2246.6 1050.5,2246.6 1039.4,2268.8" fill="#4f2896" />
<polygon points="1062.4,2244.1 1084.6,2244.1 1073.5,2266.3" fill="#4a2192" />
<polygon points="1095.9,2255.2 1118.1,2255.2 1107.0,2277.4" fill="#45198c" />
<polygon points="1129.5,2225.1 1151.7,2225.1 1140.6,2247.3" fill="#3f1286" />
<polygon points="1174.1,2244.6 1184.9,2252.4 1180.8,2265.1 1167.5,2265.1 1163.4,2252.4" fill="#3f0d85" />
<polygon points="1208.2,2245.1 1219.0,2252.9 1214.8,2265.6 1201.5,2265.6 1197.4,2252.9" fill="#45188b" />
<polygon points="1241.7,2242.6 1252.5,2250.4 1248.4,2263.1 1235.1,2263.1 1231.0,2250.4" fill="#512c98" />
<polygon points="1274.8,2243.1 1285.5,2250.9 1281.4,2263.6 1268.1,2263.6 1264.0,2250.9" fill="#5a38a0" />
<polygon points="1308.8,2267.6 1319.6,2275.5 1315.5,2288.1 1302.2,2288.1 1298.1,2275.5" fill="#6a51ac" />
<polygon points="1341.9,2275.7 1352.6,2283.5 1348.5,2296.1 1335.2,2296.1 1331.1,2283.5" fill="#7468b6" />
<polygon points="1375.9,2292.2 1386.7,2300.0 1382.6,2312.7 1369.3,2312.7 1365.2,2300.0" fill="#8c88c8" />
<polygon points="1410.0,2310.7 1420.7,2318.5 1416.6,2331.2 1403.3,2331.2 1399.2,2318.5" fill="#b9b8dd" />
<rect x="158.3" y="2079.1" width="566.3" height="79.3" fill="url(#gg1)" />
<g clip-path="url(#cgg1)">
<rect x="158.3" y="2101.0" width="30.0" height="8.0" rx="4.0" fill="#101010" opacity="0.80" filter="url(#b2)"/>
<rect x="158.8" y="2140.0" width="29.0" height="8.0" rx="4.0" fill="#101010" opacity="0.90" filter="url(#b2)"/>
<rect x="190.8" y="2100.3" width="31.5" height="12.0" rx="6.0" fill="#101010" opacity="0.90" filter="url(#b2)"/>
<rect x="190.8" y="2127.0" width="31.5" height="10.0" rx="5.0" fill="#101010" opacity="0.90" filter="url(#b2)"/>
<rect x="224.3" y="2101.5" width="31.5" height="9.0" rx="4.5" fill="#101010" opacity="0.90" filter="url(#b2)"/>
<rect x="224.3" y="2126.7" width="31.5" height="10.0" rx="5.0" fill="#101010" opacity="0.90" filter="url(#b2)"/>
<rect x="257.9" y="2101.2" width="31.5" height="9.0" rx="4.5" fill="#101010" opacity="0.90" filter="url(#b2)"/>
<rect x="257.9" y="2126.4" width="31.5" height="10.0" rx="5.0" fill="#101010" opacity="0.90" filter="url(#b2)"/>
<rect x="291.4" y="2102.2" width="31.5" height="6.5" rx="3.2" fill="#101010" opacity="0.58" filter="url(#b2)"/>
<rect x="291.4" y="2127.3" width="31.5" height="7.5" rx="3.8" fill="#101010" opacity="0.58" filter="url(#b2)"/>
<rect x="324.9" y="2100.6" width="31.5" height="9.0" rx="4.5" fill="#101010" opacity="0.90" filter="url(#b2)"/>
<rect x="324.9" y="2125.8" width="31.5" height="10.0" rx="5.0" fill="#101010" opacity="0.90" filter="url(#b2)"/>
<rect x="358.4" y="2100.3" width="31.5" height="9.0" rx="4.5" fill="#101010" opacity="0.90" filter="url(#b2)"/>
<rect x="358.4" y="2125.5" width="31.5" height="10.0" rx="5.0" fill="#101010" opacity="0.90" filter="url(#b2)"/>
<rect x="391.9" y="2100.0" width="31.5" height="9.0" rx="4.5" fill="#101010" opacity="0.90" filter="url(#b2)"/>
<rect x="391.9" y="2125.2" width="31.5" height="10.0" rx="5.0" fill="#101010" opacity="0.90" filter="url(#b2)"/>
<rect x="425.4" y="2099.7" width="31.5" height="9.0" rx="4.5" fill="#101010" opacity="0.90" filter="url(#b2)"/>
<rect x="425.4" y="2124.9" width="31.5" height="10.0" rx="5.0" fill="#101010" opacity="0.90" filter="url(#b2)"/>
<rect x="458.9" y="2099.4" width="31.5" height="9.0" rx="4.5" fill="#101010" opacity="0.90" filter="url(#b2)"/>
<rect x="458.9" y="2124.6" width="31.5" height="10.0" rx="5.0" fill="#101010" opacity="0.90" filter="url(#b2)"/>
<rect x="492.4" y="2099.1" width="31.5" height="9.0" rx="4.5" fill="#101010" opacity="0.90" filter="url(#b2)"/>
<rect x="492.4" y="2124.3" width="31.5" height="10.0" rx="5.0" fill="#101010" opacity="0.90" filter="url(#b2)"/>
<rect x="525.9" y="2098.8" width="31.5" height="9.0" rx="4.5" fill="#101010" opacity="0.90" filter="url(#b2)"/>
<rect x="525.9" y="2124.0" width="31.5" height="10.0" rx="5.0" fill="#101010" opacity="0.90" filter="url(#b2)"/>
<rect x="559.4" y="2098.5" width="31.5" height="9.0" rx="4.5" fill="#101010" opacity="0.90" filter="url(#b2)"/>
<rect x="559.4" y="2123.7" width="31.5" height="10.0" rx="5.0" fill="#101010" opacity="0.90" filter="url(#b2)"/>
<rect x="592.9" y="2098.2" width="31.5" height="9.0" rx="4.5" fill="#101010" opacity="0.90" filter="url(#b2)"/>
<rect x="592.9" y="2123.4" width="31.5" height="10.0" rx="5.0" fill="#101010" opacity="0.90" filter="url(#b2)"/>
<rect x="626.4" y="2097.9" width="31.5" height="9.0" rx="4.5" fill="#101010" opacity="0.90" filter="url(#b2)"/>
<rect x="626.4" y="2123.1" width="31.5" height="10.0" rx="5.0" fill="#101010" opacity="0.90" filter="url(#b2)"/>
<rect x="659.9" y="2097.6" width="31.5" height="9.0" rx="4.5" fill="#101010" opacity="0.90" filter="url(#b2)"/>
<rect x="659.9" y="2122.8" width="31.5" height="10.0" rx="5.0" fill="#101010" opacity="0.90" filter="url(#b2)"/>
<rect x="693.4" y="2097.3" width="31.5" height="9.0" rx="4.5" fill="#101010" opacity="0.90" filter="url(#b2)"/>
<rect x="693.4" y="2122.5" width="31.5" height="10.0" rx="5.0" fill="#101010" opacity="0.90" filter="url(#b2)"/>
</g>
<polygon points="145.3,2081.2 158.3,2088.0 145.3,2094.8" fill="#000" />
<polygon points="145.3,2104.2 158.3,2111.0 145.3,2117.8" fill="#000" />
<polygon points="145.3,2146.2 158.3,2153.0 145.3,2159.8" fill="#000" />
<rect x="858.3" y="2074.1" width="572.7" height="89.3" fill="url(#gg2)" />
<g clip-path="url(#cgg2)">
<rect x="858.2" y="2092.3" width="33.0" height="12.0" rx="6.0" fill="#101010" opacity="0.97" filter="url(#b2)"/>
<rect x="857.7" y="2140.0" width="34.0" height="10.0" rx="5.0" fill="#101010" opacity="0.92" filter="url(#b2)"/>
<rect x="892.5" y="2085.8" width="31.0" height="8.5" rx="4.2" fill="#101010" opacity="0.92" filter="url(#b2)"/>
<rect x="891.8" y="2140.5" width="32.5" height="9.0" rx="4.5" fill="#101010" opacity="0.92" filter="url(#b2)"/>
<rect x="925.7" y="2085.8" width="31.0" height="8.5" rx="4.2" fill="#101010" opacity="0.92" filter="url(#b2)"/>
<rect x="925.0" y="2140.5" width="32.5" height="9.0" rx="4.5" fill="#101010" opacity="0.92" filter="url(#b2)"/>
<rect x="958.9" y="2085.8" width="31.0" height="8.5" rx="4.2" fill="#101010" opacity="0.92" filter="url(#b2)"/>
<rect x="958.2" y="2140.5" width="32.5" height="9.0" rx="4.5" fill="#101010" opacity="0.92" filter="url(#b2)"/>
<rect x="992.2" y="2085.8" width="31.0" height="8.5" rx="4.2" fill="#101010" opacity="0.92" filter="url(#b2)"/>
<rect x="991.4" y="2140.5" width="32.5" height="9.0" rx="4.5" fill="#101010" opacity="0.92" filter="url(#b2)"/>
<rect x="1025.4" y="2085.8" width="31.0" height="8.5" rx="4.2" fill="#101010" opacity="0.92" filter="url(#b2)"/>
<rect x="1024.6" y="2140.5" width="32.5" height="9.0" rx="4.5" fill="#101010" opacity="0.92" filter="url(#b2)"/>
<rect x="1058.6" y="2085.8" width="31.0" height="8.5" rx="4.2" fill="#101010" opacity="0.92" filter="url(#b2)"/>
<rect x="1057.8" y="2140.5" width="32.5" height="9.0" rx="4.5" fill="#101010" opacity="0.92" filter="url(#b2)"/>
<rect x="1091.8" y="2085.8" width="31.0" height="8.5" rx="4.2" fill="#101010" opacity="0.92" filter="url(#b2)"/>
<rect x="1091.1" y="2140.5" width="32.5" height="9.0" rx="4.5" fill="#101010" opacity="0.92" filter="url(#b2)"/>
<rect x="1125.0" y="2085.8" width="31.0" height="8.5" rx="4.2" fill="#101010" opacity="0.92" filter="url(#b2)"/>
<rect x="1124.3" y="2140.5" width="32.5" height="9.0" rx="4.5" fill="#101010" opacity="0.92" filter="url(#b2)"/>
<rect x="1158.3" y="2087.0" width="31.0" height="6.0" rx="3.0" fill="#101010" opacity="0.72" filter="url(#b2)"/>
<rect x="1157.5" y="2141.8" width="32.5" height="6.5" rx="3.2" fill="#101010" opacity="0.72" filter="url(#b2)"/>
<rect x="1191.5" y="2085.8" width="31.0" height="8.5" rx="4.2" fill="#101010" opacity="0.92" filter="url(#b2)"/>
<rect x="1190.7" y="2140.5" width="32.5" height="9.0" rx="4.5" fill="#101010" opacity="0.92" filter="url(#b2)"/>
<rect x="1224.7" y="2085.8" width="31.0" height="8.5" rx="4.2" fill="#101010" opacity="0.92" filter="url(#b2)"/>
<rect x="1224.0" y="2140.5" width="32.5" height="9.0" rx="4.5" fill="#101010" opacity="0.92" filter="url(#b2)"/>
<rect x="1257.9" y="2085.8" width="31.0" height="8.5" rx="4.2" fill="#101010" opacity="0.92" filter="url(#b2)"/>
<rect x="1257.2" y="2140.5" width="32.5" height="9.0" rx="4.5" fill="#101010" opacity="0.92" filter="url(#b2)"/>
<rect x="1291.1" y="2085.8" width="31.0" height="8.5" rx="4.2" fill="#101010" opacity="0.92" filter="url(#b2)"/>
<rect x="1290.4" y="2140.5" width="32.5" height="9.0" rx="4.5" fill="#101010" opacity="0.92" filter="url(#b2)"/>
<rect x="1324.4" y="2085.8" width="31.0" height="8.5" rx="4.2" fill="#101010" opacity="0.92" filter="url(#b2)"/>
<rect x="1323.6" y="2140.5" width="32.5" height="9.0" rx="4.5" fill="#101010" opacity="0.92" filter="url(#b2)"/>
<rect x="1357.6" y="2085.8" width="31.0" height="8.5" rx="4.2" fill="#101010" opacity="0.92" filter="url(#b2)"/>
<rect x="1356.8" y="2140.5" width="32.5" height="9.0" rx="4.5" fill="#101010" opacity="0.92" filter="url(#b2)"/>
<rect x="1390.8" y="2085.8" width="31.0" height="8.5" rx="4.2" fill="#101010" opacity="0.92" filter="url(#b2)"/>
<rect x="1390.0" y="2140.5" width="32.5" height="9.0" rx="4.5" fill="#101010" opacity="0.92" filter="url(#b2)"/>
</g>
<polygon points="845.3,2077.1 858.3,2083.9 845.3,2090.7" fill="#000" />
<polygon points="845.3,2101.5 858.3,2108.3 845.3,2115.1" fill="#000" />
<polygon points="845.3,2151.4 858.3,2158.2 845.3,2165.0" fill="#000" />
<rect x="151.9" y="2372.0" width="574.0" height="73.7" fill="url(#gg3)" />
<g clip-path="url(#cgg3)">
<rect x="165.1" y="2371.6" width="23.0" height="38.0" fill="#d2d2d2" opacity="0.55" filter="url(#b1)"/>
<rect x="164.6" y="2418.0" width="24.0" height="28.0" fill="#777" opacity="0.38" filter="url(#b2)"/>
<path d="M165.6,2371 V2378 Q176.6,2383 187.6,2378 V2371" fill="#cfcfcf" stroke="#8a8a8a" stroke-width="1" opacity="0.9"/>
<rect x="198.3" y="2371.6" width="23.0" height="38.0" fill="#d2d2d2" opacity="0.55" filter="url(#b1)"/>
<rect x="197.8" y="2418.0" width="24.0" height="28.0" fill="#777" opacity="0.38" filter="url(#b2)"/>
<path d="M198.8,2371 V2378 Q209.8,2383 220.8,2378 V2371" fill="#cfcfcf" stroke="#8a8a8a" stroke-width="1" opacity="0.9"/>
<rect x="231.4" y="2371.6" width="23.0" height="38.0" fill="#d2d2d2" opacity="0.55" filter="url(#b1)"/>
<rect x="230.9" y="2418.0" width="24.0" height="28.0" fill="#777" opacity="0.38" filter="url(#b2)"/>
<path d="M231.9,2371 V2378 Q242.9,2383 253.9,2378 V2371" fill="#cfcfcf" stroke="#8a8a8a" stroke-width="1" opacity="0.9"/>
<rect x="264.6" y="2371.6" width="23.0" height="38.0" fill="#d2d2d2" opacity="0.55" filter="url(#b1)"/>
<rect x="264.1" y="2418.0" width="24.0" height="28.0" fill="#777" opacity="0.38" filter="url(#b2)"/>
<path d="M265.1,2371 V2378 Q276.1,2383 287.1,2378 V2371" fill="#cfcfcf" stroke="#8a8a8a" stroke-width="1" opacity="0.9"/>
<rect x="297.7" y="2371.6" width="23.0" height="38.0" fill="#d2d2d2" opacity="0.55" filter="url(#b1)"/>
<rect x="297.2" y="2418.0" width="24.0" height="28.0" fill="#777" opacity="0.38" filter="url(#b2)"/>
<path d="M298.2,2371 V2378 Q309.2,2383 320.2,2378 V2371" fill="#cfcfcf" stroke="#8a8a8a" stroke-width="1" opacity="0.9"/>
<rect x="330.9" y="2371.6" width="23.0" height="38.0" fill="#d2d2d2" opacity="0.55" filter="url(#b1)"/>
<rect x="330.4" y="2418.0" width="24.0" height="28.0" fill="#777" opacity="0.38" filter="url(#b2)"/>
<path d="M331.4,2371 V2378 Q342.4,2383 353.4,2378 V2371" fill="#cfcfcf" stroke="#8a8a8a" stroke-width="1" opacity="0.9"/>
<rect x="364.1" y="2371.6" width="23.0" height="38.0" fill="#d2d2d2" opacity="0.55" filter="url(#b1)"/>
<rect x="363.6" y="2418.0" width="24.0" height="28.0" fill="#777" opacity="0.38" filter="url(#b2)"/>
<path d="M364.6,2371 V2378 Q375.6,2383 386.6,2378 V2371" fill="#cfcfcf" stroke="#8a8a8a" stroke-width="1" opacity="0.9"/>
<rect x="397.2" y="2371.6" width="23.0" height="38.0" fill="#d2d2d2" opacity="0.55" filter="url(#b1)"/>
<rect x="396.7" y="2418.0" width="24.0" height="28.0" fill="#777" opacity="0.38" filter="url(#b2)"/>
<path d="M397.7,2371 V2378 Q408.7,2383 419.7,2378 V2371" fill="#cfcfcf" stroke="#8a8a8a" stroke-width="1" opacity="0.9"/>
<rect x="430.4" y="2371.6" width="23.0" height="38.0" fill="#d2d2d2" opacity="0.55" filter="url(#b1)"/>
<rect x="429.9" y="2418.0" width="24.0" height="28.0" fill="#777" opacity="0.38" filter="url(#b2)"/>
<path d="M430.9,2371 V2378 Q441.9,2383 452.9,2378 V2371" fill="#cfcfcf" stroke="#8a8a8a" stroke-width="1" opacity="0.9"/>
<rect x="463.5" y="2371.6" width="23.0" height="38.0" fill="#d2d2d2" opacity="0.55" filter="url(#b1)"/>
<rect x="463.0" y="2418.0" width="24.0" height="28.0" fill="#777" opacity="0.38" filter="url(#b2)"/>
<path d="M464.0,2371 V2378 Q475.0,2383 486.0,2378 V2371" fill="#cfcfcf" stroke="#8a8a8a" stroke-width="1" opacity="0.9"/>
<rect x="496.7" y="2371.6" width="23.0" height="38.0" fill="#d2d2d2" opacity="0.55" filter="url(#b1)"/>
<rect x="496.2" y="2418.0" width="24.0" height="28.0" fill="#777" opacity="0.38" filter="url(#b2)"/>
<path d="M497.2,2371 V2378 Q508.2,2383 519.2,2378 V2371" fill="#cfcfcf" stroke="#8a8a8a" stroke-width="1" opacity="0.9"/>
<rect x="529.9" y="2371.6" width="23.0" height="38.0" fill="#d2d2d2" opacity="0.55" filter="url(#b1)"/>
<rect x="529.4" y="2418.0" width="24.0" height="28.0" fill="#777" opacity="0.38" filter="url(#b2)"/>
<path d="M530.4,2371 V2378 Q541.4,2383 552.4,2378 V2371" fill="#cfcfcf" stroke="#8a8a8a" stroke-width="1" opacity="0.9"/>
<rect x="563.0" y="2371.6" width="23.0" height="38.0" fill="#d2d2d2" opacity="0.55" filter="url(#b1)"/>
<rect x="562.5" y="2418.0" width="24.0" height="28.0" fill="#777" opacity="0.38" filter="url(#b2)"/>
<path d="M563.5,2371 V2378 Q574.5,2383 585.5,2378 V2371" fill="#cfcfcf" stroke="#8a8a8a" stroke-width="1" opacity="0.9"/>
<rect x="596.2" y="2371.6" width="23.0" height="38.0" fill="#d2d2d2" opacity="0.55" filter="url(#b1)"/>
<rect x="595.7" y="2418.0" width="24.0" height="28.0" fill="#777" opacity="0.38" filter="url(#b2)"/>
<path d="M596.7,2371 V2378 Q607.7,2383 618.7,2378 V2371" fill="#cfcfcf" stroke="#8a8a8a" stroke-width="1" opacity="0.9"/>
<rect x="629.3" y="2371.6" width="23.0" height="38.0" fill="#d2d2d2" opacity="0.55" filter="url(#b1)"/>
<rect x="628.8" y="2418.0" width="24.0" height="28.0" fill="#777" opacity="0.38" filter="url(#b2)"/>
<path d="M629.8,2371 V2378 Q640.8,2383 651.8,2378 V2371" fill="#cfcfcf" stroke="#8a8a8a" stroke-width="1" opacity="0.9"/>
<rect x="662.5" y="2371.6" width="23.0" height="38.0" fill="#d2d2d2" opacity="0.55" filter="url(#b1)"/>
<rect x="662.0" y="2418.0" width="24.0" height="28.0" fill="#777" opacity="0.38" filter="url(#b2)"/>
<path d="M663.0,2371 V2378 Q674.0,2383 685.0,2378 V2371" fill="#cfcfcf" stroke="#8a8a8a" stroke-width="1" opacity="0.9"/>
<rect x="695.7" y="2371.6" width="23.0" height="38.0" fill="#d2d2d2" opacity="0.55" filter="url(#b1)"/>
<rect x="695.2" y="2418.0" width="24.0" height="28.0" fill="#777" opacity="0.38" filter="url(#b2)"/>
<path d="M696.2,2371 V2378 Q707.2,2383 718.2,2378 V2371" fill="#cfcfcf" stroke="#8a8a8a" stroke-width="1" opacity="0.9"/>
<rect x="161.1" y="2404.8" width="31.0" height="13.5" rx="6.8" fill="#000" opacity="1.00" filter="url(#b2)"/>
<rect x="194.3" y="2407.8" width="31.0" height="13.5" rx="6.8" fill="#000" opacity="1.00" filter="url(#b2)"/>
<rect x="227.4" y="2407.8" width="31.0" height="13.5" rx="6.8" fill="#000" opacity="1.00" filter="url(#b2)"/>
<rect x="260.6" y="2408.6" width="31.0" height="13.5" rx="6.8" fill="#000" opacity="1.00" filter="url(#b2)"/>
<rect x="293.7" y="2411.3" width="31.0" height="9.0" rx="4.5" fill="#000" opacity="0.75" filter="url(#b2)"/>
<rect x="326.9" y="2409.0" width="31.0" height="13.5" rx="6.8" fill="#000" opacity="1.00" filter="url(#b2)"/>
<rect x="360.1" y="2409.8" width="31.0" height="13.5" rx="6.8" fill="#000" opacity="1.00" filter="url(#b2)"/>
<rect x="393.2" y="2416.1" width="31.0" height="13.5" rx="6.8" fill="#000" opacity="1.00" filter="url(#b2)"/>
<rect x="426.4" y="2414.8" width="31.0" height="13.5" rx="6.8" fill="#000" opacity="1.00" filter="url(#b2)"/>
<rect x="459.5" y="2409.8" width="31.0" height="13.5" rx="6.8" fill="#000" opacity="1.00" filter="url(#b2)"/>
<rect x="492.7" y="2409.8" width="31.0" height="13.5" rx="6.8" fill="#000" opacity="1.00" filter="url(#b2)"/>
<rect x="525.9" y="2410.7" width="31.0" height="13.5" rx="6.8" fill="#000" opacity="1.00" filter="url(#b2)"/>
<rect x="559.0" y="2410.7" width="31.0" height="13.5" rx="6.8" fill="#000" opacity="1.00" filter="url(#b2)"/>
<rect x="592.2" y="2409.0" width="31.0" height="13.5" rx="6.8" fill="#000" opacity="1.00" filter="url(#b2)"/>
<rect x="625.3" y="2407.8" width="31.0" height="13.5" rx="6.8" fill="#000" opacity="1.00" filter="url(#b2)"/>
<rect x="658.5" y="2405.7" width="31.0" height="13.5" rx="6.8" fill="#000" opacity="1.00" filter="url(#b2)"/>
<rect x="691.7" y="2404.8" width="31.0" height="13.5" rx="6.8" fill="#000" opacity="1.00" filter="url(#b2)"/>
</g>
<rect x="194.5" y="2464.5" width="529.3" height="78.5" fill="url(#gg4)" />
<g clip-path="url(#cgg4)">
<rect x="196.5" y="2479.2" width="30.0" height="9.6" rx="4.8" fill="#080808" opacity="0.90" filter="url(#b1)"/>
<rect x="196.5" y="2506.3" width="30.0" height="5.4" rx="2.7" fill="#080808" opacity="0.08" filter="url(#b1)"/>
<rect x="229.3" y="2479.4" width="30.0" height="9.2" rx="4.6" fill="#080808" opacity="0.80" filter="url(#b1)"/>
<rect x="229.3" y="2506.0" width="30.0" height="6.0" rx="3.0" fill="#080808" opacity="0.20" filter="url(#b1)"/>
<rect x="262.2" y="2479.5" width="30.0" height="9.0" rx="4.5" fill="#080808" opacity="0.75" filter="url(#b1)"/>
<rect x="262.2" y="2505.5" width="30.0" height="7.0" rx="3.5" fill="#080808" opacity="0.40" filter="url(#b1)"/>
<rect x="295.1" y="2479.7" width="30.0" height="8.6" rx="4.3" fill="#080808" opacity="0.65" filter="url(#b1)"/>
<rect x="295.1" y="2504.8" width="30.0" height="8.5" rx="4.2" fill="#080808" opacity="0.70" filter="url(#b1)"/>
<rect x="327.9" y="2480.0" width="30.0" height="8.0" rx="4.0" fill="#080808" opacity="0.50" filter="url(#b1)"/>
<rect x="327.9" y="2504.4" width="30.0" height="9.2" rx="4.6" fill="#080808" opacity="0.85" filter="url(#b1)"/>
<rect x="360.8" y="2480.3" width="30.0" height="7.4" rx="3.7" fill="#080808" opacity="0.35" filter="url(#b1)"/>
<rect x="360.8" y="2504.1" width="30.0" height="9.8" rx="4.9" fill="#080808" opacity="0.95" filter="url(#b1)"/>
<rect x="393.6" y="2480.3" width="30.0" height="7.4" rx="3.7" fill="#080808" opacity="0.35" filter="url(#b1)"/>
<rect x="393.6" y="2504.0" width="30.0" height="10.0" rx="5.0" fill="#080808" opacity="1.00" filter="url(#b1)"/>
<rect x="428.5" y="2466.0" width="26.0" height="45.0" fill="#666" opacity="0.45" filter="url(#b2)"/>
<rect x="426.5" y="2480.1" width="30.0" height="7.8" rx="3.9" fill="#080808" opacity="0.45" filter="url(#b1)"/>
<rect x="425.5" y="2503.5" width="32.0" height="15.0" rx="7.5" fill="#080808" opacity="1.00" filter="url(#b1)"/>
<rect x="459.3" y="2480.8" width="30.0" height="6.4" rx="3.2" fill="#080808" opacity="0.10" filter="url(#b1)"/>
<rect x="459.3" y="2504.4" width="30.0" height="9.2" rx="4.6" fill="#080808" opacity="0.85" filter="url(#b1)"/>
<rect x="492.2" y="2480.7" width="30.0" height="6.6" rx="3.3" fill="#080808" opacity="0.15" filter="url(#b1)"/>
<rect x="492.2" y="2504.5" width="30.0" height="9.0" rx="4.5" fill="#080808" opacity="0.80" filter="url(#b1)"/>
<rect x="525.0" y="2480.6" width="30.0" height="6.8" rx="3.4" fill="#080808" opacity="0.20" filter="url(#b1)"/>
<rect x="525.0" y="2505.1" width="30.0" height="7.8" rx="3.9" fill="#080808" opacity="0.55" filter="url(#b1)"/>
<rect x="557.9" y="2480.2" width="30.0" height="7.6" rx="3.8" fill="#080808" opacity="0.40" filter="url(#b1)"/>
<rect x="557.9" y="2505.8" width="30.0" height="6.5" rx="3.2" fill="#080808" opacity="0.30" filter="url(#b1)"/>
<rect x="590.7" y="2479.6" width="30.0" height="8.8" rx="4.4" fill="#080808" opacity="0.70" filter="url(#b1)"/>
<rect x="590.7" y="2506.2" width="30.0" height="5.5" rx="2.8" fill="#080808" opacity="0.10" filter="url(#b1)"/>
<rect x="623.5" y="2479.2" width="30.0" height="9.6" rx="4.8" fill="#080808" opacity="0.90" filter="url(#b1)"/>
<rect x="623.5" y="2506.3" width="30.0" height="5.3" rx="2.6" fill="#080808" opacity="0.06" filter="url(#b1)"/>
<rect x="654.9" y="2479.0" width="33.0" height="12.0" rx="6.0" fill="#080808" opacity="1.00" filter="url(#b1)"/>
<rect x="656.4" y="2506.4" width="30.0" height="5.2" rx="2.6" fill="#080808" opacity="0.05" filter="url(#b1)"/>
<rect x="687.8" y="2477.5" width="33.0" height="15.0" rx="7.5" fill="#080808" opacity="1.00" filter="url(#b1)"/>
<rect x="689.2" y="2506.4" width="30.0" height="5.2" rx="2.6" fill="#080808" opacity="0.05" filter="url(#b1)"/>
</g>
<polygon points="181.5,2465.2 194.5,2472.0 181.5,2478.8" fill="#000" />
<polygon points="181.5,2488.2 194.5,2495.0 181.5,2501.8" fill="#000" />
<polygon points="181.5,2529.2 194.5,2536.0 181.5,2542.8" fill="#000" />
<rect x="857.5" y="2372.5" width="577.5" height="74.3" fill="url(#gg5)" />
<g clip-path="url(#cgg5)">
<rect x="857.5" y="2370.0" width="577.5" height="9.0" fill="#d8d8d8" filter="url(#b1)"/>
<rect x="858.0" y="2370.0" width="22.0" height="8.5" fill="#eeeeee" rx="3" filter="url(#b1)" opacity="0.95"/>
<rect x="856.5" y="2379.0" width="25.0" height="21.0" fill="url(#lanen)" opacity="0.9" filter="url(#b1)"/>
<rect x="856.5" y="2380.0" width="3.0" height="19.0" fill="#3a3a3a" opacity="0.45" filter="url(#b1)"/>
<rect x="878.5" y="2380.0" width="3.0" height="19.0" fill="#3a3a3a" opacity="0.45" filter="url(#b1)"/>
<rect x="856.0" y="2378.9" width="26.0" height="3.2" rx="1.6" fill="#0a0a0a" opacity="0.95" filter="url(#b1)"/>
<rect x="855.0" y="2397.2" width="28.0" height="5.5" rx="2.8" fill="#050505" opacity="0.95" filter="url(#b1)"/>
<rect x="891.6" y="2370.0" width="22.0" height="8.5" fill="#eeeeee" rx="3" filter="url(#b1)" opacity="0.95"/>
<rect x="890.1" y="2379.0" width="25.0" height="21.0" fill="url(#lanen)" opacity="0.9" filter="url(#b1)"/>
<rect x="890.1" y="2380.0" width="3.0" height="19.0" fill="#3a3a3a" opacity="0.45" filter="url(#b1)"/>
<rect x="912.1" y="2380.0" width="3.0" height="19.0" fill="#3a3a3a" opacity="0.45" filter="url(#b1)"/>
<rect x="889.6" y="2378.9" width="26.0" height="3.2" rx="1.6" fill="#0a0a0a" opacity="0.30" filter="url(#b1)"/>
<rect x="888.6" y="2397.2" width="28.0" height="5.5" rx="2.8" fill="#050505" opacity="0.95" filter="url(#b1)"/>
<rect x="925.2" y="2370.0" width="22.0" height="8.5" fill="#eeeeee" rx="3" filter="url(#b1)" opacity="0.95"/>
<rect x="923.7" y="2379.0" width="25.0" height="21.0" fill="url(#lanen)" opacity="0.9" filter="url(#b1)"/>
<rect x="923.7" y="2380.0" width="3.0" height="19.0" fill="#3a3a3a" opacity="0.45" filter="url(#b1)"/>
<rect x="945.7" y="2380.0" width="3.0" height="19.0" fill="#3a3a3a" opacity="0.45" filter="url(#b1)"/>
<rect x="923.2" y="2378.9" width="26.0" height="3.2" rx="1.6" fill="#0a0a0a" opacity="0.30" filter="url(#b1)"/>
<rect x="922.2" y="2397.2" width="28.0" height="5.5" rx="2.8" fill="#050505" opacity="0.95" filter="url(#b1)"/>
<rect x="958.8" y="2370.0" width="22.0" height="8.5" fill="#eeeeee" rx="3" filter="url(#b1)" opacity="0.95"/>
<rect x="957.3" y="2379.0" width="25.0" height="21.0" fill="url(#lanen)" opacity="0.9" filter="url(#b1)"/>
<rect x="957.3" y="2380.0" width="3.0" height="19.0" fill="#3a3a3a" opacity="0.45" filter="url(#b1)"/>
<rect x="979.3" y="2380.0" width="3.0" height="19.0" fill="#3a3a3a" opacity="0.45" filter="url(#b1)"/>
<rect x="956.8" y="2378.9" width="26.0" height="3.2" rx="1.6" fill="#0a0a0a" opacity="0.30" filter="url(#b1)"/>
<rect x="955.8" y="2397.2" width="28.0" height="5.5" rx="2.8" fill="#050505" opacity="0.95" filter="url(#b1)"/>
<rect x="992.4" y="2370.0" width="22.0" height="8.5" fill="#eeeeee" rx="3" filter="url(#b1)" opacity="0.95"/>
<rect x="990.9" y="2379.0" width="25.0" height="21.0" fill="url(#lanen)" opacity="0.9" filter="url(#b1)"/>
<rect x="990.9" y="2380.0" width="3.0" height="19.0" fill="#3a3a3a" opacity="0.45" filter="url(#b1)"/>
<rect x="1012.9" y="2380.0" width="3.0" height="19.0" fill="#3a3a3a" opacity="0.45" filter="url(#b1)"/>
<rect x="990.4" y="2378.9" width="26.0" height="3.2" rx="1.6" fill="#0a0a0a" opacity="0.30" filter="url(#b1)"/>
<rect x="989.4" y="2397.2" width="28.0" height="5.5" rx="2.8" fill="#050505" opacity="0.95" filter="url(#b1)"/>
<rect x="1026.0" y="2370.0" width="22.0" height="8.5" fill="#eeeeee" rx="3" filter="url(#b1)" opacity="0.95"/>
<rect x="1024.5" y="2379.0" width="25.0" height="21.0" fill="url(#lanen)" opacity="0.9" filter="url(#b1)"/>
<rect x="1024.5" y="2380.0" width="3.0" height="19.0" fill="#3a3a3a" opacity="0.45" filter="url(#b1)"/>
<rect x="1046.5" y="2380.0" width="3.0" height="19.0" fill="#3a3a3a" opacity="0.45" filter="url(#b1)"/>
<rect x="1024.0" y="2378.9" width="26.0" height="3.2" rx="1.6" fill="#0a0a0a" opacity="0.30" filter="url(#b1)"/>
<rect x="1023.0" y="2397.2" width="28.0" height="5.5" rx="2.8" fill="#050505" opacity="0.95" filter="url(#b1)"/>
<rect x="1059.6" y="2370.0" width="22.0" height="8.5" fill="#eeeeee" rx="3" filter="url(#b1)" opacity="0.95"/>
<rect x="1058.1" y="2379.0" width="25.0" height="21.0" fill="url(#lanen)" opacity="0.9" filter="url(#b1)"/>
<rect x="1058.1" y="2380.0" width="3.0" height="19.0" fill="#3a3a3a" opacity="0.45" filter="url(#b1)"/>
<rect x="1080.1" y="2380.0" width="3.0" height="19.0" fill="#3a3a3a" opacity="0.45" filter="url(#b1)"/>
<rect x="1057.6" y="2378.9" width="26.0" height="3.2" rx="1.6" fill="#0a0a0a" opacity="0.30" filter="url(#b1)"/>
<rect x="1056.6" y="2397.2" width="28.0" height="5.5" rx="2.8" fill="#050505" opacity="0.95" filter="url(#b1)"/>
<rect x="1093.2" y="2370.0" width="22.0" height="8.5" fill="#eeeeee" rx="3" filter="url(#b1)" opacity="0.95"/>
<rect x="1091.7" y="2379.0" width="25.0" height="21.0" fill="url(#lanen)" opacity="0.9" filter="url(#b1)"/>
<rect x="1091.7" y="2380.0" width="3.0" height="19.0" fill="#3a3a3a" opacity="0.45" filter="url(#b1)"/>
<rect x="1113.7" y="2380.0" width="3.0" height="19.0" fill="#3a3a3a" opacity="0.45" filter="url(#b1)"/>
<rect x="1091.2" y="2378.9" width="26.0" height="3.2" rx="1.6" fill="#0a0a0a" opacity="0.30" filter="url(#b1)"/>
<rect x="1090.2" y="2397.2" width="28.0" height="5.5" rx="2.8" fill="#050505" opacity="0.95" filter="url(#b1)"/>
<rect x="1126.8" y="2370.0" width="22.0" height="8.5" fill="#eeeeee" rx="3" filter="url(#b1)" opacity="0.95"/>
<rect x="1125.3" y="2379.0" width="25.0" height="21.0" fill="url(#lanen)" opacity="0.9" filter="url(#b1)"/>
<rect x="1125.3" y="2380.0" width="3.0" height="19.0" fill="#3a3a3a" opacity="0.45" filter="url(#b1)"/>
<rect x="1147.3" y="2380.0" width="3.0" height="19.0" fill="#3a3a3a" opacity="0.45" filter="url(#b1)"/>
<rect x="1124.8" y="2378.9" width="26.0" height="3.2" rx="1.6" fill="#0a0a0a" opacity="0.30" filter="url(#b1)"/>
<rect x="1123.8" y="2397.2" width="28.0" height="5.5" rx="2.8" fill="#050505" opacity="0.95" filter="url(#b1)"/>
<rect x="1160.4" y="2370.0" width="22.0" height="8.5" fill="#eeeeee" rx="3" filter="url(#b1)" opacity="0.95"/>
<rect x="1158.9" y="2379.0" width="25.0" height="21.0" fill="url(#lanen)" opacity="0.9" filter="url(#b1)"/>
<rect x="1158.9" y="2380.0" width="3.0" height="19.0" fill="#3a3a3a" opacity="0.45" filter="url(#b1)"/>
<rect x="1180.9" y="2380.0" width="3.0" height="19.0" fill="#3a3a3a" opacity="0.45" filter="url(#b1)"/>
<rect x="1158.4" y="2378.9" width="26.0" height="3.2" rx="1.6" fill="#0a0a0a" opacity="0.30" filter="url(#b1)"/>
<rect x="1157.4" y="2397.2" width="28.0" height="5.5" rx="2.8" fill="#050505" opacity="0.95" filter="url(#b1)"/>
<rect x="1194.0" y="2370.0" width="22.0" height="8.5" fill="#eeeeee" rx="3" filter="url(#b1)" opacity="0.95"/>
<rect x="1192.5" y="2379.0" width="25.0" height="21.0" fill="url(#lanen)" opacity="0.9" filter="url(#b1)"/>
<rect x="1192.5" y="2380.0" width="3.0" height="19.0" fill="#3a3a3a" opacity="0.45" filter="url(#b1)"/>
<rect x="1214.5" y="2380.0" width="3.0" height="19.0" fill="#3a3a3a" opacity="0.45" filter="url(#b1)"/>
<rect x="1192.0" y="2378.9" width="26.0" height="3.2" rx="1.6" fill="#0a0a0a" opacity="0.30" filter="url(#b1)"/>
<rect x="1191.0" y="2397.2" width="28.0" height="5.5" rx="2.8" fill="#050505" opacity="0.95" filter="url(#b1)"/>
<rect x="1227.6" y="2370.0" width="22.0" height="8.5" fill="#eeeeee" rx="3" filter="url(#b1)" opacity="0.95"/>
<rect x="1226.1" y="2379.0" width="25.0" height="21.0" fill="url(#lanen)" opacity="0.9" filter="url(#b1)"/>
<rect x="1226.1" y="2380.0" width="3.0" height="19.0" fill="#3a3a3a" opacity="0.45" filter="url(#b1)"/>
<rect x="1248.1" y="2380.0" width="3.0" height="19.0" fill="#3a3a3a" opacity="0.45" filter="url(#b1)"/>
<rect x="1225.6" y="2378.9" width="26.0" height="3.2" rx="1.6" fill="#0a0a0a" opacity="0.30" filter="url(#b1)"/>
<rect x="1224.6" y="2397.2" width="28.0" height="5.5" rx="2.8" fill="#050505" opacity="0.95" filter="url(#b1)"/>
<rect x="1261.2" y="2370.0" width="22.0" height="8.5" fill="#eeeeee" rx="3" filter="url(#b1)" opacity="0.95"/>
<rect x="1259.7" y="2379.0" width="25.0" height="21.0" fill="url(#lanen)" opacity="0.9" filter="url(#b1)"/>
<rect x="1259.7" y="2380.0" width="3.0" height="19.0" fill="#3a3a3a" opacity="0.45" filter="url(#b1)"/>
<rect x="1281.7" y="2380.0" width="3.0" height="19.0" fill="#3a3a3a" opacity="0.45" filter="url(#b1)"/>
<rect x="1259.2" y="2378.9" width="26.0" height="3.2" rx="1.6" fill="#0a0a0a" opacity="0.30" filter="url(#b1)"/>
<rect x="1258.2" y="2397.2" width="28.0" height="5.5" rx="2.8" fill="#050505" opacity="0.95" filter="url(#b1)"/>
<rect x="1294.8" y="2370.0" width="22.0" height="8.5" fill="#eeeeee" rx="3" filter="url(#b1)" opacity="0.95"/>
<rect x="1293.3" y="2379.0" width="25.0" height="21.0" fill="url(#lanen)" opacity="0.9" filter="url(#b1)"/>
<rect x="1293.3" y="2380.0" width="3.0" height="19.0" fill="#3a3a3a" opacity="0.45" filter="url(#b1)"/>
<rect x="1315.3" y="2380.0" width="3.0" height="19.0" fill="#3a3a3a" opacity="0.45" filter="url(#b1)"/>
<rect x="1292.8" y="2378.9" width="26.0" height="3.2" rx="1.6" fill="#0a0a0a" opacity="0.30" filter="url(#b1)"/>
<rect x="1291.8" y="2397.2" width="28.0" height="5.5" rx="2.8" fill="#050505" opacity="0.95" filter="url(#b1)"/>
<rect x="1328.4" y="2370.0" width="22.0" height="8.5" fill="#eeeeee" rx="3" filter="url(#b1)" opacity="0.95"/>
<rect x="1326.9" y="2379.0" width="25.0" height="21.0" fill="url(#lanen)" opacity="0.9" filter="url(#b1)"/>
<rect x="1326.9" y="2380.0" width="3.0" height="19.0" fill="#3a3a3a" opacity="0.45" filter="url(#b1)"/>
<rect x="1348.9" y="2380.0" width="3.0" height="19.0" fill="#3a3a3a" opacity="0.45" filter="url(#b1)"/>
<rect x="1326.4" y="2378.9" width="26.0" height="3.2" rx="1.6" fill="#0a0a0a" opacity="0.30" filter="url(#b1)"/>
<rect x="1325.4" y="2397.2" width="28.0" height="5.5" rx="2.8" fill="#050505" opacity="0.95" filter="url(#b1)"/>
<rect x="1362.0" y="2370.0" width="22.0" height="8.5" fill="#eeeeee" rx="3" filter="url(#b1)" opacity="0.95"/>
<rect x="1360.5" y="2379.0" width="25.0" height="21.0" fill="url(#lanen)" opacity="0.9" filter="url(#b1)"/>
<rect x="1360.5" y="2380.0" width="3.0" height="19.0" fill="#3a3a3a" opacity="0.45" filter="url(#b1)"/>
<rect x="1382.5" y="2380.0" width="3.0" height="19.0" fill="#3a3a3a" opacity="0.45" filter="url(#b1)"/>
<rect x="1360.0" y="2378.9" width="26.0" height="3.2" rx="1.6" fill="#0a0a0a" opacity="0.30" filter="url(#b1)"/>
<rect x="1359.0" y="2397.2" width="28.0" height="5.5" rx="2.8" fill="#050505" opacity="0.95" filter="url(#b1)"/>
<rect x="1395.6" y="2370.0" width="22.0" height="8.5" fill="#eeeeee" rx="3" filter="url(#b1)" opacity="0.95"/>
<rect x="1394.1" y="2379.0" width="25.0" height="21.0" fill="url(#lanen)" opacity="0.9" filter="url(#b1)"/>
<rect x="1394.1" y="2380.0" width="3.0" height="19.0" fill="#3a3a3a" opacity="0.45" filter="url(#b1)"/>
<rect x="1416.1" y="2380.0" width="3.0" height="19.0" fill="#3a3a3a" opacity="0.45" filter="url(#b1)"/>
<rect x="1393.6" y="2378.9" width="26.0" height="3.2" rx="1.6" fill="#0a0a0a" opacity="0.30" filter="url(#b1)"/>
<rect x="1392.6" y="2397.2" width="28.0" height="5.5" rx="2.8" fill="#050505" opacity="0.95" filter="url(#b1)"/>
<rect x="1429.2" y="2370.0" width="22.0" height="8.5" fill="#eeeeee" rx="3" filter="url(#b1)" opacity="0.95"/>
<rect x="1427.7" y="2379.0" width="25.0" height="21.0" fill="url(#lanen)" opacity="0.9" filter="url(#b1)"/>
<rect x="1427.7" y="2380.0" width="3.0" height="19.0" fill="#3a3a3a" opacity="0.45" filter="url(#b1)"/>
<rect x="1449.7" y="2380.0" width="3.0" height="19.0" fill="#3a3a3a" opacity="0.45" filter="url(#b1)"/>
<rect x="1427.2" y="2378.9" width="26.0" height="3.2" rx="1.6" fill="#0a0a0a" opacity="0.30" filter="url(#b1)"/>
<rect x="1426.2" y="2397.2" width="28.0" height="5.5" rx="2.8" fill="#050505" opacity="0.95" filter="url(#b1)"/>
</g>
<rect x="886.8" y="2459.0" width="544.8" height="90.0" fill="url(#gg6)" />
<g clip-path="url(#cgg6)">
<rect x="889.6" y="2467.6" width="30.0" height="4.4" rx="2.2" fill="#050505" opacity="0.08" filter="url(#b1)"/>
<rect x="889.1" y="2520.8" width="31.0" height="10.0" rx="5.0" fill="#050505" opacity="1.00" filter="url(#b1)"/>
<rect x="923.2" y="2467.4" width="30.0" height="4.8" rx="2.4" fill="#050505" opacity="0.15" filter="url(#b1)"/>
<rect x="922.7" y="2521.7" width="31.0" height="8.2" rx="4.1" fill="#050505" opacity="0.85" filter="url(#b1)"/>
<rect x="956.8" y="2467.5" width="30.0" height="4.6" rx="2.3" fill="#050505" opacity="0.12" filter="url(#b1)"/>
<rect x="956.3" y="2522.8" width="31.0" height="6.0" rx="3.0" fill="#050505" opacity="0.40" filter="url(#b1)"/>
<rect x="990.4" y="2466.8" width="30.0" height="6.0" rx="3.0" fill="#050505" opacity="0.40" filter="url(#b1)"/>
<rect x="989.9" y="2522.8" width="31.0" height="6.0" rx="3.0" fill="#050505" opacity="0.40" filter="url(#b1)"/>
<rect x="1024.0" y="2466.9" width="30.0" height="5.8" rx="2.9" fill="#050505" opacity="0.35" filter="url(#b1)"/>
<rect x="1023.5" y="2523.4" width="31.0" height="4.8" rx="2.4" fill="#050505" opacity="0.15" filter="url(#b1)"/>
<rect x="1057.6" y="2465.6" width="30.0" height="8.5" rx="4.2" fill="#050505" opacity="0.90" filter="url(#b1)"/>
<rect x="1057.1" y="2523.5" width="31.0" height="4.6" rx="2.3" fill="#050505" opacity="0.12" filter="url(#b1)"/>
<rect x="1091.2" y="2463.8" width="30.0" height="12.0" rx="6.0" fill="#050505" opacity="1.00" filter="url(#b1)"/>
<rect x="1090.7" y="2523.6" width="31.0" height="4.5" rx="2.2" fill="#050505" opacity="0.10" filter="url(#b1)"/>
<rect x="1123.3" y="2463.8" width="33.0" height="16.0" rx="8.0" fill="#050505" opacity="1.00" filter="url(#b1)"/>
<rect x="1124.3" y="2523.6" width="31.0" height="4.5" rx="2.2" fill="#050505" opacity="0.10" filter="url(#b1)"/>
<rect x="1158.4" y="2465.4" width="30.0" height="8.8" rx="4.4" fill="#050505" opacity="0.95" filter="url(#b1)"/>
<rect x="1157.9" y="2523.7" width="31.0" height="4.2" rx="2.1" fill="#050505" opacity="0.03" filter="url(#b1)"/>
<rect x="1192.0" y="2465.7" width="30.0" height="8.2" rx="4.1" fill="#050505" opacity="0.85" filter="url(#b1)"/>
<rect x="1191.5" y="2523.6" width="31.0" height="4.4" rx="2.2" fill="#050505" opacity="0.08" filter="url(#b1)"/>
<rect x="1225.6" y="2466.6" width="30.0" height="6.5" rx="3.2" fill="#050505" opacity="0.50" filter="url(#b1)"/>
<rect x="1225.1" y="2523.6" width="31.0" height="4.4" rx="2.2" fill="#050505" opacity="0.08" filter="url(#b1)"/>
<rect x="1259.2" y="2466.8" width="30.0" height="6.0" rx="3.0" fill="#050505" opacity="0.40" filter="url(#b1)"/>
<rect x="1258.7" y="2523.1" width="31.0" height="5.5" rx="2.8" fill="#050505" opacity="0.30" filter="url(#b1)"/>
<rect x="1292.8" y="2467.5" width="30.0" height="4.6" rx="2.3" fill="#050505" opacity="0.12" filter="url(#b1)"/>
<rect x="1292.3" y="2523.1" width="31.0" height="5.5" rx="2.8" fill="#050505" opacity="0.30" filter="url(#b1)"/>
<rect x="1326.4" y="2467.5" width="30.0" height="4.6" rx="2.3" fill="#050505" opacity="0.12" filter="url(#b1)"/>
<rect x="1325.9" y="2521.8" width="31.0" height="8.0" rx="4.0" fill="#050505" opacity="0.80" filter="url(#b1)"/>
<rect x="1360.0" y="2467.6" width="30.0" height="4.5" rx="2.2" fill="#050505" opacity="0.10" filter="url(#b1)"/>
<rect x="1359.5" y="2521.3" width="31.0" height="9.0" rx="4.5" fill="#050505" opacity="1.00" filter="url(#b1)"/>
<rect x="1393.6" y="2467.5" width="30.0" height="4.6" rx="2.3" fill="#050505" opacity="0.12" filter="url(#b1)"/>
<rect x="1391.1" y="2519.3" width="35.0" height="13.0" rx="6.5" fill="#050505" opacity="1.00" filter="url(#b1)"/>
</g>
<g clip-path="url(#cgg6)"><ellipse cx="1431.5" cy="2465" rx="4.5" ry="7" fill="#111" filter="url(#b1)"/><ellipse cx="1432" cy="2490" rx="3" ry="5" fill="#222" filter="url(#b1)"/></g>
<polygon points="873.8,2461.1 886.8,2467.9 873.8,2474.7" fill="#000" />
<polygon points="873.8,2484.7 886.8,2491.5 873.8,2498.3" fill="#000" />
<polygon points="873.8,2535.2 886.8,2542.0 873.8,2548.8" fill="#000" />
<rect x="292.7" y="2009.0" width="32.6" height="516.3" fill="none" stroke="#1a1a1a" stroke-width="2.7" />
<rect x="557.5" y="2009.0" width="33.0" height="516.3" fill="none" stroke="#1a1a1a" stroke-width="2.7" />
<rect x="990.3" y="2009.2" width="34.0" height="533.5" fill="none" stroke="#1a1a1a" stroke-width="2.7" />
<rect x="1258.2" y="2009.2" width="33.4" height="533.5" fill="none" stroke="#1a1a1a" stroke-width="2.7" />
<text x="0" y="2398.6" font-size="32" font-weight="bold" stroke="#000" stroke-width="1.7" stroke-linejoin="round" transform="translate(0,0) scale(1.18,1) translate(0,0)">h</text>
<text x="0" y="2484" font-size="32" font-weight="bold" stroke="#000" stroke-width="1.7" stroke-linejoin="round" transform="translate(0,0) scale(1.18,1) translate(0,0)">i</text>
<text x="738" y="2400.3" font-size="32" font-weight="bold" stroke="#000" stroke-width="1.7" stroke-linejoin="round" transform="translate(738,0) scale(1.18,1) translate(-738,0)">n</text>
<text x="738" y="2485.4" font-size="32" font-weight="bold" stroke="#000" stroke-width="1.7" stroke-linejoin="round" transform="translate(738,0) scale(1.18,1) translate(-738,0)">o</text>
</svg>
</body></html>
